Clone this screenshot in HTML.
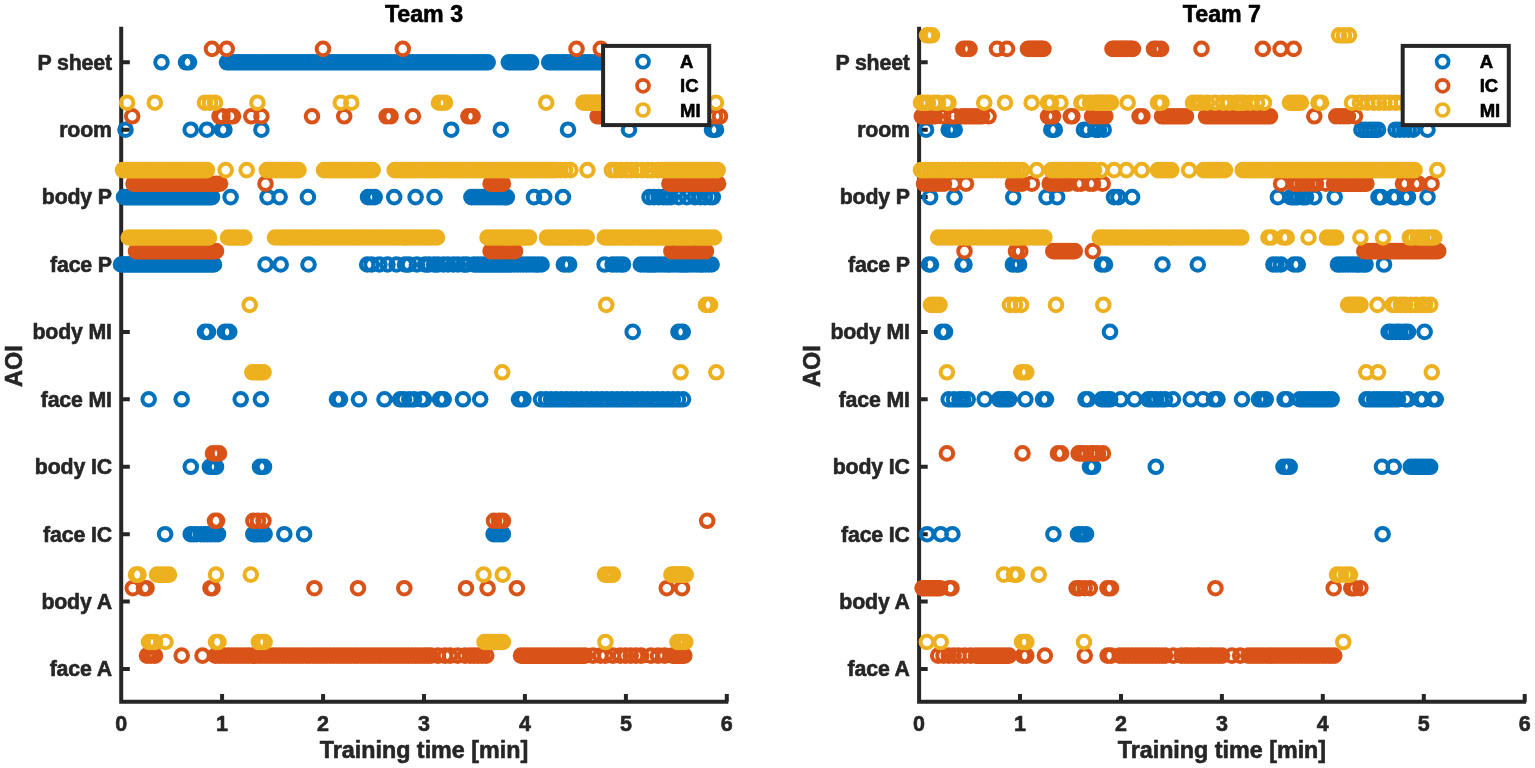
<!DOCTYPE html>
<html><head><meta charset="utf-8"><title>Team 3 / Team 7 AOI</title>
<style>html,body{margin:0;padding:0;background:#fff;width:1535px;height:768px;overflow:hidden}svg{display:block}</style>
</head><body>
<svg width="1535" height="768" viewBox="0 0 1535 768">
<rect width="100%" height="100%" fill="#fff"/>
<g>
<path d="M121.2 26.7V701.7H728.3" fill="none" stroke="#262626" stroke-width="4" stroke-linejoin="miter"/>
<path d="M121.2 62.3H129.8M121.2 129.7H129.8M121.2 197.1H129.8M121.2 264.5H129.8M121.2 331.9H129.8M121.2 399.3H129.8M121.2 466.8H129.8M121.2 534.2H129.8M121.2 601.6H129.8M121.2 669H129.8M222.1 701.7V694.1M323.1 701.7V694.1M424 701.7V694.1M524.9 701.7V694.1M625.9 701.7V694.1M726.8 701.7V694.1" stroke="#262626" stroke-width="4" fill="none"/>
<path fill="none" stroke="#0072BD" stroke-width="4.0" d="M155.2 62.3a6.3 6.3 0 1 0 12.6 0a6.3 6.3 0 1 0 -12.6 0M179.7 62.3a6.3 6.3 0 1 0 12.6 0a6.3 6.3 0 1 0 -12.6 0M182.7 62.3a6.3 6.3 0 1 0 12.6 0a6.3 6.3 0 1 0 -12.6 0M220.7 62.3a6.3 6.3 0 1 0 12.6 0a6.3 6.3 0 1 0 -12.6 0M223.2 62.3a6.3 6.3 0 1 0 12.6 0a6.3 6.3 0 1 0 -12.6 0M225.7 62.3a6.3 6.3 0 1 0 12.6 0a6.3 6.3 0 1 0 -12.6 0M228.2 62.3a6.3 6.3 0 1 0 12.6 0a6.3 6.3 0 1 0 -12.6 0M230.7 62.3a6.3 6.3 0 1 0 12.6 0a6.3 6.3 0 1 0 -12.6 0M233.2 62.3a6.3 6.3 0 1 0 12.6 0a6.3 6.3 0 1 0 -12.6 0M235.7 62.3a6.3 6.3 0 1 0 12.6 0a6.3 6.3 0 1 0 -12.6 0M238.2 62.3a6.3 6.3 0 1 0 12.6 0a6.3 6.3 0 1 0 -12.6 0M240.8 62.3a6.3 6.3 0 1 0 12.6 0a6.3 6.3 0 1 0 -12.6 0M243.3 62.3a6.3 6.3 0 1 0 12.6 0a6.3 6.3 0 1 0 -12.6 0M245.8 62.3a6.3 6.3 0 1 0 12.6 0a6.3 6.3 0 1 0 -12.6 0M248.3 62.3a6.3 6.3 0 1 0 12.6 0a6.3 6.3 0 1 0 -12.6 0M250.8 62.3a6.3 6.3 0 1 0 12.6 0a6.3 6.3 0 1 0 -12.6 0M253.3 62.3a6.3 6.3 0 1 0 12.6 0a6.3 6.3 0 1 0 -12.6 0M255.8 62.3a6.3 6.3 0 1 0 12.6 0a6.3 6.3 0 1 0 -12.6 0M258.3 62.3a6.3 6.3 0 1 0 12.6 0a6.3 6.3 0 1 0 -12.6 0M260.8 62.3a6.3 6.3 0 1 0 12.6 0a6.3 6.3 0 1 0 -12.6 0M263.3 62.3a6.3 6.3 0 1 0 12.6 0a6.3 6.3 0 1 0 -12.6 0M265.8 62.3a6.3 6.3 0 1 0 12.6 0a6.3 6.3 0 1 0 -12.6 0M268.3 62.3a6.3 6.3 0 1 0 12.6 0a6.3 6.3 0 1 0 -12.6 0M270.8 62.3a6.3 6.3 0 1 0 12.6 0a6.3 6.3 0 1 0 -12.6 0M273.3 62.3a6.3 6.3 0 1 0 12.6 0a6.3 6.3 0 1 0 -12.6 0M275.8 62.3a6.3 6.3 0 1 0 12.6 0a6.3 6.3 0 1 0 -12.6 0M278.4 62.3a6.3 6.3 0 1 0 12.6 0a6.3 6.3 0 1 0 -12.6 0M280.9 62.3a6.3 6.3 0 1 0 12.6 0a6.3 6.3 0 1 0 -12.6 0M283.4 62.3a6.3 6.3 0 1 0 12.6 0a6.3 6.3 0 1 0 -12.6 0M285.9 62.3a6.3 6.3 0 1 0 12.6 0a6.3 6.3 0 1 0 -12.6 0M288.4 62.3a6.3 6.3 0 1 0 12.6 0a6.3 6.3 0 1 0 -12.6 0M290.9 62.3a6.3 6.3 0 1 0 12.6 0a6.3 6.3 0 1 0 -12.6 0M293.4 62.3a6.3 6.3 0 1 0 12.6 0a6.3 6.3 0 1 0 -12.6 0M295.9 62.3a6.3 6.3 0 1 0 12.6 0a6.3 6.3 0 1 0 -12.6 0M298.4 62.3a6.3 6.3 0 1 0 12.6 0a6.3 6.3 0 1 0 -12.6 0M300.9 62.3a6.3 6.3 0 1 0 12.6 0a6.3 6.3 0 1 0 -12.6 0M303.4 62.3a6.3 6.3 0 1 0 12.6 0a6.3 6.3 0 1 0 -12.6 0M305.9 62.3a6.3 6.3 0 1 0 12.6 0a6.3 6.3 0 1 0 -12.6 0M308.4 62.3a6.3 6.3 0 1 0 12.6 0a6.3 6.3 0 1 0 -12.6 0M310.9 62.3a6.3 6.3 0 1 0 12.6 0a6.3 6.3 0 1 0 -12.6 0M313.4 62.3a6.3 6.3 0 1 0 12.6 0a6.3 6.3 0 1 0 -12.6 0M316 62.3a6.3 6.3 0 1 0 12.6 0a6.3 6.3 0 1 0 -12.6 0M318.5 62.3a6.3 6.3 0 1 0 12.6 0a6.3 6.3 0 1 0 -12.6 0M321 62.3a6.3 6.3 0 1 0 12.6 0a6.3 6.3 0 1 0 -12.6 0M323.5 62.3a6.3 6.3 0 1 0 12.6 0a6.3 6.3 0 1 0 -12.6 0M326 62.3a6.3 6.3 0 1 0 12.6 0a6.3 6.3 0 1 0 -12.6 0M328.5 62.3a6.3 6.3 0 1 0 12.6 0a6.3 6.3 0 1 0 -12.6 0M331 62.3a6.3 6.3 0 1 0 12.6 0a6.3 6.3 0 1 0 -12.6 0M333.5 62.3a6.3 6.3 0 1 0 12.6 0a6.3 6.3 0 1 0 -12.6 0M336 62.3a6.3 6.3 0 1 0 12.6 0a6.3 6.3 0 1 0 -12.6 0M338.5 62.3a6.3 6.3 0 1 0 12.6 0a6.3 6.3 0 1 0 -12.6 0M341 62.3a6.3 6.3 0 1 0 12.6 0a6.3 6.3 0 1 0 -12.6 0M343.5 62.3a6.3 6.3 0 1 0 12.6 0a6.3 6.3 0 1 0 -12.6 0M346 62.3a6.3 6.3 0 1 0 12.6 0a6.3 6.3 0 1 0 -12.6 0M348.5 62.3a6.3 6.3 0 1 0 12.6 0a6.3 6.3 0 1 0 -12.6 0M351.1 62.3a6.3 6.3 0 1 0 12.6 0a6.3 6.3 0 1 0 -12.6 0M353.6 62.3a6.3 6.3 0 1 0 12.6 0a6.3 6.3 0 1 0 -12.6 0M356.1 62.3a6.3 6.3 0 1 0 12.6 0a6.3 6.3 0 1 0 -12.6 0M358.6 62.3a6.3 6.3 0 1 0 12.6 0a6.3 6.3 0 1 0 -12.6 0M361.1 62.3a6.3 6.3 0 1 0 12.6 0a6.3 6.3 0 1 0 -12.6 0M363.6 62.3a6.3 6.3 0 1 0 12.6 0a6.3 6.3 0 1 0 -12.6 0M366.1 62.3a6.3 6.3 0 1 0 12.6 0a6.3 6.3 0 1 0 -12.6 0M368.6 62.3a6.3 6.3 0 1 0 12.6 0a6.3 6.3 0 1 0 -12.6 0M371.1 62.3a6.3 6.3 0 1 0 12.6 0a6.3 6.3 0 1 0 -12.6 0M373.6 62.3a6.3 6.3 0 1 0 12.6 0a6.3 6.3 0 1 0 -12.6 0M376.1 62.3a6.3 6.3 0 1 0 12.6 0a6.3 6.3 0 1 0 -12.6 0M378.6 62.3a6.3 6.3 0 1 0 12.6 0a6.3 6.3 0 1 0 -12.6 0M381.1 62.3a6.3 6.3 0 1 0 12.6 0a6.3 6.3 0 1 0 -12.6 0M383.6 62.3a6.3 6.3 0 1 0 12.6 0a6.3 6.3 0 1 0 -12.6 0M386.1 62.3a6.3 6.3 0 1 0 12.6 0a6.3 6.3 0 1 0 -12.6 0M388.7 62.3a6.3 6.3 0 1 0 12.6 0a6.3 6.3 0 1 0 -12.6 0M391.2 62.3a6.3 6.3 0 1 0 12.6 0a6.3 6.3 0 1 0 -12.6 0M393.7 62.3a6.3 6.3 0 1 0 12.6 0a6.3 6.3 0 1 0 -12.6 0M396.2 62.3a6.3 6.3 0 1 0 12.6 0a6.3 6.3 0 1 0 -12.6 0M398.7 62.3a6.3 6.3 0 1 0 12.6 0a6.3 6.3 0 1 0 -12.6 0M401.2 62.3a6.3 6.3 0 1 0 12.6 0a6.3 6.3 0 1 0 -12.6 0M403.7 62.3a6.3 6.3 0 1 0 12.6 0a6.3 6.3 0 1 0 -12.6 0M406.2 62.3a6.3 6.3 0 1 0 12.6 0a6.3 6.3 0 1 0 -12.6 0M408.7 62.3a6.3 6.3 0 1 0 12.6 0a6.3 6.3 0 1 0 -12.6 0M411.2 62.3a6.3 6.3 0 1 0 12.6 0a6.3 6.3 0 1 0 -12.6 0M413.7 62.3a6.3 6.3 0 1 0 12.6 0a6.3 6.3 0 1 0 -12.6 0M416.2 62.3a6.3 6.3 0 1 0 12.6 0a6.3 6.3 0 1 0 -12.6 0M418.7 62.3a6.3 6.3 0 1 0 12.6 0a6.3 6.3 0 1 0 -12.6 0M421.2 62.3a6.3 6.3 0 1 0 12.6 0a6.3 6.3 0 1 0 -12.6 0M423.7 62.3a6.3 6.3 0 1 0 12.6 0a6.3 6.3 0 1 0 -12.6 0M426.3 62.3a6.3 6.3 0 1 0 12.6 0a6.3 6.3 0 1 0 -12.6 0M428.8 62.3a6.3 6.3 0 1 0 12.6 0a6.3 6.3 0 1 0 -12.6 0M431.3 62.3a6.3 6.3 0 1 0 12.6 0a6.3 6.3 0 1 0 -12.6 0M433.8 62.3a6.3 6.3 0 1 0 12.6 0a6.3 6.3 0 1 0 -12.6 0M436.3 62.3a6.3 6.3 0 1 0 12.6 0a6.3 6.3 0 1 0 -12.6 0M438.8 62.3a6.3 6.3 0 1 0 12.6 0a6.3 6.3 0 1 0 -12.6 0M441.3 62.3a6.3 6.3 0 1 0 12.6 0a6.3 6.3 0 1 0 -12.6 0M443.8 62.3a6.3 6.3 0 1 0 12.6 0a6.3 6.3 0 1 0 -12.6 0M446.3 62.3a6.3 6.3 0 1 0 12.6 0a6.3 6.3 0 1 0 -12.6 0M448.8 62.3a6.3 6.3 0 1 0 12.6 0a6.3 6.3 0 1 0 -12.6 0M451.3 62.3a6.3 6.3 0 1 0 12.6 0a6.3 6.3 0 1 0 -12.6 0M453.8 62.3a6.3 6.3 0 1 0 12.6 0a6.3 6.3 0 1 0 -12.6 0M456.3 62.3a6.3 6.3 0 1 0 12.6 0a6.3 6.3 0 1 0 -12.6 0M458.8 62.3a6.3 6.3 0 1 0 12.6 0a6.3 6.3 0 1 0 -12.6 0M461.3 62.3a6.3 6.3 0 1 0 12.6 0a6.3 6.3 0 1 0 -12.6 0M463.9 62.3a6.3 6.3 0 1 0 12.6 0a6.3 6.3 0 1 0 -12.6 0M466.4 62.3a6.3 6.3 0 1 0 12.6 0a6.3 6.3 0 1 0 -12.6 0M468.9 62.3a6.3 6.3 0 1 0 12.6 0a6.3 6.3 0 1 0 -12.6 0M471.4 62.3a6.3 6.3 0 1 0 12.6 0a6.3 6.3 0 1 0 -12.6 0M473.9 62.3a6.3 6.3 0 1 0 12.6 0a6.3 6.3 0 1 0 -12.6 0M476.4 62.3a6.3 6.3 0 1 0 12.6 0a6.3 6.3 0 1 0 -12.6 0M478.9 62.3a6.3 6.3 0 1 0 12.6 0a6.3 6.3 0 1 0 -12.6 0M481.4 62.3a6.3 6.3 0 1 0 12.6 0a6.3 6.3 0 1 0 -12.6 0M502.5 62.3a6.3 6.3 0 1 0 12.6 0a6.3 6.3 0 1 0 -12.6 0M505 62.3a6.3 6.3 0 1 0 12.6 0a6.3 6.3 0 1 0 -12.6 0M507.5 62.3a6.3 6.3 0 1 0 12.6 0a6.3 6.3 0 1 0 -12.6 0M509.9 62.3a6.3 6.3 0 1 0 12.6 0a6.3 6.3 0 1 0 -12.6 0M512.4 62.3a6.3 6.3 0 1 0 12.6 0a6.3 6.3 0 1 0 -12.6 0M514.9 62.3a6.3 6.3 0 1 0 12.6 0a6.3 6.3 0 1 0 -12.6 0M517.4 62.3a6.3 6.3 0 1 0 12.6 0a6.3 6.3 0 1 0 -12.6 0M519.8 62.3a6.3 6.3 0 1 0 12.6 0a6.3 6.3 0 1 0 -12.6 0M522.3 62.3a6.3 6.3 0 1 0 12.6 0a6.3 6.3 0 1 0 -12.6 0M524.8 62.3a6.3 6.3 0 1 0 12.6 0a6.3 6.3 0 1 0 -12.6 0M542.9 62.3a6.3 6.3 0 1 0 12.6 0a6.3 6.3 0 1 0 -12.6 0M545.4 62.3a6.3 6.3 0 1 0 12.6 0a6.3 6.3 0 1 0 -12.6 0M548 62.3a6.3 6.3 0 1 0 12.6 0a6.3 6.3 0 1 0 -12.6 0M550.5 62.3a6.3 6.3 0 1 0 12.6 0a6.3 6.3 0 1 0 -12.6 0M553 62.3a6.3 6.3 0 1 0 12.6 0a6.3 6.3 0 1 0 -12.6 0M555.6 62.3a6.3 6.3 0 1 0 12.6 0a6.3 6.3 0 1 0 -12.6 0M558.1 62.3a6.3 6.3 0 1 0 12.6 0a6.3 6.3 0 1 0 -12.6 0M560.6 62.3a6.3 6.3 0 1 0 12.6 0a6.3 6.3 0 1 0 -12.6 0M563.2 62.3a6.3 6.3 0 1 0 12.6 0a6.3 6.3 0 1 0 -12.6 0M565.7 62.3a6.3 6.3 0 1 0 12.6 0a6.3 6.3 0 1 0 -12.6 0M568.2 62.3a6.3 6.3 0 1 0 12.6 0a6.3 6.3 0 1 0 -12.6 0M570.8 62.3a6.3 6.3 0 1 0 12.6 0a6.3 6.3 0 1 0 -12.6 0M573.3 62.3a6.3 6.3 0 1 0 12.6 0a6.3 6.3 0 1 0 -12.6 0M575.8 62.3a6.3 6.3 0 1 0 12.6 0a6.3 6.3 0 1 0 -12.6 0M578.4 62.3a6.3 6.3 0 1 0 12.6 0a6.3 6.3 0 1 0 -12.6 0M580.9 62.3a6.3 6.3 0 1 0 12.6 0a6.3 6.3 0 1 0 -12.6 0M583.4 62.3a6.3 6.3 0 1 0 12.6 0a6.3 6.3 0 1 0 -12.6 0M586 62.3a6.3 6.3 0 1 0 12.6 0a6.3 6.3 0 1 0 -12.6 0M588.5 62.3a6.3 6.3 0 1 0 12.6 0a6.3 6.3 0 1 0 -12.6 0M591 62.3a6.3 6.3 0 1 0 12.6 0a6.3 6.3 0 1 0 -12.6 0M593.6 62.3a6.3 6.3 0 1 0 12.6 0a6.3 6.3 0 1 0 -12.6 0M596.1 62.3a6.3 6.3 0 1 0 12.6 0a6.3 6.3 0 1 0 -12.6 0M598.6 62.3a6.3 6.3 0 1 0 12.6 0a6.3 6.3 0 1 0 -12.6 0M601.2 62.3a6.3 6.3 0 1 0 12.6 0a6.3 6.3 0 1 0 -12.6 0M603.7 62.3a6.3 6.3 0 1 0 12.6 0a6.3 6.3 0 1 0 -12.6 0M119.2 129.7a6.3 6.3 0 1 0 12.6 0a6.3 6.3 0 1 0 -12.6 0M184.4 129.7a6.3 6.3 0 1 0 12.6 0a6.3 6.3 0 1 0 -12.6 0M200.6 129.7a6.3 6.3 0 1 0 12.6 0a6.3 6.3 0 1 0 -12.6 0M215.7 129.7a6.3 6.3 0 1 0 12.6 0a6.3 6.3 0 1 0 -12.6 0M218.1 129.7a6.3 6.3 0 1 0 12.6 0a6.3 6.3 0 1 0 -12.6 0M255.1 129.7a6.3 6.3 0 1 0 12.6 0a6.3 6.3 0 1 0 -12.6 0M445 129.7a6.3 6.3 0 1 0 12.6 0a6.3 6.3 0 1 0 -12.6 0M494.5 129.7a6.3 6.3 0 1 0 12.6 0a6.3 6.3 0 1 0 -12.6 0M561.7 129.7a6.3 6.3 0 1 0 12.6 0a6.3 6.3 0 1 0 -12.6 0M622.7 129.7a6.3 6.3 0 1 0 12.6 0a6.3 6.3 0 1 0 -12.6 0M705.7 129.7a6.3 6.3 0 1 0 12.6 0a6.3 6.3 0 1 0 -12.6 0M709.7 129.7a6.3 6.3 0 1 0 12.6 0a6.3 6.3 0 1 0 -12.6 0M117.7 197.1a6.3 6.3 0 1 0 12.6 0a6.3 6.3 0 1 0 -12.6 0M120.2 197.1a6.3 6.3 0 1 0 12.6 0a6.3 6.3 0 1 0 -12.6 0M122.7 197.1a6.3 6.3 0 1 0 12.6 0a6.3 6.3 0 1 0 -12.6 0M125.2 197.1a6.3 6.3 0 1 0 12.6 0a6.3 6.3 0 1 0 -12.6 0M127.8 197.1a6.3 6.3 0 1 0 12.6 0a6.3 6.3 0 1 0 -12.6 0M130.3 197.1a6.3 6.3 0 1 0 12.6 0a6.3 6.3 0 1 0 -12.6 0M132.8 197.1a6.3 6.3 0 1 0 12.6 0a6.3 6.3 0 1 0 -12.6 0M135.3 197.1a6.3 6.3 0 1 0 12.6 0a6.3 6.3 0 1 0 -12.6 0M137.8 197.1a6.3 6.3 0 1 0 12.6 0a6.3 6.3 0 1 0 -12.6 0M140.3 197.1a6.3 6.3 0 1 0 12.6 0a6.3 6.3 0 1 0 -12.6 0M142.8 197.1a6.3 6.3 0 1 0 12.6 0a6.3 6.3 0 1 0 -12.6 0M145.4 197.1a6.3 6.3 0 1 0 12.6 0a6.3 6.3 0 1 0 -12.6 0M147.9 197.1a6.3 6.3 0 1 0 12.6 0a6.3 6.3 0 1 0 -12.6 0M150.4 197.1a6.3 6.3 0 1 0 12.6 0a6.3 6.3 0 1 0 -12.6 0M152.9 197.1a6.3 6.3 0 1 0 12.6 0a6.3 6.3 0 1 0 -12.6 0M155.4 197.1a6.3 6.3 0 1 0 12.6 0a6.3 6.3 0 1 0 -12.6 0M157.9 197.1a6.3 6.3 0 1 0 12.6 0a6.3 6.3 0 1 0 -12.6 0M160.4 197.1a6.3 6.3 0 1 0 12.6 0a6.3 6.3 0 1 0 -12.6 0M163 197.1a6.3 6.3 0 1 0 12.6 0a6.3 6.3 0 1 0 -12.6 0M165.5 197.1a6.3 6.3 0 1 0 12.6 0a6.3 6.3 0 1 0 -12.6 0M168 197.1a6.3 6.3 0 1 0 12.6 0a6.3 6.3 0 1 0 -12.6 0M170.5 197.1a6.3 6.3 0 1 0 12.6 0a6.3 6.3 0 1 0 -12.6 0M173 197.1a6.3 6.3 0 1 0 12.6 0a6.3 6.3 0 1 0 -12.6 0M175.5 197.1a6.3 6.3 0 1 0 12.6 0a6.3 6.3 0 1 0 -12.6 0M178 197.1a6.3 6.3 0 1 0 12.6 0a6.3 6.3 0 1 0 -12.6 0M180.6 197.1a6.3 6.3 0 1 0 12.6 0a6.3 6.3 0 1 0 -12.6 0M183.1 197.1a6.3 6.3 0 1 0 12.6 0a6.3 6.3 0 1 0 -12.6 0M185.6 197.1a6.3 6.3 0 1 0 12.6 0a6.3 6.3 0 1 0 -12.6 0M188.1 197.1a6.3 6.3 0 1 0 12.6 0a6.3 6.3 0 1 0 -12.6 0M190.6 197.1a6.3 6.3 0 1 0 12.6 0a6.3 6.3 0 1 0 -12.6 0M193.1 197.1a6.3 6.3 0 1 0 12.6 0a6.3 6.3 0 1 0 -12.6 0M195.6 197.1a6.3 6.3 0 1 0 12.6 0a6.3 6.3 0 1 0 -12.6 0M198.2 197.1a6.3 6.3 0 1 0 12.6 0a6.3 6.3 0 1 0 -12.6 0M200.7 197.1a6.3 6.3 0 1 0 12.6 0a6.3 6.3 0 1 0 -12.6 0M203.2 197.1a6.3 6.3 0 1 0 12.6 0a6.3 6.3 0 1 0 -12.6 0M205.7 197.1a6.3 6.3 0 1 0 12.6 0a6.3 6.3 0 1 0 -12.6 0M224.3 197.1a6.3 6.3 0 1 0 12.6 0a6.3 6.3 0 1 0 -12.6 0M261.2 197.1a6.3 6.3 0 1 0 12.6 0a6.3 6.3 0 1 0 -12.6 0M273.3 197.1a6.3 6.3 0 1 0 12.6 0a6.3 6.3 0 1 0 -12.6 0M301.6 197.1a6.3 6.3 0 1 0 12.6 0a6.3 6.3 0 1 0 -12.6 0M361.7 197.1a6.3 6.3 0 1 0 12.6 0a6.3 6.3 0 1 0 -12.6 0M364.7 197.1a6.3 6.3 0 1 0 12.6 0a6.3 6.3 0 1 0 -12.6 0M368.4 197.1a6.3 6.3 0 1 0 12.6 0a6.3 6.3 0 1 0 -12.6 0M387.9 197.1a6.3 6.3 0 1 0 12.6 0a6.3 6.3 0 1 0 -12.6 0M409.3 197.1a6.3 6.3 0 1 0 12.6 0a6.3 6.3 0 1 0 -12.6 0M428.2 197.1a6.3 6.3 0 1 0 12.6 0a6.3 6.3 0 1 0 -12.6 0M465.1 197.1a6.3 6.3 0 1 0 12.6 0a6.3 6.3 0 1 0 -12.6 0M467.6 197.1a6.3 6.3 0 1 0 12.6 0a6.3 6.3 0 1 0 -12.6 0M470.2 197.1a6.3 6.3 0 1 0 12.6 0a6.3 6.3 0 1 0 -12.6 0M472.7 197.1a6.3 6.3 0 1 0 12.6 0a6.3 6.3 0 1 0 -12.6 0M475.2 197.1a6.3 6.3 0 1 0 12.6 0a6.3 6.3 0 1 0 -12.6 0M477.8 197.1a6.3 6.3 0 1 0 12.6 0a6.3 6.3 0 1 0 -12.6 0M480.3 197.1a6.3 6.3 0 1 0 12.6 0a6.3 6.3 0 1 0 -12.6 0M482.8 197.1a6.3 6.3 0 1 0 12.6 0a6.3 6.3 0 1 0 -12.6 0M485.4 197.1a6.3 6.3 0 1 0 12.6 0a6.3 6.3 0 1 0 -12.6 0M487.9 197.1a6.3 6.3 0 1 0 12.6 0a6.3 6.3 0 1 0 -12.6 0M490.5 197.1a6.3 6.3 0 1 0 12.6 0a6.3 6.3 0 1 0 -12.6 0M493 197.1a6.3 6.3 0 1 0 12.6 0a6.3 6.3 0 1 0 -12.6 0M495.5 197.1a6.3 6.3 0 1 0 12.6 0a6.3 6.3 0 1 0 -12.6 0M498.1 197.1a6.3 6.3 0 1 0 12.6 0a6.3 6.3 0 1 0 -12.6 0M500.6 197.1a6.3 6.3 0 1 0 12.6 0a6.3 6.3 0 1 0 -12.6 0M527.7 197.1a6.3 6.3 0 1 0 12.6 0a6.3 6.3 0 1 0 -12.6 0M537.9 197.1a6.3 6.3 0 1 0 12.6 0a6.3 6.3 0 1 0 -12.6 0M556.7 197.1a6.3 6.3 0 1 0 12.6 0a6.3 6.3 0 1 0 -12.6 0M643.2 197.1a6.3 6.3 0 1 0 12.6 0a6.3 6.3 0 1 0 -12.6 0M647.7 197.1a6.3 6.3 0 1 0 12.6 0a6.3 6.3 0 1 0 -12.6 0M652.4 197.1a6.3 6.3 0 1 0 12.6 0a6.3 6.3 0 1 0 -12.6 0M656.7 197.1a6.3 6.3 0 1 0 12.6 0a6.3 6.3 0 1 0 -12.6 0M660.7 197.1a6.3 6.3 0 1 0 12.6 0a6.3 6.3 0 1 0 -12.6 0M664.6 197.1a6.3 6.3 0 1 0 12.6 0a6.3 6.3 0 1 0 -12.6 0M672.6 197.1a6.3 6.3 0 1 0 12.6 0a6.3 6.3 0 1 0 -12.6 0M680.6 197.1a6.3 6.3 0 1 0 12.6 0a6.3 6.3 0 1 0 -12.6 0M688.6 197.1a6.3 6.3 0 1 0 12.6 0a6.3 6.3 0 1 0 -12.6 0M694.3 197.1a6.3 6.3 0 1 0 12.6 0a6.3 6.3 0 1 0 -12.6 0M698.7 197.1a6.3 6.3 0 1 0 12.6 0a6.3 6.3 0 1 0 -12.6 0M703.7 197.1a6.3 6.3 0 1 0 12.6 0a6.3 6.3 0 1 0 -12.6 0M706.5 197.1a6.3 6.3 0 1 0 12.6 0a6.3 6.3 0 1 0 -12.6 0M114.7 264.5a6.3 6.3 0 1 0 12.6 0a6.3 6.3 0 1 0 -12.6 0M117.2 264.5a6.3 6.3 0 1 0 12.6 0a6.3 6.3 0 1 0 -12.6 0M119.7 264.5a6.3 6.3 0 1 0 12.6 0a6.3 6.3 0 1 0 -12.6 0M122.2 264.5a6.3 6.3 0 1 0 12.6 0a6.3 6.3 0 1 0 -12.6 0M124.8 264.5a6.3 6.3 0 1 0 12.6 0a6.3 6.3 0 1 0 -12.6 0M127.3 264.5a6.3 6.3 0 1 0 12.6 0a6.3 6.3 0 1 0 -12.6 0M129.8 264.5a6.3 6.3 0 1 0 12.6 0a6.3 6.3 0 1 0 -12.6 0M132.3 264.5a6.3 6.3 0 1 0 12.6 0a6.3 6.3 0 1 0 -12.6 0M134.8 264.5a6.3 6.3 0 1 0 12.6 0a6.3 6.3 0 1 0 -12.6 0M137.3 264.5a6.3 6.3 0 1 0 12.6 0a6.3 6.3 0 1 0 -12.6 0M139.8 264.5a6.3 6.3 0 1 0 12.6 0a6.3 6.3 0 1 0 -12.6 0M142.3 264.5a6.3 6.3 0 1 0 12.6 0a6.3 6.3 0 1 0 -12.6 0M144.9 264.5a6.3 6.3 0 1 0 12.6 0a6.3 6.3 0 1 0 -12.6 0M147.4 264.5a6.3 6.3 0 1 0 12.6 0a6.3 6.3 0 1 0 -12.6 0M149.9 264.5a6.3 6.3 0 1 0 12.6 0a6.3 6.3 0 1 0 -12.6 0M152.4 264.5a6.3 6.3 0 1 0 12.6 0a6.3 6.3 0 1 0 -12.6 0M154.9 264.5a6.3 6.3 0 1 0 12.6 0a6.3 6.3 0 1 0 -12.6 0M157.4 264.5a6.3 6.3 0 1 0 12.6 0a6.3 6.3 0 1 0 -12.6 0M159.9 264.5a6.3 6.3 0 1 0 12.6 0a6.3 6.3 0 1 0 -12.6 0M162.5 264.5a6.3 6.3 0 1 0 12.6 0a6.3 6.3 0 1 0 -12.6 0M165 264.5a6.3 6.3 0 1 0 12.6 0a6.3 6.3 0 1 0 -12.6 0M167.5 264.5a6.3 6.3 0 1 0 12.6 0a6.3 6.3 0 1 0 -12.6 0M170 264.5a6.3 6.3 0 1 0 12.6 0a6.3 6.3 0 1 0 -12.6 0M172.5 264.5a6.3 6.3 0 1 0 12.6 0a6.3 6.3 0 1 0 -12.6 0M175 264.5a6.3 6.3 0 1 0 12.6 0a6.3 6.3 0 1 0 -12.6 0M177.5 264.5a6.3 6.3 0 1 0 12.6 0a6.3 6.3 0 1 0 -12.6 0M180.1 264.5a6.3 6.3 0 1 0 12.6 0a6.3 6.3 0 1 0 -12.6 0M182.6 264.5a6.3 6.3 0 1 0 12.6 0a6.3 6.3 0 1 0 -12.6 0M185.1 264.5a6.3 6.3 0 1 0 12.6 0a6.3 6.3 0 1 0 -12.6 0M187.6 264.5a6.3 6.3 0 1 0 12.6 0a6.3 6.3 0 1 0 -12.6 0M190.1 264.5a6.3 6.3 0 1 0 12.6 0a6.3 6.3 0 1 0 -12.6 0M192.6 264.5a6.3 6.3 0 1 0 12.6 0a6.3 6.3 0 1 0 -12.6 0M195.1 264.5a6.3 6.3 0 1 0 12.6 0a6.3 6.3 0 1 0 -12.6 0M197.6 264.5a6.3 6.3 0 1 0 12.6 0a6.3 6.3 0 1 0 -12.6 0M200.2 264.5a6.3 6.3 0 1 0 12.6 0a6.3 6.3 0 1 0 -12.6 0M202.7 264.5a6.3 6.3 0 1 0 12.6 0a6.3 6.3 0 1 0 -12.6 0M205.2 264.5a6.3 6.3 0 1 0 12.6 0a6.3 6.3 0 1 0 -12.6 0M207.7 264.5a6.3 6.3 0 1 0 12.6 0a6.3 6.3 0 1 0 -12.6 0M259.2 264.5a6.3 6.3 0 1 0 12.6 0a6.3 6.3 0 1 0 -12.6 0M274.4 264.5a6.3 6.3 0 1 0 12.6 0a6.3 6.3 0 1 0 -12.6 0M302.2 264.5a6.3 6.3 0 1 0 12.6 0a6.3 6.3 0 1 0 -12.6 0M360.9 264.5a6.3 6.3 0 1 0 12.6 0a6.3 6.3 0 1 0 -12.6 0M365.2 264.5a6.3 6.3 0 1 0 12.6 0a6.3 6.3 0 1 0 -12.6 0M373.1 264.5a6.3 6.3 0 1 0 12.6 0a6.3 6.3 0 1 0 -12.6 0M381.2 264.5a6.3 6.3 0 1 0 12.6 0a6.3 6.3 0 1 0 -12.6 0M390.2 264.5a6.3 6.3 0 1 0 12.6 0a6.3 6.3 0 1 0 -12.6 0M398.7 264.5a6.3 6.3 0 1 0 12.6 0a6.3 6.3 0 1 0 -12.6 0M402.7 264.5a6.3 6.3 0 1 0 12.6 0a6.3 6.3 0 1 0 -12.6 0M410.6 264.5a6.3 6.3 0 1 0 12.6 0a6.3 6.3 0 1 0 -12.6 0M418.7 264.5a6.3 6.3 0 1 0 12.6 0a6.3 6.3 0 1 0 -12.6 0M422.7 264.5a6.3 6.3 0 1 0 12.6 0a6.3 6.3 0 1 0 -12.6 0M427.7 264.5a6.3 6.3 0 1 0 12.6 0a6.3 6.3 0 1 0 -12.6 0M431.7 264.5a6.3 6.3 0 1 0 12.6 0a6.3 6.3 0 1 0 -12.6 0M437.2 264.5a6.3 6.3 0 1 0 12.6 0a6.3 6.3 0 1 0 -12.6 0M441.7 264.5a6.3 6.3 0 1 0 12.6 0a6.3 6.3 0 1 0 -12.6 0M447.2 264.5a6.3 6.3 0 1 0 12.6 0a6.3 6.3 0 1 0 -12.6 0M451.7 264.5a6.3 6.3 0 1 0 12.6 0a6.3 6.3 0 1 0 -12.6 0M457 264.5a6.3 6.3 0 1 0 12.6 0a6.3 6.3 0 1 0 -12.6 0M460.7 264.5a6.3 6.3 0 1 0 12.6 0a6.3 6.3 0 1 0 -12.6 0M467.6 264.5a6.3 6.3 0 1 0 12.6 0a6.3 6.3 0 1 0 -12.6 0M471.7 264.5a6.3 6.3 0 1 0 12.6 0a6.3 6.3 0 1 0 -12.6 0M474.7 264.5a6.3 6.3 0 1 0 12.6 0a6.3 6.3 0 1 0 -12.6 0M477.8 264.5a6.3 6.3 0 1 0 12.6 0a6.3 6.3 0 1 0 -12.6 0M480.8 264.5a6.3 6.3 0 1 0 12.6 0a6.3 6.3 0 1 0 -12.6 0M483.8 264.5a6.3 6.3 0 1 0 12.6 0a6.3 6.3 0 1 0 -12.6 0M486.8 264.5a6.3 6.3 0 1 0 12.6 0a6.3 6.3 0 1 0 -12.6 0M489.9 264.5a6.3 6.3 0 1 0 12.6 0a6.3 6.3 0 1 0 -12.6 0M492.9 264.5a6.3 6.3 0 1 0 12.6 0a6.3 6.3 0 1 0 -12.6 0M495.9 264.5a6.3 6.3 0 1 0 12.6 0a6.3 6.3 0 1 0 -12.6 0M499 264.5a6.3 6.3 0 1 0 12.6 0a6.3 6.3 0 1 0 -12.6 0M502 264.5a6.3 6.3 0 1 0 12.6 0a6.3 6.3 0 1 0 -12.6 0M505 264.5a6.3 6.3 0 1 0 12.6 0a6.3 6.3 0 1 0 -12.6 0M508 264.5a6.3 6.3 0 1 0 12.6 0a6.3 6.3 0 1 0 -12.6 0M511.1 264.5a6.3 6.3 0 1 0 12.6 0a6.3 6.3 0 1 0 -12.6 0M514.1 264.5a6.3 6.3 0 1 0 12.6 0a6.3 6.3 0 1 0 -12.6 0M517.1 264.5a6.3 6.3 0 1 0 12.6 0a6.3 6.3 0 1 0 -12.6 0M520.2 264.5a6.3 6.3 0 1 0 12.6 0a6.3 6.3 0 1 0 -12.6 0M523.2 264.5a6.3 6.3 0 1 0 12.6 0a6.3 6.3 0 1 0 -12.6 0M526.2 264.5a6.3 6.3 0 1 0 12.6 0a6.3 6.3 0 1 0 -12.6 0M529.2 264.5a6.3 6.3 0 1 0 12.6 0a6.3 6.3 0 1 0 -12.6 0M532.3 264.5a6.3 6.3 0 1 0 12.6 0a6.3 6.3 0 1 0 -12.6 0M535.3 264.5a6.3 6.3 0 1 0 12.6 0a6.3 6.3 0 1 0 -12.6 0M557.5 264.5a6.3 6.3 0 1 0 12.6 0a6.3 6.3 0 1 0 -12.6 0M559.7 264.5a6.3 6.3 0 1 0 12.6 0a6.3 6.3 0 1 0 -12.6 0M562.8 264.5a6.3 6.3 0 1 0 12.6 0a6.3 6.3 0 1 0 -12.6 0M598.3 264.5a6.3 6.3 0 1 0 12.6 0a6.3 6.3 0 1 0 -12.6 0M606.3 264.5a6.3 6.3 0 1 0 12.6 0a6.3 6.3 0 1 0 -12.6 0M610.2 264.5a6.3 6.3 0 1 0 12.6 0a6.3 6.3 0 1 0 -12.6 0M614.3 264.5a6.3 6.3 0 1 0 12.6 0a6.3 6.3 0 1 0 -12.6 0M616.7 264.5a6.3 6.3 0 1 0 12.6 0a6.3 6.3 0 1 0 -12.6 0M634.5 264.5a6.3 6.3 0 1 0 12.6 0a6.3 6.3 0 1 0 -12.6 0M637.5 264.5a6.3 6.3 0 1 0 12.6 0a6.3 6.3 0 1 0 -12.6 0M640.4 264.5a6.3 6.3 0 1 0 12.6 0a6.3 6.3 0 1 0 -12.6 0M643.4 264.5a6.3 6.3 0 1 0 12.6 0a6.3 6.3 0 1 0 -12.6 0M646.3 264.5a6.3 6.3 0 1 0 12.6 0a6.3 6.3 0 1 0 -12.6 0M649.2 264.5a6.3 6.3 0 1 0 12.6 0a6.3 6.3 0 1 0 -12.6 0M652.2 264.5a6.3 6.3 0 1 0 12.6 0a6.3 6.3 0 1 0 -12.6 0M655.1 264.5a6.3 6.3 0 1 0 12.6 0a6.3 6.3 0 1 0 -12.6 0M658.1 264.5a6.3 6.3 0 1 0 12.6 0a6.3 6.3 0 1 0 -12.6 0M661.1 264.5a6.3 6.3 0 1 0 12.6 0a6.3 6.3 0 1 0 -12.6 0M664 264.5a6.3 6.3 0 1 0 12.6 0a6.3 6.3 0 1 0 -12.6 0M667 264.5a6.3 6.3 0 1 0 12.6 0a6.3 6.3 0 1 0 -12.6 0M669.9 264.5a6.3 6.3 0 1 0 12.6 0a6.3 6.3 0 1 0 -12.6 0M672.9 264.5a6.3 6.3 0 1 0 12.6 0a6.3 6.3 0 1 0 -12.6 0M675.8 264.5a6.3 6.3 0 1 0 12.6 0a6.3 6.3 0 1 0 -12.6 0M678.8 264.5a6.3 6.3 0 1 0 12.6 0a6.3 6.3 0 1 0 -12.6 0M681.7 264.5a6.3 6.3 0 1 0 12.6 0a6.3 6.3 0 1 0 -12.6 0M684.7 264.5a6.3 6.3 0 1 0 12.6 0a6.3 6.3 0 1 0 -12.6 0M687.6 264.5a6.3 6.3 0 1 0 12.6 0a6.3 6.3 0 1 0 -12.6 0M690.6 264.5a6.3 6.3 0 1 0 12.6 0a6.3 6.3 0 1 0 -12.6 0M693.5 264.5a6.3 6.3 0 1 0 12.6 0a6.3 6.3 0 1 0 -12.6 0M696.5 264.5a6.3 6.3 0 1 0 12.6 0a6.3 6.3 0 1 0 -12.6 0M699.4 264.5a6.3 6.3 0 1 0 12.6 0a6.3 6.3 0 1 0 -12.6 0M702.4 264.5a6.3 6.3 0 1 0 12.6 0a6.3 6.3 0 1 0 -12.6 0M705.3 264.5a6.3 6.3 0 1 0 12.6 0a6.3 6.3 0 1 0 -12.6 0M198.7 331.9a6.3 6.3 0 1 0 12.6 0a6.3 6.3 0 1 0 -12.6 0M201.7 331.9a6.3 6.3 0 1 0 12.6 0a6.3 6.3 0 1 0 -12.6 0M218.7 331.9a6.3 6.3 0 1 0 12.6 0a6.3 6.3 0 1 0 -12.6 0M220.7 331.9a6.3 6.3 0 1 0 12.6 0a6.3 6.3 0 1 0 -12.6 0M222.9 331.9a6.3 6.3 0 1 0 12.6 0a6.3 6.3 0 1 0 -12.6 0M626.4 331.9a6.3 6.3 0 1 0 12.6 0a6.3 6.3 0 1 0 -12.6 0M672.2 331.9a6.3 6.3 0 1 0 12.6 0a6.3 6.3 0 1 0 -12.6 0M674.2 331.9a6.3 6.3 0 1 0 12.6 0a6.3 6.3 0 1 0 -12.6 0M676.4 331.9a6.3 6.3 0 1 0 12.6 0a6.3 6.3 0 1 0 -12.6 0M142.4 399.3a6.3 6.3 0 1 0 12.6 0a6.3 6.3 0 1 0 -12.6 0M175.4 399.3a6.3 6.3 0 1 0 12.6 0a6.3 6.3 0 1 0 -12.6 0M234.4 399.3a6.3 6.3 0 1 0 12.6 0a6.3 6.3 0 1 0 -12.6 0M254.6 399.3a6.3 6.3 0 1 0 12.6 0a6.3 6.3 0 1 0 -12.6 0M330.7 399.3a6.3 6.3 0 1 0 12.6 0a6.3 6.3 0 1 0 -12.6 0M333.7 399.3a6.3 6.3 0 1 0 12.6 0a6.3 6.3 0 1 0 -12.6 0M352.7 399.3a6.3 6.3 0 1 0 12.6 0a6.3 6.3 0 1 0 -12.6 0M378.2 399.3a6.3 6.3 0 1 0 12.6 0a6.3 6.3 0 1 0 -12.6 0M393.9 399.3a6.3 6.3 0 1 0 12.6 0a6.3 6.3 0 1 0 -12.6 0M397.7 399.3a6.3 6.3 0 1 0 12.6 0a6.3 6.3 0 1 0 -12.6 0M403 399.3a6.3 6.3 0 1 0 12.6 0a6.3 6.3 0 1 0 -12.6 0M407.7 399.3a6.3 6.3 0 1 0 12.6 0a6.3 6.3 0 1 0 -12.6 0M415.2 399.3a6.3 6.3 0 1 0 12.6 0a6.3 6.3 0 1 0 -12.6 0M417.7 399.3a6.3 6.3 0 1 0 12.6 0a6.3 6.3 0 1 0 -12.6 0M433.7 399.3a6.3 6.3 0 1 0 12.6 0a6.3 6.3 0 1 0 -12.6 0M437.4 399.3a6.3 6.3 0 1 0 12.6 0a6.3 6.3 0 1 0 -12.6 0M456.7 399.3a6.3 6.3 0 1 0 12.6 0a6.3 6.3 0 1 0 -12.6 0M473.9 399.3a6.3 6.3 0 1 0 12.6 0a6.3 6.3 0 1 0 -12.6 0M512.7 399.3a6.3 6.3 0 1 0 12.6 0a6.3 6.3 0 1 0 -12.6 0M515 399.3a6.3 6.3 0 1 0 12.6 0a6.3 6.3 0 1 0 -12.6 0M517.2 399.3a6.3 6.3 0 1 0 12.6 0a6.3 6.3 0 1 0 -12.6 0M534.7 399.3a6.3 6.3 0 1 0 12.6 0a6.3 6.3 0 1 0 -12.6 0M539.8 399.3a6.3 6.3 0 1 0 12.6 0a6.3 6.3 0 1 0 -12.6 0M544.8 399.3a6.3 6.3 0 1 0 12.6 0a6.3 6.3 0 1 0 -12.6 0M549.9 399.3a6.3 6.3 0 1 0 12.6 0a6.3 6.3 0 1 0 -12.6 0M555 399.3a6.3 6.3 0 1 0 12.6 0a6.3 6.3 0 1 0 -12.6 0M560.1 399.3a6.3 6.3 0 1 0 12.6 0a6.3 6.3 0 1 0 -12.6 0M565.1 399.3a6.3 6.3 0 1 0 12.6 0a6.3 6.3 0 1 0 -12.6 0M570.2 399.3a6.3 6.3 0 1 0 12.6 0a6.3 6.3 0 1 0 -12.6 0M575.3 399.3a6.3 6.3 0 1 0 12.6 0a6.3 6.3 0 1 0 -12.6 0M580.3 399.3a6.3 6.3 0 1 0 12.6 0a6.3 6.3 0 1 0 -12.6 0M585.4 399.3a6.3 6.3 0 1 0 12.6 0a6.3 6.3 0 1 0 -12.6 0M590.5 399.3a6.3 6.3 0 1 0 12.6 0a6.3 6.3 0 1 0 -12.6 0M595.6 399.3a6.3 6.3 0 1 0 12.6 0a6.3 6.3 0 1 0 -12.6 0M600.6 399.3a6.3 6.3 0 1 0 12.6 0a6.3 6.3 0 1 0 -12.6 0M605.7 399.3a6.3 6.3 0 1 0 12.6 0a6.3 6.3 0 1 0 -12.6 0M610.8 399.3a6.3 6.3 0 1 0 12.6 0a6.3 6.3 0 1 0 -12.6 0M615.8 399.3a6.3 6.3 0 1 0 12.6 0a6.3 6.3 0 1 0 -12.6 0M620.9 399.3a6.3 6.3 0 1 0 12.6 0a6.3 6.3 0 1 0 -12.6 0M626 399.3a6.3 6.3 0 1 0 12.6 0a6.3 6.3 0 1 0 -12.6 0M631.1 399.3a6.3 6.3 0 1 0 12.6 0a6.3 6.3 0 1 0 -12.6 0M636.1 399.3a6.3 6.3 0 1 0 12.6 0a6.3 6.3 0 1 0 -12.6 0M641.2 399.3a6.3 6.3 0 1 0 12.6 0a6.3 6.3 0 1 0 -12.6 0M646.3 399.3a6.3 6.3 0 1 0 12.6 0a6.3 6.3 0 1 0 -12.6 0M651.3 399.3a6.3 6.3 0 1 0 12.6 0a6.3 6.3 0 1 0 -12.6 0M656.4 399.3a6.3 6.3 0 1 0 12.6 0a6.3 6.3 0 1 0 -12.6 0M661.5 399.3a6.3 6.3 0 1 0 12.6 0a6.3 6.3 0 1 0 -12.6 0M666.6 399.3a6.3 6.3 0 1 0 12.6 0a6.3 6.3 0 1 0 -12.6 0M671.6 399.3a6.3 6.3 0 1 0 12.6 0a6.3 6.3 0 1 0 -12.6 0M676.7 399.3a6.3 6.3 0 1 0 12.6 0a6.3 6.3 0 1 0 -12.6 0M184.5 466.8a6.3 6.3 0 1 0 12.6 0a6.3 6.3 0 1 0 -12.6 0M203.6 466.8a6.3 6.3 0 1 0 12.6 0a6.3 6.3 0 1 0 -12.6 0M206.6 466.8a6.3 6.3 0 1 0 12.6 0a6.3 6.3 0 1 0 -12.6 0M209.7 466.8a6.3 6.3 0 1 0 12.6 0a6.3 6.3 0 1 0 -12.6 0M253.7 466.8a6.3 6.3 0 1 0 12.6 0a6.3 6.3 0 1 0 -12.6 0M257.7 466.8a6.3 6.3 0 1 0 12.6 0a6.3 6.3 0 1 0 -12.6 0M158.8 534.2a6.3 6.3 0 1 0 12.6 0a6.3 6.3 0 1 0 -12.6 0M184.4 534.2a6.3 6.3 0 1 0 12.6 0a6.3 6.3 0 1 0 -12.6 0M187.2 534.2a6.3 6.3 0 1 0 12.6 0a6.3 6.3 0 1 0 -12.6 0M190.2 534.2a6.3 6.3 0 1 0 12.6 0a6.3 6.3 0 1 0 -12.6 0M194.7 534.2a6.3 6.3 0 1 0 12.6 0a6.3 6.3 0 1 0 -12.6 0M197.7 534.2a6.3 6.3 0 1 0 12.6 0a6.3 6.3 0 1 0 -12.6 0M201.2 534.2a6.3 6.3 0 1 0 12.6 0a6.3 6.3 0 1 0 -12.6 0M204.7 534.2a6.3 6.3 0 1 0 12.6 0a6.3 6.3 0 1 0 -12.6 0M208.2 534.2a6.3 6.3 0 1 0 12.6 0a6.3 6.3 0 1 0 -12.6 0M211.7 534.2a6.3 6.3 0 1 0 12.6 0a6.3 6.3 0 1 0 -12.6 0M247 534.2a6.3 6.3 0 1 0 12.6 0a6.3 6.3 0 1 0 -12.6 0M249.3 534.2a6.3 6.3 0 1 0 12.6 0a6.3 6.3 0 1 0 -12.6 0M251.5 534.2a6.3 6.3 0 1 0 12.6 0a6.3 6.3 0 1 0 -12.6 0M253.8 534.2a6.3 6.3 0 1 0 12.6 0a6.3 6.3 0 1 0 -12.6 0M256 534.2a6.3 6.3 0 1 0 12.6 0a6.3 6.3 0 1 0 -12.6 0M258.3 534.2a6.3 6.3 0 1 0 12.6 0a6.3 6.3 0 1 0 -12.6 0M278 534.2a6.3 6.3 0 1 0 12.6 0a6.3 6.3 0 1 0 -12.6 0M297.8 534.2a6.3 6.3 0 1 0 12.6 0a6.3 6.3 0 1 0 -12.6 0M487.3 534.2a6.3 6.3 0 1 0 12.6 0a6.3 6.3 0 1 0 -12.6 0M489.6 534.2a6.3 6.3 0 1 0 12.6 0a6.3 6.3 0 1 0 -12.6 0M491.9 534.2a6.3 6.3 0 1 0 12.6 0a6.3 6.3 0 1 0 -12.6 0M494.3 534.2a6.3 6.3 0 1 0 12.6 0a6.3 6.3 0 1 0 -12.6 0M496.6 534.2a6.3 6.3 0 1 0 12.6 0a6.3 6.3 0 1 0 -12.6 0"/>
<path fill="none" stroke="#D95319" stroke-width="4.0" d="M205.7 48.9a6.3 6.3 0 1 0 12.6 0a6.3 6.3 0 1 0 -12.6 0M220.4 48.9a6.3 6.3 0 1 0 12.6 0a6.3 6.3 0 1 0 -12.6 0M316.7 48.9a6.3 6.3 0 1 0 12.6 0a6.3 6.3 0 1 0 -12.6 0M396.5 48.9a6.3 6.3 0 1 0 12.6 0a6.3 6.3 0 1 0 -12.6 0M570.2 48.9a6.3 6.3 0 1 0 12.6 0a6.3 6.3 0 1 0 -12.6 0M594.5 48.9a6.3 6.3 0 1 0 12.6 0a6.3 6.3 0 1 0 -12.6 0M125.9 116.3a6.3 6.3 0 1 0 12.6 0a6.3 6.3 0 1 0 -12.6 0M213.2 116.3a6.3 6.3 0 1 0 12.6 0a6.3 6.3 0 1 0 -12.6 0M216.2 116.3a6.3 6.3 0 1 0 12.6 0a6.3 6.3 0 1 0 -12.6 0M223.7 116.3a6.3 6.3 0 1 0 12.6 0a6.3 6.3 0 1 0 -12.6 0M226.7 116.3a6.3 6.3 0 1 0 12.6 0a6.3 6.3 0 1 0 -12.6 0M245 116.3a6.3 6.3 0 1 0 12.6 0a6.3 6.3 0 1 0 -12.6 0M255.1 116.3a6.3 6.3 0 1 0 12.6 0a6.3 6.3 0 1 0 -12.6 0M305.7 116.3a6.3 6.3 0 1 0 12.6 0a6.3 6.3 0 1 0 -12.6 0M337.9 116.3a6.3 6.3 0 1 0 12.6 0a6.3 6.3 0 1 0 -12.6 0M380.3 116.3a6.3 6.3 0 1 0 12.6 0a6.3 6.3 0 1 0 -12.6 0M384.3 116.3a6.3 6.3 0 1 0 12.6 0a6.3 6.3 0 1 0 -12.6 0M406.6 116.3a6.3 6.3 0 1 0 12.6 0a6.3 6.3 0 1 0 -12.6 0M462.1 116.3a6.3 6.3 0 1 0 12.6 0a6.3 6.3 0 1 0 -12.6 0M464.2 116.3a6.3 6.3 0 1 0 12.6 0a6.3 6.3 0 1 0 -12.6 0M466.3 116.3a6.3 6.3 0 1 0 12.6 0a6.3 6.3 0 1 0 -12.6 0M591.3 116.3a6.3 6.3 0 1 0 12.6 0a6.3 6.3 0 1 0 -12.6 0M593.7 116.3a6.3 6.3 0 1 0 12.6 0a6.3 6.3 0 1 0 -12.6 0M596.1 116.3a6.3 6.3 0 1 0 12.6 0a6.3 6.3 0 1 0 -12.6 0M598.5 116.3a6.3 6.3 0 1 0 12.6 0a6.3 6.3 0 1 0 -12.6 0M600.9 116.3a6.3 6.3 0 1 0 12.6 0a6.3 6.3 0 1 0 -12.6 0M603.3 116.3a6.3 6.3 0 1 0 12.6 0a6.3 6.3 0 1 0 -12.6 0M605.7 116.3a6.3 6.3 0 1 0 12.6 0a6.3 6.3 0 1 0 -12.6 0M708.7 116.3a6.3 6.3 0 1 0 12.6 0a6.3 6.3 0 1 0 -12.6 0M713.7 116.3a6.3 6.3 0 1 0 12.6 0a6.3 6.3 0 1 0 -12.6 0M127.2 183.7a6.3 6.3 0 1 0 12.6 0a6.3 6.3 0 1 0 -12.6 0M129.7 183.7a6.3 6.3 0 1 0 12.6 0a6.3 6.3 0 1 0 -12.6 0M132.3 183.7a6.3 6.3 0 1 0 12.6 0a6.3 6.3 0 1 0 -12.6 0M134.8 183.7a6.3 6.3 0 1 0 12.6 0a6.3 6.3 0 1 0 -12.6 0M137.3 183.7a6.3 6.3 0 1 0 12.6 0a6.3 6.3 0 1 0 -12.6 0M139.9 183.7a6.3 6.3 0 1 0 12.6 0a6.3 6.3 0 1 0 -12.6 0M142.4 183.7a6.3 6.3 0 1 0 12.6 0a6.3 6.3 0 1 0 -12.6 0M144.9 183.7a6.3 6.3 0 1 0 12.6 0a6.3 6.3 0 1 0 -12.6 0M147.4 183.7a6.3 6.3 0 1 0 12.6 0a6.3 6.3 0 1 0 -12.6 0M150 183.7a6.3 6.3 0 1 0 12.6 0a6.3 6.3 0 1 0 -12.6 0M152.5 183.7a6.3 6.3 0 1 0 12.6 0a6.3 6.3 0 1 0 -12.6 0M155 183.7a6.3 6.3 0 1 0 12.6 0a6.3 6.3 0 1 0 -12.6 0M157.6 183.7a6.3 6.3 0 1 0 12.6 0a6.3 6.3 0 1 0 -12.6 0M160.1 183.7a6.3 6.3 0 1 0 12.6 0a6.3 6.3 0 1 0 -12.6 0M162.6 183.7a6.3 6.3 0 1 0 12.6 0a6.3 6.3 0 1 0 -12.6 0M165.2 183.7a6.3 6.3 0 1 0 12.6 0a6.3 6.3 0 1 0 -12.6 0M167.7 183.7a6.3 6.3 0 1 0 12.6 0a6.3 6.3 0 1 0 -12.6 0M170.2 183.7a6.3 6.3 0 1 0 12.6 0a6.3 6.3 0 1 0 -12.6 0M172.7 183.7a6.3 6.3 0 1 0 12.6 0a6.3 6.3 0 1 0 -12.6 0M175.3 183.7a6.3 6.3 0 1 0 12.6 0a6.3 6.3 0 1 0 -12.6 0M177.8 183.7a6.3 6.3 0 1 0 12.6 0a6.3 6.3 0 1 0 -12.6 0M180.3 183.7a6.3 6.3 0 1 0 12.6 0a6.3 6.3 0 1 0 -12.6 0M182.9 183.7a6.3 6.3 0 1 0 12.6 0a6.3 6.3 0 1 0 -12.6 0M185.4 183.7a6.3 6.3 0 1 0 12.6 0a6.3 6.3 0 1 0 -12.6 0M187.9 183.7a6.3 6.3 0 1 0 12.6 0a6.3 6.3 0 1 0 -12.6 0M190.5 183.7a6.3 6.3 0 1 0 12.6 0a6.3 6.3 0 1 0 -12.6 0M193 183.7a6.3 6.3 0 1 0 12.6 0a6.3 6.3 0 1 0 -12.6 0M195.5 183.7a6.3 6.3 0 1 0 12.6 0a6.3 6.3 0 1 0 -12.6 0M198 183.7a6.3 6.3 0 1 0 12.6 0a6.3 6.3 0 1 0 -12.6 0M200.6 183.7a6.3 6.3 0 1 0 12.6 0a6.3 6.3 0 1 0 -12.6 0M203.1 183.7a6.3 6.3 0 1 0 12.6 0a6.3 6.3 0 1 0 -12.6 0M205.6 183.7a6.3 6.3 0 1 0 12.6 0a6.3 6.3 0 1 0 -12.6 0M208.2 183.7a6.3 6.3 0 1 0 12.6 0a6.3 6.3 0 1 0 -12.6 0M210.7 183.7a6.3 6.3 0 1 0 12.6 0a6.3 6.3 0 1 0 -12.6 0M213.7 183.7a6.3 6.3 0 1 0 12.6 0a6.3 6.3 0 1 0 -12.6 0M259.2 183.7a6.3 6.3 0 1 0 12.6 0a6.3 6.3 0 1 0 -12.6 0M484.3 183.7a6.3 6.3 0 1 0 12.6 0a6.3 6.3 0 1 0 -12.6 0M486.8 183.7a6.3 6.3 0 1 0 12.6 0a6.3 6.3 0 1 0 -12.6 0M489.2 183.7a6.3 6.3 0 1 0 12.6 0a6.3 6.3 0 1 0 -12.6 0M491.7 183.7a6.3 6.3 0 1 0 12.6 0a6.3 6.3 0 1 0 -12.6 0M494.1 183.7a6.3 6.3 0 1 0 12.6 0a6.3 6.3 0 1 0 -12.6 0M496.6 183.7a6.3 6.3 0 1 0 12.6 0a6.3 6.3 0 1 0 -12.6 0M663.1 183.7a6.3 6.3 0 1 0 12.6 0a6.3 6.3 0 1 0 -12.6 0M665.7 183.7a6.3 6.3 0 1 0 12.6 0a6.3 6.3 0 1 0 -12.6 0M668.2 183.7a6.3 6.3 0 1 0 12.6 0a6.3 6.3 0 1 0 -12.6 0M670.8 183.7a6.3 6.3 0 1 0 12.6 0a6.3 6.3 0 1 0 -12.6 0M673.3 183.7a6.3 6.3 0 1 0 12.6 0a6.3 6.3 0 1 0 -12.6 0M675.9 183.7a6.3 6.3 0 1 0 12.6 0a6.3 6.3 0 1 0 -12.6 0M678.4 183.7a6.3 6.3 0 1 0 12.6 0a6.3 6.3 0 1 0 -12.6 0M681 183.7a6.3 6.3 0 1 0 12.6 0a6.3 6.3 0 1 0 -12.6 0M683.6 183.7a6.3 6.3 0 1 0 12.6 0a6.3 6.3 0 1 0 -12.6 0M686.1 183.7a6.3 6.3 0 1 0 12.6 0a6.3 6.3 0 1 0 -12.6 0M688.7 183.7a6.3 6.3 0 1 0 12.6 0a6.3 6.3 0 1 0 -12.6 0M691.2 183.7a6.3 6.3 0 1 0 12.6 0a6.3 6.3 0 1 0 -12.6 0M693.8 183.7a6.3 6.3 0 1 0 12.6 0a6.3 6.3 0 1 0 -12.6 0M696.4 183.7a6.3 6.3 0 1 0 12.6 0a6.3 6.3 0 1 0 -12.6 0M698.9 183.7a6.3 6.3 0 1 0 12.6 0a6.3 6.3 0 1 0 -12.6 0M701.5 183.7a6.3 6.3 0 1 0 12.6 0a6.3 6.3 0 1 0 -12.6 0M704 183.7a6.3 6.3 0 1 0 12.6 0a6.3 6.3 0 1 0 -12.6 0M706.6 183.7a6.3 6.3 0 1 0 12.6 0a6.3 6.3 0 1 0 -12.6 0M709.1 183.7a6.3 6.3 0 1 0 12.6 0a6.3 6.3 0 1 0 -12.6 0M711.7 183.7a6.3 6.3 0 1 0 12.6 0a6.3 6.3 0 1 0 -12.6 0M129.7 251.1a6.3 6.3 0 1 0 12.6 0a6.3 6.3 0 1 0 -12.6 0M132.2 251.1a6.3 6.3 0 1 0 12.6 0a6.3 6.3 0 1 0 -12.6 0M134.7 251.1a6.3 6.3 0 1 0 12.6 0a6.3 6.3 0 1 0 -12.6 0M137.2 251.1a6.3 6.3 0 1 0 12.6 0a6.3 6.3 0 1 0 -12.6 0M139.7 251.1a6.3 6.3 0 1 0 12.6 0a6.3 6.3 0 1 0 -12.6 0M142.2 251.1a6.3 6.3 0 1 0 12.6 0a6.3 6.3 0 1 0 -12.6 0M144.7 251.1a6.3 6.3 0 1 0 12.6 0a6.3 6.3 0 1 0 -12.6 0M147.2 251.1a6.3 6.3 0 1 0 12.6 0a6.3 6.3 0 1 0 -12.6 0M149.7 251.1a6.3 6.3 0 1 0 12.6 0a6.3 6.3 0 1 0 -12.6 0M152.2 251.1a6.3 6.3 0 1 0 12.6 0a6.3 6.3 0 1 0 -12.6 0M154.7 251.1a6.3 6.3 0 1 0 12.6 0a6.3 6.3 0 1 0 -12.6 0M157.2 251.1a6.3 6.3 0 1 0 12.6 0a6.3 6.3 0 1 0 -12.6 0M159.7 251.1a6.3 6.3 0 1 0 12.6 0a6.3 6.3 0 1 0 -12.6 0M162.2 251.1a6.3 6.3 0 1 0 12.6 0a6.3 6.3 0 1 0 -12.6 0M164.7 251.1a6.3 6.3 0 1 0 12.6 0a6.3 6.3 0 1 0 -12.6 0M167.2 251.1a6.3 6.3 0 1 0 12.6 0a6.3 6.3 0 1 0 -12.6 0M169.7 251.1a6.3 6.3 0 1 0 12.6 0a6.3 6.3 0 1 0 -12.6 0M172.2 251.1a6.3 6.3 0 1 0 12.6 0a6.3 6.3 0 1 0 -12.6 0M174.7 251.1a6.3 6.3 0 1 0 12.6 0a6.3 6.3 0 1 0 -12.6 0M177.2 251.1a6.3 6.3 0 1 0 12.6 0a6.3 6.3 0 1 0 -12.6 0M179.7 251.1a6.3 6.3 0 1 0 12.6 0a6.3 6.3 0 1 0 -12.6 0M182.2 251.1a6.3 6.3 0 1 0 12.6 0a6.3 6.3 0 1 0 -12.6 0M184.7 251.1a6.3 6.3 0 1 0 12.6 0a6.3 6.3 0 1 0 -12.6 0M187.2 251.1a6.3 6.3 0 1 0 12.6 0a6.3 6.3 0 1 0 -12.6 0M189.7 251.1a6.3 6.3 0 1 0 12.6 0a6.3 6.3 0 1 0 -12.6 0M192.2 251.1a6.3 6.3 0 1 0 12.6 0a6.3 6.3 0 1 0 -12.6 0M194.7 251.1a6.3 6.3 0 1 0 12.6 0a6.3 6.3 0 1 0 -12.6 0M197.2 251.1a6.3 6.3 0 1 0 12.6 0a6.3 6.3 0 1 0 -12.6 0M199.7 251.1a6.3 6.3 0 1 0 12.6 0a6.3 6.3 0 1 0 -12.6 0M202.2 251.1a6.3 6.3 0 1 0 12.6 0a6.3 6.3 0 1 0 -12.6 0M204.7 251.1a6.3 6.3 0 1 0 12.6 0a6.3 6.3 0 1 0 -12.6 0M207.2 251.1a6.3 6.3 0 1 0 12.6 0a6.3 6.3 0 1 0 -12.6 0M209.7 251.1a6.3 6.3 0 1 0 12.6 0a6.3 6.3 0 1 0 -12.6 0M484.3 251.1a6.3 6.3 0 1 0 12.6 0a6.3 6.3 0 1 0 -12.6 0M486.7 251.1a6.3 6.3 0 1 0 12.6 0a6.3 6.3 0 1 0 -12.6 0M489.2 251.1a6.3 6.3 0 1 0 12.6 0a6.3 6.3 0 1 0 -12.6 0M491.6 251.1a6.3 6.3 0 1 0 12.6 0a6.3 6.3 0 1 0 -12.6 0M494.1 251.1a6.3 6.3 0 1 0 12.6 0a6.3 6.3 0 1 0 -12.6 0M496.5 251.1a6.3 6.3 0 1 0 12.6 0a6.3 6.3 0 1 0 -12.6 0M498.9 251.1a6.3 6.3 0 1 0 12.6 0a6.3 6.3 0 1 0 -12.6 0M501.4 251.1a6.3 6.3 0 1 0 12.6 0a6.3 6.3 0 1 0 -12.6 0M503.8 251.1a6.3 6.3 0 1 0 12.6 0a6.3 6.3 0 1 0 -12.6 0M506.3 251.1a6.3 6.3 0 1 0 12.6 0a6.3 6.3 0 1 0 -12.6 0M508.7 251.1a6.3 6.3 0 1 0 12.6 0a6.3 6.3 0 1 0 -12.6 0M665.1 251.1a6.3 6.3 0 1 0 12.6 0a6.3 6.3 0 1 0 -12.6 0M667.6 251.1a6.3 6.3 0 1 0 12.6 0a6.3 6.3 0 1 0 -12.6 0M670 251.1a6.3 6.3 0 1 0 12.6 0a6.3 6.3 0 1 0 -12.6 0M672.5 251.1a6.3 6.3 0 1 0 12.6 0a6.3 6.3 0 1 0 -12.6 0M675 251.1a6.3 6.3 0 1 0 12.6 0a6.3 6.3 0 1 0 -12.6 0M677.4 251.1a6.3 6.3 0 1 0 12.6 0a6.3 6.3 0 1 0 -12.6 0M679.9 251.1a6.3 6.3 0 1 0 12.6 0a6.3 6.3 0 1 0 -12.6 0M682.4 251.1a6.3 6.3 0 1 0 12.6 0a6.3 6.3 0 1 0 -12.6 0M684.8 251.1a6.3 6.3 0 1 0 12.6 0a6.3 6.3 0 1 0 -12.6 0M687.3 251.1a6.3 6.3 0 1 0 12.6 0a6.3 6.3 0 1 0 -12.6 0M689.7 251.1a6.3 6.3 0 1 0 12.6 0a6.3 6.3 0 1 0 -12.6 0M692.2 251.1a6.3 6.3 0 1 0 12.6 0a6.3 6.3 0 1 0 -12.6 0M694.7 251.1a6.3 6.3 0 1 0 12.6 0a6.3 6.3 0 1 0 -12.6 0M697.1 251.1a6.3 6.3 0 1 0 12.6 0a6.3 6.3 0 1 0 -12.6 0M699.6 251.1a6.3 6.3 0 1 0 12.6 0a6.3 6.3 0 1 0 -12.6 0M206.7 453.4a6.3 6.3 0 1 0 12.6 0a6.3 6.3 0 1 0 -12.6 0M209.7 453.4a6.3 6.3 0 1 0 12.6 0a6.3 6.3 0 1 0 -12.6 0M212.7 453.4a6.3 6.3 0 1 0 12.6 0a6.3 6.3 0 1 0 -12.6 0M208.7 520.8a6.3 6.3 0 1 0 12.6 0a6.3 6.3 0 1 0 -12.6 0M210.7 520.8a6.3 6.3 0 1 0 12.6 0a6.3 6.3 0 1 0 -12.6 0M247.1 520.8a6.3 6.3 0 1 0 12.6 0a6.3 6.3 0 1 0 -12.6 0M251.7 520.8a6.3 6.3 0 1 0 12.6 0a6.3 6.3 0 1 0 -12.6 0M257.2 520.8a6.3 6.3 0 1 0 12.6 0a6.3 6.3 0 1 0 -12.6 0M487.7 520.8a6.3 6.3 0 1 0 12.6 0a6.3 6.3 0 1 0 -12.6 0M492.7 520.8a6.3 6.3 0 1 0 12.6 0a6.3 6.3 0 1 0 -12.6 0M496.7 520.8a6.3 6.3 0 1 0 12.6 0a6.3 6.3 0 1 0 -12.6 0M700.9 520.8a6.3 6.3 0 1 0 12.6 0a6.3 6.3 0 1 0 -12.6 0M126.5 588.2a6.3 6.3 0 1 0 12.6 0a6.3 6.3 0 1 0 -12.6 0M137.7 588.2a6.3 6.3 0 1 0 12.6 0a6.3 6.3 0 1 0 -12.6 0M140.2 588.2a6.3 6.3 0 1 0 12.6 0a6.3 6.3 0 1 0 -12.6 0M204.2 588.2a6.3 6.3 0 1 0 12.6 0a6.3 6.3 0 1 0 -12.6 0M206.2 588.2a6.3 6.3 0 1 0 12.6 0a6.3 6.3 0 1 0 -12.6 0M308.1 588.2a6.3 6.3 0 1 0 12.6 0a6.3 6.3 0 1 0 -12.6 0M351.7 588.2a6.3 6.3 0 1 0 12.6 0a6.3 6.3 0 1 0 -12.6 0M398 588.2a6.3 6.3 0 1 0 12.6 0a6.3 6.3 0 1 0 -12.6 0M459.7 588.2a6.3 6.3 0 1 0 12.6 0a6.3 6.3 0 1 0 -12.6 0M481.3 588.2a6.3 6.3 0 1 0 12.6 0a6.3 6.3 0 1 0 -12.6 0M510.6 588.2a6.3 6.3 0 1 0 12.6 0a6.3 6.3 0 1 0 -12.6 0M660.5 588.2a6.3 6.3 0 1 0 12.6 0a6.3 6.3 0 1 0 -12.6 0M675.7 588.2a6.3 6.3 0 1 0 12.6 0a6.3 6.3 0 1 0 -12.6 0M140.7 655.6a6.3 6.3 0 1 0 12.6 0a6.3 6.3 0 1 0 -12.6 0M144.7 655.6a6.3 6.3 0 1 0 12.6 0a6.3 6.3 0 1 0 -12.6 0M148.7 655.6a6.3 6.3 0 1 0 12.6 0a6.3 6.3 0 1 0 -12.6 0M175.4 655.6a6.3 6.3 0 1 0 12.6 0a6.3 6.3 0 1 0 -12.6 0M196.2 655.6a6.3 6.3 0 1 0 12.6 0a6.3 6.3 0 1 0 -12.6 0M209.1 655.6a6.3 6.3 0 1 0 12.6 0a6.3 6.3 0 1 0 -12.6 0M212.7 655.6a6.3 6.3 0 1 0 12.6 0a6.3 6.3 0 1 0 -12.6 0M215.7 655.6a6.3 6.3 0 1 0 12.6 0a6.3 6.3 0 1 0 -12.6 0M218.7 655.6a6.3 6.3 0 1 0 12.6 0a6.3 6.3 0 1 0 -12.6 0M221.7 655.6a6.3 6.3 0 1 0 12.6 0a6.3 6.3 0 1 0 -12.6 0M224.8 655.6a6.3 6.3 0 1 0 12.6 0a6.3 6.3 0 1 0 -12.6 0M227.8 655.6a6.3 6.3 0 1 0 12.6 0a6.3 6.3 0 1 0 -12.6 0M230.8 655.6a6.3 6.3 0 1 0 12.6 0a6.3 6.3 0 1 0 -12.6 0M233.8 655.6a6.3 6.3 0 1 0 12.6 0a6.3 6.3 0 1 0 -12.6 0M236.8 655.6a6.3 6.3 0 1 0 12.6 0a6.3 6.3 0 1 0 -12.6 0M239.8 655.6a6.3 6.3 0 1 0 12.6 0a6.3 6.3 0 1 0 -12.6 0M242.8 655.6a6.3 6.3 0 1 0 12.6 0a6.3 6.3 0 1 0 -12.6 0M245.9 655.6a6.3 6.3 0 1 0 12.6 0a6.3 6.3 0 1 0 -12.6 0M248.9 655.6a6.3 6.3 0 1 0 12.6 0a6.3 6.3 0 1 0 -12.6 0M251.9 655.6a6.3 6.3 0 1 0 12.6 0a6.3 6.3 0 1 0 -12.6 0M254.9 655.6a6.3 6.3 0 1 0 12.6 0a6.3 6.3 0 1 0 -12.6 0M257.9 655.6a6.3 6.3 0 1 0 12.6 0a6.3 6.3 0 1 0 -12.6 0M260.9 655.6a6.3 6.3 0 1 0 12.6 0a6.3 6.3 0 1 0 -12.6 0M263.9 655.6a6.3 6.3 0 1 0 12.6 0a6.3 6.3 0 1 0 -12.6 0M267 655.6a6.3 6.3 0 1 0 12.6 0a6.3 6.3 0 1 0 -12.6 0M270 655.6a6.3 6.3 0 1 0 12.6 0a6.3 6.3 0 1 0 -12.6 0M273 655.6a6.3 6.3 0 1 0 12.6 0a6.3 6.3 0 1 0 -12.6 0M276 655.6a6.3 6.3 0 1 0 12.6 0a6.3 6.3 0 1 0 -12.6 0M279 655.6a6.3 6.3 0 1 0 12.6 0a6.3 6.3 0 1 0 -12.6 0M282 655.6a6.3 6.3 0 1 0 12.6 0a6.3 6.3 0 1 0 -12.6 0M285.1 655.6a6.3 6.3 0 1 0 12.6 0a6.3 6.3 0 1 0 -12.6 0M288.1 655.6a6.3 6.3 0 1 0 12.6 0a6.3 6.3 0 1 0 -12.6 0M291.1 655.6a6.3 6.3 0 1 0 12.6 0a6.3 6.3 0 1 0 -12.6 0M294.1 655.6a6.3 6.3 0 1 0 12.6 0a6.3 6.3 0 1 0 -12.6 0M297.1 655.6a6.3 6.3 0 1 0 12.6 0a6.3 6.3 0 1 0 -12.6 0M300.1 655.6a6.3 6.3 0 1 0 12.6 0a6.3 6.3 0 1 0 -12.6 0M303.1 655.6a6.3 6.3 0 1 0 12.6 0a6.3 6.3 0 1 0 -12.6 0M306.2 655.6a6.3 6.3 0 1 0 12.6 0a6.3 6.3 0 1 0 -12.6 0M309.2 655.6a6.3 6.3 0 1 0 12.6 0a6.3 6.3 0 1 0 -12.6 0M312.2 655.6a6.3 6.3 0 1 0 12.6 0a6.3 6.3 0 1 0 -12.6 0M315.2 655.6a6.3 6.3 0 1 0 12.6 0a6.3 6.3 0 1 0 -12.6 0M318.2 655.6a6.3 6.3 0 1 0 12.6 0a6.3 6.3 0 1 0 -12.6 0M321.2 655.6a6.3 6.3 0 1 0 12.6 0a6.3 6.3 0 1 0 -12.6 0M324.2 655.6a6.3 6.3 0 1 0 12.6 0a6.3 6.3 0 1 0 -12.6 0M327.3 655.6a6.3 6.3 0 1 0 12.6 0a6.3 6.3 0 1 0 -12.6 0M330.3 655.6a6.3 6.3 0 1 0 12.6 0a6.3 6.3 0 1 0 -12.6 0M333.3 655.6a6.3 6.3 0 1 0 12.6 0a6.3 6.3 0 1 0 -12.6 0M336.3 655.6a6.3 6.3 0 1 0 12.6 0a6.3 6.3 0 1 0 -12.6 0M339.3 655.6a6.3 6.3 0 1 0 12.6 0a6.3 6.3 0 1 0 -12.6 0M342.3 655.6a6.3 6.3 0 1 0 12.6 0a6.3 6.3 0 1 0 -12.6 0M345.3 655.6a6.3 6.3 0 1 0 12.6 0a6.3 6.3 0 1 0 -12.6 0M348.4 655.6a6.3 6.3 0 1 0 12.6 0a6.3 6.3 0 1 0 -12.6 0M351.4 655.6a6.3 6.3 0 1 0 12.6 0a6.3 6.3 0 1 0 -12.6 0M354.4 655.6a6.3 6.3 0 1 0 12.6 0a6.3 6.3 0 1 0 -12.6 0M357.4 655.6a6.3 6.3 0 1 0 12.6 0a6.3 6.3 0 1 0 -12.6 0M360.4 655.6a6.3 6.3 0 1 0 12.6 0a6.3 6.3 0 1 0 -12.6 0M363.4 655.6a6.3 6.3 0 1 0 12.6 0a6.3 6.3 0 1 0 -12.6 0M366.4 655.6a6.3 6.3 0 1 0 12.6 0a6.3 6.3 0 1 0 -12.6 0M369.5 655.6a6.3 6.3 0 1 0 12.6 0a6.3 6.3 0 1 0 -12.6 0M372.5 655.6a6.3 6.3 0 1 0 12.6 0a6.3 6.3 0 1 0 -12.6 0M375.5 655.6a6.3 6.3 0 1 0 12.6 0a6.3 6.3 0 1 0 -12.6 0M378.5 655.6a6.3 6.3 0 1 0 12.6 0a6.3 6.3 0 1 0 -12.6 0M381.5 655.6a6.3 6.3 0 1 0 12.6 0a6.3 6.3 0 1 0 -12.6 0M384.5 655.6a6.3 6.3 0 1 0 12.6 0a6.3 6.3 0 1 0 -12.6 0M387.6 655.6a6.3 6.3 0 1 0 12.6 0a6.3 6.3 0 1 0 -12.6 0M390.6 655.6a6.3 6.3 0 1 0 12.6 0a6.3 6.3 0 1 0 -12.6 0M393.6 655.6a6.3 6.3 0 1 0 12.6 0a6.3 6.3 0 1 0 -12.6 0M396.6 655.6a6.3 6.3 0 1 0 12.6 0a6.3 6.3 0 1 0 -12.6 0M399.6 655.6a6.3 6.3 0 1 0 12.6 0a6.3 6.3 0 1 0 -12.6 0M402.6 655.6a6.3 6.3 0 1 0 12.6 0a6.3 6.3 0 1 0 -12.6 0M405.6 655.6a6.3 6.3 0 1 0 12.6 0a6.3 6.3 0 1 0 -12.6 0M408.7 655.6a6.3 6.3 0 1 0 12.6 0a6.3 6.3 0 1 0 -12.6 0M411.7 655.6a6.3 6.3 0 1 0 12.6 0a6.3 6.3 0 1 0 -12.6 0M414.7 655.6a6.3 6.3 0 1 0 12.6 0a6.3 6.3 0 1 0 -12.6 0M417.7 655.6a6.3 6.3 0 1 0 12.6 0a6.3 6.3 0 1 0 -12.6 0M421.2 655.6a6.3 6.3 0 1 0 12.6 0a6.3 6.3 0 1 0 -12.6 0M424.7 655.6a6.3 6.3 0 1 0 12.6 0a6.3 6.3 0 1 0 -12.6 0M431.7 655.6a6.3 6.3 0 1 0 12.6 0a6.3 6.3 0 1 0 -12.6 0M438.7 655.6a6.3 6.3 0 1 0 12.6 0a6.3 6.3 0 1 0 -12.6 0M443.7 655.6a6.3 6.3 0 1 0 12.6 0a6.3 6.3 0 1 0 -12.6 0M451.3 655.6a6.3 6.3 0 1 0 12.6 0a6.3 6.3 0 1 0 -12.6 0M458.7 655.6a6.3 6.3 0 1 0 12.6 0a6.3 6.3 0 1 0 -12.6 0M463.7 655.6a6.3 6.3 0 1 0 12.6 0a6.3 6.3 0 1 0 -12.6 0M467.7 655.6a6.3 6.3 0 1 0 12.6 0a6.3 6.3 0 1 0 -12.6 0M471.7 655.6a6.3 6.3 0 1 0 12.6 0a6.3 6.3 0 1 0 -12.6 0M475.7 655.6a6.3 6.3 0 1 0 12.6 0a6.3 6.3 0 1 0 -12.6 0M479.9 655.6a6.3 6.3 0 1 0 12.6 0a6.3 6.3 0 1 0 -12.6 0M514.7 655.6a6.3 6.3 0 1 0 12.6 0a6.3 6.3 0 1 0 -12.6 0M517.7 655.6a6.3 6.3 0 1 0 12.6 0a6.3 6.3 0 1 0 -12.6 0M520.8 655.6a6.3 6.3 0 1 0 12.6 0a6.3 6.3 0 1 0 -12.6 0M523.8 655.6a6.3 6.3 0 1 0 12.6 0a6.3 6.3 0 1 0 -12.6 0M526.9 655.6a6.3 6.3 0 1 0 12.6 0a6.3 6.3 0 1 0 -12.6 0M529.9 655.6a6.3 6.3 0 1 0 12.6 0a6.3 6.3 0 1 0 -12.6 0M533 655.6a6.3 6.3 0 1 0 12.6 0a6.3 6.3 0 1 0 -12.6 0M536 655.6a6.3 6.3 0 1 0 12.6 0a6.3 6.3 0 1 0 -12.6 0M539.1 655.6a6.3 6.3 0 1 0 12.6 0a6.3 6.3 0 1 0 -12.6 0M542.1 655.6a6.3 6.3 0 1 0 12.6 0a6.3 6.3 0 1 0 -12.6 0M545.2 655.6a6.3 6.3 0 1 0 12.6 0a6.3 6.3 0 1 0 -12.6 0M548.2 655.6a6.3 6.3 0 1 0 12.6 0a6.3 6.3 0 1 0 -12.6 0M551.3 655.6a6.3 6.3 0 1 0 12.6 0a6.3 6.3 0 1 0 -12.6 0M554.3 655.6a6.3 6.3 0 1 0 12.6 0a6.3 6.3 0 1 0 -12.6 0M557.4 655.6a6.3 6.3 0 1 0 12.6 0a6.3 6.3 0 1 0 -12.6 0M560.4 655.6a6.3 6.3 0 1 0 12.6 0a6.3 6.3 0 1 0 -12.6 0M563.5 655.6a6.3 6.3 0 1 0 12.6 0a6.3 6.3 0 1 0 -12.6 0M566.5 655.6a6.3 6.3 0 1 0 12.6 0a6.3 6.3 0 1 0 -12.6 0M569.6 655.6a6.3 6.3 0 1 0 12.6 0a6.3 6.3 0 1 0 -12.6 0M572.6 655.6a6.3 6.3 0 1 0 12.6 0a6.3 6.3 0 1 0 -12.6 0M575.7 655.6a6.3 6.3 0 1 0 12.6 0a6.3 6.3 0 1 0 -12.6 0M578.7 655.6a6.3 6.3 0 1 0 12.6 0a6.3 6.3 0 1 0 -12.6 0M586.7 655.6a6.3 6.3 0 1 0 12.6 0a6.3 6.3 0 1 0 -12.6 0M594.2 655.6a6.3 6.3 0 1 0 12.6 0a6.3 6.3 0 1 0 -12.6 0M599 655.6a6.3 6.3 0 1 0 12.6 0a6.3 6.3 0 1 0 -12.6 0M606.7 655.6a6.3 6.3 0 1 0 12.6 0a6.3 6.3 0 1 0 -12.6 0M614 655.6a6.3 6.3 0 1 0 12.6 0a6.3 6.3 0 1 0 -12.6 0M619.2 655.6a6.3 6.3 0 1 0 12.6 0a6.3 6.3 0 1 0 -12.6 0M624.4 655.6a6.3 6.3 0 1 0 12.6 0a6.3 6.3 0 1 0 -12.6 0M629.7 655.6a6.3 6.3 0 1 0 12.6 0a6.3 6.3 0 1 0 -12.6 0M634.9 655.6a6.3 6.3 0 1 0 12.6 0a6.3 6.3 0 1 0 -12.6 0M644.6 655.6a6.3 6.3 0 1 0 12.6 0a6.3 6.3 0 1 0 -12.6 0M651.7 655.6a6.3 6.3 0 1 0 12.6 0a6.3 6.3 0 1 0 -12.6 0M658.3 655.6a6.3 6.3 0 1 0 12.6 0a6.3 6.3 0 1 0 -12.6 0M666.2 655.6a6.3 6.3 0 1 0 12.6 0a6.3 6.3 0 1 0 -12.6 0M670.2 655.6a6.3 6.3 0 1 0 12.6 0a6.3 6.3 0 1 0 -12.6 0M674.2 655.6a6.3 6.3 0 1 0 12.6 0a6.3 6.3 0 1 0 -12.6 0M678 655.6a6.3 6.3 0 1 0 12.6 0a6.3 6.3 0 1 0 -12.6 0"/>
<path fill="none" stroke="#EDB120" stroke-width="4.0" d="M120.8 102.7a6.3 6.3 0 1 0 12.6 0a6.3 6.3 0 1 0 -12.6 0M148.5 102.7a6.3 6.3 0 1 0 12.6 0a6.3 6.3 0 1 0 -12.6 0M198.7 102.7a6.3 6.3 0 1 0 12.6 0a6.3 6.3 0 1 0 -12.6 0M203.7 102.7a6.3 6.3 0 1 0 12.6 0a6.3 6.3 0 1 0 -12.6 0M208.7 102.7a6.3 6.3 0 1 0 12.6 0a6.3 6.3 0 1 0 -12.6 0M251.1 102.7a6.3 6.3 0 1 0 12.6 0a6.3 6.3 0 1 0 -12.6 0M334.5 102.7a6.3 6.3 0 1 0 12.6 0a6.3 6.3 0 1 0 -12.6 0M345 102.7a6.3 6.3 0 1 0 12.6 0a6.3 6.3 0 1 0 -12.6 0M432.7 102.7a6.3 6.3 0 1 0 12.6 0a6.3 6.3 0 1 0 -12.6 0M435.7 102.7a6.3 6.3 0 1 0 12.6 0a6.3 6.3 0 1 0 -12.6 0M438.7 102.7a6.3 6.3 0 1 0 12.6 0a6.3 6.3 0 1 0 -12.6 0M539.9 102.7a6.3 6.3 0 1 0 12.6 0a6.3 6.3 0 1 0 -12.6 0M577.2 102.7a6.3 6.3 0 1 0 12.6 0a6.3 6.3 0 1 0 -12.6 0M579.6 102.7a6.3 6.3 0 1 0 12.6 0a6.3 6.3 0 1 0 -12.6 0M582 102.7a6.3 6.3 0 1 0 12.6 0a6.3 6.3 0 1 0 -12.6 0M584.4 102.7a6.3 6.3 0 1 0 12.6 0a6.3 6.3 0 1 0 -12.6 0M586.8 102.7a6.3 6.3 0 1 0 12.6 0a6.3 6.3 0 1 0 -12.6 0M589.2 102.7a6.3 6.3 0 1 0 12.6 0a6.3 6.3 0 1 0 -12.6 0M591.7 102.7a6.3 6.3 0 1 0 12.6 0a6.3 6.3 0 1 0 -12.6 0M594.1 102.7a6.3 6.3 0 1 0 12.6 0a6.3 6.3 0 1 0 -12.6 0M596.5 102.7a6.3 6.3 0 1 0 12.6 0a6.3 6.3 0 1 0 -12.6 0M598.9 102.7a6.3 6.3 0 1 0 12.6 0a6.3 6.3 0 1 0 -12.6 0M601.3 102.7a6.3 6.3 0 1 0 12.6 0a6.3 6.3 0 1 0 -12.6 0M603.7 102.7a6.3 6.3 0 1 0 12.6 0a6.3 6.3 0 1 0 -12.6 0M709.6 102.7a6.3 6.3 0 1 0 12.6 0a6.3 6.3 0 1 0 -12.6 0M116.7 170.1a6.3 6.3 0 1 0 12.6 0a6.3 6.3 0 1 0 -12.6 0M119.2 170.1a6.3 6.3 0 1 0 12.6 0a6.3 6.3 0 1 0 -12.6 0M121.6 170.1a6.3 6.3 0 1 0 12.6 0a6.3 6.3 0 1 0 -12.6 0M124.1 170.1a6.3 6.3 0 1 0 12.6 0a6.3 6.3 0 1 0 -12.6 0M126.6 170.1a6.3 6.3 0 1 0 12.6 0a6.3 6.3 0 1 0 -12.6 0M129.1 170.1a6.3 6.3 0 1 0 12.6 0a6.3 6.3 0 1 0 -12.6 0M131.5 170.1a6.3 6.3 0 1 0 12.6 0a6.3 6.3 0 1 0 -12.6 0M134 170.1a6.3 6.3 0 1 0 12.6 0a6.3 6.3 0 1 0 -12.6 0M136.5 170.1a6.3 6.3 0 1 0 12.6 0a6.3 6.3 0 1 0 -12.6 0M138.9 170.1a6.3 6.3 0 1 0 12.6 0a6.3 6.3 0 1 0 -12.6 0M141.4 170.1a6.3 6.3 0 1 0 12.6 0a6.3 6.3 0 1 0 -12.6 0M143.9 170.1a6.3 6.3 0 1 0 12.6 0a6.3 6.3 0 1 0 -12.6 0M146.3 170.1a6.3 6.3 0 1 0 12.6 0a6.3 6.3 0 1 0 -12.6 0M148.8 170.1a6.3 6.3 0 1 0 12.6 0a6.3 6.3 0 1 0 -12.6 0M151.3 170.1a6.3 6.3 0 1 0 12.6 0a6.3 6.3 0 1 0 -12.6 0M153.8 170.1a6.3 6.3 0 1 0 12.6 0a6.3 6.3 0 1 0 -12.6 0M156.2 170.1a6.3 6.3 0 1 0 12.6 0a6.3 6.3 0 1 0 -12.6 0M158.7 170.1a6.3 6.3 0 1 0 12.6 0a6.3 6.3 0 1 0 -12.6 0M161.2 170.1a6.3 6.3 0 1 0 12.6 0a6.3 6.3 0 1 0 -12.6 0M163.6 170.1a6.3 6.3 0 1 0 12.6 0a6.3 6.3 0 1 0 -12.6 0M166.1 170.1a6.3 6.3 0 1 0 12.6 0a6.3 6.3 0 1 0 -12.6 0M168.6 170.1a6.3 6.3 0 1 0 12.6 0a6.3 6.3 0 1 0 -12.6 0M171.1 170.1a6.3 6.3 0 1 0 12.6 0a6.3 6.3 0 1 0 -12.6 0M173.5 170.1a6.3 6.3 0 1 0 12.6 0a6.3 6.3 0 1 0 -12.6 0M176 170.1a6.3 6.3 0 1 0 12.6 0a6.3 6.3 0 1 0 -12.6 0M178.5 170.1a6.3 6.3 0 1 0 12.6 0a6.3 6.3 0 1 0 -12.6 0M180.9 170.1a6.3 6.3 0 1 0 12.6 0a6.3 6.3 0 1 0 -12.6 0M183.4 170.1a6.3 6.3 0 1 0 12.6 0a6.3 6.3 0 1 0 -12.6 0M185.9 170.1a6.3 6.3 0 1 0 12.6 0a6.3 6.3 0 1 0 -12.6 0M188.3 170.1a6.3 6.3 0 1 0 12.6 0a6.3 6.3 0 1 0 -12.6 0M190.8 170.1a6.3 6.3 0 1 0 12.6 0a6.3 6.3 0 1 0 -12.6 0M193.3 170.1a6.3 6.3 0 1 0 12.6 0a6.3 6.3 0 1 0 -12.6 0M195.8 170.1a6.3 6.3 0 1 0 12.6 0a6.3 6.3 0 1 0 -12.6 0M198.2 170.1a6.3 6.3 0 1 0 12.6 0a6.3 6.3 0 1 0 -12.6 0M200.7 170.1a6.3 6.3 0 1 0 12.6 0a6.3 6.3 0 1 0 -12.6 0M219.4 170.1a6.3 6.3 0 1 0 12.6 0a6.3 6.3 0 1 0 -12.6 0M240.4 170.1a6.3 6.3 0 1 0 12.6 0a6.3 6.3 0 1 0 -12.6 0M260.5 170.1a6.3 6.3 0 1 0 12.6 0a6.3 6.3 0 1 0 -12.6 0M262.9 170.1a6.3 6.3 0 1 0 12.6 0a6.3 6.3 0 1 0 -12.6 0M265.4 170.1a6.3 6.3 0 1 0 12.6 0a6.3 6.3 0 1 0 -12.6 0M267.8 170.1a6.3 6.3 0 1 0 12.6 0a6.3 6.3 0 1 0 -12.6 0M270.3 170.1a6.3 6.3 0 1 0 12.6 0a6.3 6.3 0 1 0 -12.6 0M272.7 170.1a6.3 6.3 0 1 0 12.6 0a6.3 6.3 0 1 0 -12.6 0M275.1 170.1a6.3 6.3 0 1 0 12.6 0a6.3 6.3 0 1 0 -12.6 0M277.6 170.1a6.3 6.3 0 1 0 12.6 0a6.3 6.3 0 1 0 -12.6 0M280 170.1a6.3 6.3 0 1 0 12.6 0a6.3 6.3 0 1 0 -12.6 0M282.4 170.1a6.3 6.3 0 1 0 12.6 0a6.3 6.3 0 1 0 -12.6 0M284.9 170.1a6.3 6.3 0 1 0 12.6 0a6.3 6.3 0 1 0 -12.6 0M287.3 170.1a6.3 6.3 0 1 0 12.6 0a6.3 6.3 0 1 0 -12.6 0M289.8 170.1a6.3 6.3 0 1 0 12.6 0a6.3 6.3 0 1 0 -12.6 0M292.2 170.1a6.3 6.3 0 1 0 12.6 0a6.3 6.3 0 1 0 -12.6 0M317.7 170.1a6.3 6.3 0 1 0 12.6 0a6.3 6.3 0 1 0 -12.6 0M320.3 170.1a6.3 6.3 0 1 0 12.6 0a6.3 6.3 0 1 0 -12.6 0M322.8 170.1a6.3 6.3 0 1 0 12.6 0a6.3 6.3 0 1 0 -12.6 0M325.4 170.1a6.3 6.3 0 1 0 12.6 0a6.3 6.3 0 1 0 -12.6 0M328 170.1a6.3 6.3 0 1 0 12.6 0a6.3 6.3 0 1 0 -12.6 0M330.5 170.1a6.3 6.3 0 1 0 12.6 0a6.3 6.3 0 1 0 -12.6 0M333.1 170.1a6.3 6.3 0 1 0 12.6 0a6.3 6.3 0 1 0 -12.6 0M335.6 170.1a6.3 6.3 0 1 0 12.6 0a6.3 6.3 0 1 0 -12.6 0M338.2 170.1a6.3 6.3 0 1 0 12.6 0a6.3 6.3 0 1 0 -12.6 0M340.8 170.1a6.3 6.3 0 1 0 12.6 0a6.3 6.3 0 1 0 -12.6 0M343.3 170.1a6.3 6.3 0 1 0 12.6 0a6.3 6.3 0 1 0 -12.6 0M345.9 170.1a6.3 6.3 0 1 0 12.6 0a6.3 6.3 0 1 0 -12.6 0M348.5 170.1a6.3 6.3 0 1 0 12.6 0a6.3 6.3 0 1 0 -12.6 0M351 170.1a6.3 6.3 0 1 0 12.6 0a6.3 6.3 0 1 0 -12.6 0M353.6 170.1a6.3 6.3 0 1 0 12.6 0a6.3 6.3 0 1 0 -12.6 0M356.1 170.1a6.3 6.3 0 1 0 12.6 0a6.3 6.3 0 1 0 -12.6 0M358.7 170.1a6.3 6.3 0 1 0 12.6 0a6.3 6.3 0 1 0 -12.6 0M361.3 170.1a6.3 6.3 0 1 0 12.6 0a6.3 6.3 0 1 0 -12.6 0M363.8 170.1a6.3 6.3 0 1 0 12.6 0a6.3 6.3 0 1 0 -12.6 0M366.4 170.1a6.3 6.3 0 1 0 12.6 0a6.3 6.3 0 1 0 -12.6 0M388.4 170.1a6.3 6.3 0 1 0 12.6 0a6.3 6.3 0 1 0 -12.6 0M391.4 170.1a6.3 6.3 0 1 0 12.6 0a6.3 6.3 0 1 0 -12.6 0M394.4 170.1a6.3 6.3 0 1 0 12.6 0a6.3 6.3 0 1 0 -12.6 0M397.4 170.1a6.3 6.3 0 1 0 12.6 0a6.3 6.3 0 1 0 -12.6 0M400.3 170.1a6.3 6.3 0 1 0 12.6 0a6.3 6.3 0 1 0 -12.6 0M403.3 170.1a6.3 6.3 0 1 0 12.6 0a6.3 6.3 0 1 0 -12.6 0M406.3 170.1a6.3 6.3 0 1 0 12.6 0a6.3 6.3 0 1 0 -12.6 0M409.3 170.1a6.3 6.3 0 1 0 12.6 0a6.3 6.3 0 1 0 -12.6 0M412.3 170.1a6.3 6.3 0 1 0 12.6 0a6.3 6.3 0 1 0 -12.6 0M415.3 170.1a6.3 6.3 0 1 0 12.6 0a6.3 6.3 0 1 0 -12.6 0M418.3 170.1a6.3 6.3 0 1 0 12.6 0a6.3 6.3 0 1 0 -12.6 0M421.3 170.1a6.3 6.3 0 1 0 12.6 0a6.3 6.3 0 1 0 -12.6 0M424.2 170.1a6.3 6.3 0 1 0 12.6 0a6.3 6.3 0 1 0 -12.6 0M427.2 170.1a6.3 6.3 0 1 0 12.6 0a6.3 6.3 0 1 0 -12.6 0M430.2 170.1a6.3 6.3 0 1 0 12.6 0a6.3 6.3 0 1 0 -12.6 0M433.2 170.1a6.3 6.3 0 1 0 12.6 0a6.3 6.3 0 1 0 -12.6 0M436.2 170.1a6.3 6.3 0 1 0 12.6 0a6.3 6.3 0 1 0 -12.6 0M439.2 170.1a6.3 6.3 0 1 0 12.6 0a6.3 6.3 0 1 0 -12.6 0M442.2 170.1a6.3 6.3 0 1 0 12.6 0a6.3 6.3 0 1 0 -12.6 0M445.2 170.1a6.3 6.3 0 1 0 12.6 0a6.3 6.3 0 1 0 -12.6 0M448.1 170.1a6.3 6.3 0 1 0 12.6 0a6.3 6.3 0 1 0 -12.6 0M451.1 170.1a6.3 6.3 0 1 0 12.6 0a6.3 6.3 0 1 0 -12.6 0M454.1 170.1a6.3 6.3 0 1 0 12.6 0a6.3 6.3 0 1 0 -12.6 0M457.1 170.1a6.3 6.3 0 1 0 12.6 0a6.3 6.3 0 1 0 -12.6 0M460.1 170.1a6.3 6.3 0 1 0 12.6 0a6.3 6.3 0 1 0 -12.6 0M463.1 170.1a6.3 6.3 0 1 0 12.6 0a6.3 6.3 0 1 0 -12.6 0M466.1 170.1a6.3 6.3 0 1 0 12.6 0a6.3 6.3 0 1 0 -12.6 0M469.1 170.1a6.3 6.3 0 1 0 12.6 0a6.3 6.3 0 1 0 -12.6 0M472 170.1a6.3 6.3 0 1 0 12.6 0a6.3 6.3 0 1 0 -12.6 0M475 170.1a6.3 6.3 0 1 0 12.6 0a6.3 6.3 0 1 0 -12.6 0M478 170.1a6.3 6.3 0 1 0 12.6 0a6.3 6.3 0 1 0 -12.6 0M481 170.1a6.3 6.3 0 1 0 12.6 0a6.3 6.3 0 1 0 -12.6 0M484 170.1a6.3 6.3 0 1 0 12.6 0a6.3 6.3 0 1 0 -12.6 0M487 170.1a6.3 6.3 0 1 0 12.6 0a6.3 6.3 0 1 0 -12.6 0M490 170.1a6.3 6.3 0 1 0 12.6 0a6.3 6.3 0 1 0 -12.6 0M492.9 170.1a6.3 6.3 0 1 0 12.6 0a6.3 6.3 0 1 0 -12.6 0M495.9 170.1a6.3 6.3 0 1 0 12.6 0a6.3 6.3 0 1 0 -12.6 0M498.9 170.1a6.3 6.3 0 1 0 12.6 0a6.3 6.3 0 1 0 -12.6 0M501.9 170.1a6.3 6.3 0 1 0 12.6 0a6.3 6.3 0 1 0 -12.6 0M504.9 170.1a6.3 6.3 0 1 0 12.6 0a6.3 6.3 0 1 0 -12.6 0M507.9 170.1a6.3 6.3 0 1 0 12.6 0a6.3 6.3 0 1 0 -12.6 0M510.9 170.1a6.3 6.3 0 1 0 12.6 0a6.3 6.3 0 1 0 -12.6 0M513.9 170.1a6.3 6.3 0 1 0 12.6 0a6.3 6.3 0 1 0 -12.6 0M516.8 170.1a6.3 6.3 0 1 0 12.6 0a6.3 6.3 0 1 0 -12.6 0M519.8 170.1a6.3 6.3 0 1 0 12.6 0a6.3 6.3 0 1 0 -12.6 0M522.8 170.1a6.3 6.3 0 1 0 12.6 0a6.3 6.3 0 1 0 -12.6 0M525.8 170.1a6.3 6.3 0 1 0 12.6 0a6.3 6.3 0 1 0 -12.6 0M528.8 170.1a6.3 6.3 0 1 0 12.6 0a6.3 6.3 0 1 0 -12.6 0M531.8 170.1a6.3 6.3 0 1 0 12.6 0a6.3 6.3 0 1 0 -12.6 0M534.8 170.1a6.3 6.3 0 1 0 12.6 0a6.3 6.3 0 1 0 -12.6 0M537.8 170.1a6.3 6.3 0 1 0 12.6 0a6.3 6.3 0 1 0 -12.6 0M540.7 170.1a6.3 6.3 0 1 0 12.6 0a6.3 6.3 0 1 0 -12.6 0M543.7 170.1a6.3 6.3 0 1 0 12.6 0a6.3 6.3 0 1 0 -12.6 0M546.7 170.1a6.3 6.3 0 1 0 12.6 0a6.3 6.3 0 1 0 -12.6 0M549.7 170.1a6.3 6.3 0 1 0 12.6 0a6.3 6.3 0 1 0 -12.6 0M554.1 170.1a6.3 6.3 0 1 0 12.6 0a6.3 6.3 0 1 0 -12.6 0M558.7 170.1a6.3 6.3 0 1 0 12.6 0a6.3 6.3 0 1 0 -12.6 0M564 170.1a6.3 6.3 0 1 0 12.6 0a6.3 6.3 0 1 0 -12.6 0M581.1 170.1a6.3 6.3 0 1 0 12.6 0a6.3 6.3 0 1 0 -12.6 0M605.5 170.1a6.3 6.3 0 1 0 12.6 0a6.3 6.3 0 1 0 -12.6 0M609.7 170.1a6.3 6.3 0 1 0 12.6 0a6.3 6.3 0 1 0 -12.6 0M614.7 170.1a6.3 6.3 0 1 0 12.6 0a6.3 6.3 0 1 0 -12.6 0M620.4 170.1a6.3 6.3 0 1 0 12.6 0a6.3 6.3 0 1 0 -12.6 0M624.7 170.1a6.3 6.3 0 1 0 12.6 0a6.3 6.3 0 1 0 -12.6 0M630.3 170.1a6.3 6.3 0 1 0 12.6 0a6.3 6.3 0 1 0 -12.6 0M635.7 170.1a6.3 6.3 0 1 0 12.6 0a6.3 6.3 0 1 0 -12.6 0M641.7 170.1a6.3 6.3 0 1 0 12.6 0a6.3 6.3 0 1 0 -12.6 0M645.7 170.1a6.3 6.3 0 1 0 12.6 0a6.3 6.3 0 1 0 -12.6 0M651.7 170.1a6.3 6.3 0 1 0 12.6 0a6.3 6.3 0 1 0 -12.6 0M655.7 170.1a6.3 6.3 0 1 0 12.6 0a6.3 6.3 0 1 0 -12.6 0M658.6 170.1a6.3 6.3 0 1 0 12.6 0a6.3 6.3 0 1 0 -12.6 0M661.6 170.1a6.3 6.3 0 1 0 12.6 0a6.3 6.3 0 1 0 -12.6 0M664.5 170.1a6.3 6.3 0 1 0 12.6 0a6.3 6.3 0 1 0 -12.6 0M667.4 170.1a6.3 6.3 0 1 0 12.6 0a6.3 6.3 0 1 0 -12.6 0M670.4 170.1a6.3 6.3 0 1 0 12.6 0a6.3 6.3 0 1 0 -12.6 0M673.3 170.1a6.3 6.3 0 1 0 12.6 0a6.3 6.3 0 1 0 -12.6 0M676.2 170.1a6.3 6.3 0 1 0 12.6 0a6.3 6.3 0 1 0 -12.6 0M679.2 170.1a6.3 6.3 0 1 0 12.6 0a6.3 6.3 0 1 0 -12.6 0M682.1 170.1a6.3 6.3 0 1 0 12.6 0a6.3 6.3 0 1 0 -12.6 0M685 170.1a6.3 6.3 0 1 0 12.6 0a6.3 6.3 0 1 0 -12.6 0M687.9 170.1a6.3 6.3 0 1 0 12.6 0a6.3 6.3 0 1 0 -12.6 0M690.9 170.1a6.3 6.3 0 1 0 12.6 0a6.3 6.3 0 1 0 -12.6 0M693.8 170.1a6.3 6.3 0 1 0 12.6 0a6.3 6.3 0 1 0 -12.6 0M696.7 170.1a6.3 6.3 0 1 0 12.6 0a6.3 6.3 0 1 0 -12.6 0M699.7 170.1a6.3 6.3 0 1 0 12.6 0a6.3 6.3 0 1 0 -12.6 0M702.6 170.1a6.3 6.3 0 1 0 12.6 0a6.3 6.3 0 1 0 -12.6 0M705.5 170.1a6.3 6.3 0 1 0 12.6 0a6.3 6.3 0 1 0 -12.6 0M708.5 170.1a6.3 6.3 0 1 0 12.6 0a6.3 6.3 0 1 0 -12.6 0M711.4 170.1a6.3 6.3 0 1 0 12.6 0a6.3 6.3 0 1 0 -12.6 0M122.4 237.5a6.3 6.3 0 1 0 12.6 0a6.3 6.3 0 1 0 -12.6 0M124.9 237.5a6.3 6.3 0 1 0 12.6 0a6.3 6.3 0 1 0 -12.6 0M127.4 237.5a6.3 6.3 0 1 0 12.6 0a6.3 6.3 0 1 0 -12.6 0M129.9 237.5a6.3 6.3 0 1 0 12.6 0a6.3 6.3 0 1 0 -12.6 0M132.4 237.5a6.3 6.3 0 1 0 12.6 0a6.3 6.3 0 1 0 -12.6 0M134.9 237.5a6.3 6.3 0 1 0 12.6 0a6.3 6.3 0 1 0 -12.6 0M137.5 237.5a6.3 6.3 0 1 0 12.6 0a6.3 6.3 0 1 0 -12.6 0M140 237.5a6.3 6.3 0 1 0 12.6 0a6.3 6.3 0 1 0 -12.6 0M142.5 237.5a6.3 6.3 0 1 0 12.6 0a6.3 6.3 0 1 0 -12.6 0M145 237.5a6.3 6.3 0 1 0 12.6 0a6.3 6.3 0 1 0 -12.6 0M147.5 237.5a6.3 6.3 0 1 0 12.6 0a6.3 6.3 0 1 0 -12.6 0M150 237.5a6.3 6.3 0 1 0 12.6 0a6.3 6.3 0 1 0 -12.6 0M152.5 237.5a6.3 6.3 0 1 0 12.6 0a6.3 6.3 0 1 0 -12.6 0M155 237.5a6.3 6.3 0 1 0 12.6 0a6.3 6.3 0 1 0 -12.6 0M157.5 237.5a6.3 6.3 0 1 0 12.6 0a6.3 6.3 0 1 0 -12.6 0M160 237.5a6.3 6.3 0 1 0 12.6 0a6.3 6.3 0 1 0 -12.6 0M162.5 237.5a6.3 6.3 0 1 0 12.6 0a6.3 6.3 0 1 0 -12.6 0M165.1 237.5a6.3 6.3 0 1 0 12.6 0a6.3 6.3 0 1 0 -12.6 0M167.6 237.5a6.3 6.3 0 1 0 12.6 0a6.3 6.3 0 1 0 -12.6 0M170.1 237.5a6.3 6.3 0 1 0 12.6 0a6.3 6.3 0 1 0 -12.6 0M172.6 237.5a6.3 6.3 0 1 0 12.6 0a6.3 6.3 0 1 0 -12.6 0M175.1 237.5a6.3 6.3 0 1 0 12.6 0a6.3 6.3 0 1 0 -12.6 0M177.6 237.5a6.3 6.3 0 1 0 12.6 0a6.3 6.3 0 1 0 -12.6 0M180.1 237.5a6.3 6.3 0 1 0 12.6 0a6.3 6.3 0 1 0 -12.6 0M182.6 237.5a6.3 6.3 0 1 0 12.6 0a6.3 6.3 0 1 0 -12.6 0M185.1 237.5a6.3 6.3 0 1 0 12.6 0a6.3 6.3 0 1 0 -12.6 0M187.6 237.5a6.3 6.3 0 1 0 12.6 0a6.3 6.3 0 1 0 -12.6 0M190.2 237.5a6.3 6.3 0 1 0 12.6 0a6.3 6.3 0 1 0 -12.6 0M192.7 237.5a6.3 6.3 0 1 0 12.6 0a6.3 6.3 0 1 0 -12.6 0M195.2 237.5a6.3 6.3 0 1 0 12.6 0a6.3 6.3 0 1 0 -12.6 0M197.7 237.5a6.3 6.3 0 1 0 12.6 0a6.3 6.3 0 1 0 -12.6 0M200.2 237.5a6.3 6.3 0 1 0 12.6 0a6.3 6.3 0 1 0 -12.6 0M202.7 237.5a6.3 6.3 0 1 0 12.6 0a6.3 6.3 0 1 0 -12.6 0M221.7 237.5a6.3 6.3 0 1 0 12.6 0a6.3 6.3 0 1 0 -12.6 0M224 237.5a6.3 6.3 0 1 0 12.6 0a6.3 6.3 0 1 0 -12.6 0M226.4 237.5a6.3 6.3 0 1 0 12.6 0a6.3 6.3 0 1 0 -12.6 0M228.7 237.5a6.3 6.3 0 1 0 12.6 0a6.3 6.3 0 1 0 -12.6 0M231.1 237.5a6.3 6.3 0 1 0 12.6 0a6.3 6.3 0 1 0 -12.6 0M233.4 237.5a6.3 6.3 0 1 0 12.6 0a6.3 6.3 0 1 0 -12.6 0M235.8 237.5a6.3 6.3 0 1 0 12.6 0a6.3 6.3 0 1 0 -12.6 0M238.1 237.5a6.3 6.3 0 1 0 12.6 0a6.3 6.3 0 1 0 -12.6 0M268.7 237.5a6.3 6.3 0 1 0 12.6 0a6.3 6.3 0 1 0 -12.6 0M271.2 237.5a6.3 6.3 0 1 0 12.6 0a6.3 6.3 0 1 0 -12.6 0M273.7 237.5a6.3 6.3 0 1 0 12.6 0a6.3 6.3 0 1 0 -12.6 0M276.2 237.5a6.3 6.3 0 1 0 12.6 0a6.3 6.3 0 1 0 -12.6 0M278.7 237.5a6.3 6.3 0 1 0 12.6 0a6.3 6.3 0 1 0 -12.6 0M281.2 237.5a6.3 6.3 0 1 0 12.6 0a6.3 6.3 0 1 0 -12.6 0M283.7 237.5a6.3 6.3 0 1 0 12.6 0a6.3 6.3 0 1 0 -12.6 0M286.1 237.5a6.3 6.3 0 1 0 12.6 0a6.3 6.3 0 1 0 -12.6 0M288.6 237.5a6.3 6.3 0 1 0 12.6 0a6.3 6.3 0 1 0 -12.6 0M291.1 237.5a6.3 6.3 0 1 0 12.6 0a6.3 6.3 0 1 0 -12.6 0M293.6 237.5a6.3 6.3 0 1 0 12.6 0a6.3 6.3 0 1 0 -12.6 0M296.1 237.5a6.3 6.3 0 1 0 12.6 0a6.3 6.3 0 1 0 -12.6 0M298.6 237.5a6.3 6.3 0 1 0 12.6 0a6.3 6.3 0 1 0 -12.6 0M301.1 237.5a6.3 6.3 0 1 0 12.6 0a6.3 6.3 0 1 0 -12.6 0M303.6 237.5a6.3 6.3 0 1 0 12.6 0a6.3 6.3 0 1 0 -12.6 0M306.1 237.5a6.3 6.3 0 1 0 12.6 0a6.3 6.3 0 1 0 -12.6 0M308.6 237.5a6.3 6.3 0 1 0 12.6 0a6.3 6.3 0 1 0 -12.6 0M311.1 237.5a6.3 6.3 0 1 0 12.6 0a6.3 6.3 0 1 0 -12.6 0M313.6 237.5a6.3 6.3 0 1 0 12.6 0a6.3 6.3 0 1 0 -12.6 0M316.1 237.5a6.3 6.3 0 1 0 12.6 0a6.3 6.3 0 1 0 -12.6 0M318.5 237.5a6.3 6.3 0 1 0 12.6 0a6.3 6.3 0 1 0 -12.6 0M321 237.5a6.3 6.3 0 1 0 12.6 0a6.3 6.3 0 1 0 -12.6 0M323.5 237.5a6.3 6.3 0 1 0 12.6 0a6.3 6.3 0 1 0 -12.6 0M326 237.5a6.3 6.3 0 1 0 12.6 0a6.3 6.3 0 1 0 -12.6 0M328.5 237.5a6.3 6.3 0 1 0 12.6 0a6.3 6.3 0 1 0 -12.6 0M331 237.5a6.3 6.3 0 1 0 12.6 0a6.3 6.3 0 1 0 -12.6 0M333.5 237.5a6.3 6.3 0 1 0 12.6 0a6.3 6.3 0 1 0 -12.6 0M336 237.5a6.3 6.3 0 1 0 12.6 0a6.3 6.3 0 1 0 -12.6 0M338.5 237.5a6.3 6.3 0 1 0 12.6 0a6.3 6.3 0 1 0 -12.6 0M341 237.5a6.3 6.3 0 1 0 12.6 0a6.3 6.3 0 1 0 -12.6 0M343.5 237.5a6.3 6.3 0 1 0 12.6 0a6.3 6.3 0 1 0 -12.6 0M346 237.5a6.3 6.3 0 1 0 12.6 0a6.3 6.3 0 1 0 -12.6 0M348.5 237.5a6.3 6.3 0 1 0 12.6 0a6.3 6.3 0 1 0 -12.6 0M350.9 237.5a6.3 6.3 0 1 0 12.6 0a6.3 6.3 0 1 0 -12.6 0M353.4 237.5a6.3 6.3 0 1 0 12.6 0a6.3 6.3 0 1 0 -12.6 0M355.9 237.5a6.3 6.3 0 1 0 12.6 0a6.3 6.3 0 1 0 -12.6 0M358.4 237.5a6.3 6.3 0 1 0 12.6 0a6.3 6.3 0 1 0 -12.6 0M360.9 237.5a6.3 6.3 0 1 0 12.6 0a6.3 6.3 0 1 0 -12.6 0M363.4 237.5a6.3 6.3 0 1 0 12.6 0a6.3 6.3 0 1 0 -12.6 0M365.9 237.5a6.3 6.3 0 1 0 12.6 0a6.3 6.3 0 1 0 -12.6 0M368.4 237.5a6.3 6.3 0 1 0 12.6 0a6.3 6.3 0 1 0 -12.6 0M370.9 237.5a6.3 6.3 0 1 0 12.6 0a6.3 6.3 0 1 0 -12.6 0M373.4 237.5a6.3 6.3 0 1 0 12.6 0a6.3 6.3 0 1 0 -12.6 0M375.9 237.5a6.3 6.3 0 1 0 12.6 0a6.3 6.3 0 1 0 -12.6 0M378.4 237.5a6.3 6.3 0 1 0 12.6 0a6.3 6.3 0 1 0 -12.6 0M380.9 237.5a6.3 6.3 0 1 0 12.6 0a6.3 6.3 0 1 0 -12.6 0M383.3 237.5a6.3 6.3 0 1 0 12.6 0a6.3 6.3 0 1 0 -12.6 0M385.8 237.5a6.3 6.3 0 1 0 12.6 0a6.3 6.3 0 1 0 -12.6 0M388.3 237.5a6.3 6.3 0 1 0 12.6 0a6.3 6.3 0 1 0 -12.6 0M390.8 237.5a6.3 6.3 0 1 0 12.6 0a6.3 6.3 0 1 0 -12.6 0M393.3 237.5a6.3 6.3 0 1 0 12.6 0a6.3 6.3 0 1 0 -12.6 0M395.8 237.5a6.3 6.3 0 1 0 12.6 0a6.3 6.3 0 1 0 -12.6 0M398.3 237.5a6.3 6.3 0 1 0 12.6 0a6.3 6.3 0 1 0 -12.6 0M400.8 237.5a6.3 6.3 0 1 0 12.6 0a6.3 6.3 0 1 0 -12.6 0M403.3 237.5a6.3 6.3 0 1 0 12.6 0a6.3 6.3 0 1 0 -12.6 0M405.8 237.5a6.3 6.3 0 1 0 12.6 0a6.3 6.3 0 1 0 -12.6 0M408.3 237.5a6.3 6.3 0 1 0 12.6 0a6.3 6.3 0 1 0 -12.6 0M410.8 237.5a6.3 6.3 0 1 0 12.6 0a6.3 6.3 0 1 0 -12.6 0M413.3 237.5a6.3 6.3 0 1 0 12.6 0a6.3 6.3 0 1 0 -12.6 0M415.7 237.5a6.3 6.3 0 1 0 12.6 0a6.3 6.3 0 1 0 -12.6 0M418.2 237.5a6.3 6.3 0 1 0 12.6 0a6.3 6.3 0 1 0 -12.6 0M420.7 237.5a6.3 6.3 0 1 0 12.6 0a6.3 6.3 0 1 0 -12.6 0M423.2 237.5a6.3 6.3 0 1 0 12.6 0a6.3 6.3 0 1 0 -12.6 0M425.7 237.5a6.3 6.3 0 1 0 12.6 0a6.3 6.3 0 1 0 -12.6 0M428.2 237.5a6.3 6.3 0 1 0 12.6 0a6.3 6.3 0 1 0 -12.6 0M430.7 237.5a6.3 6.3 0 1 0 12.6 0a6.3 6.3 0 1 0 -12.6 0M481.2 237.5a6.3 6.3 0 1 0 12.6 0a6.3 6.3 0 1 0 -12.6 0M483.6 237.5a6.3 6.3 0 1 0 12.6 0a6.3 6.3 0 1 0 -12.6 0M486.1 237.5a6.3 6.3 0 1 0 12.6 0a6.3 6.3 0 1 0 -12.6 0M488.5 237.5a6.3 6.3 0 1 0 12.6 0a6.3 6.3 0 1 0 -12.6 0M491 237.5a6.3 6.3 0 1 0 12.6 0a6.3 6.3 0 1 0 -12.6 0M493.4 237.5a6.3 6.3 0 1 0 12.6 0a6.3 6.3 0 1 0 -12.6 0M495.8 237.5a6.3 6.3 0 1 0 12.6 0a6.3 6.3 0 1 0 -12.6 0M498.3 237.5a6.3 6.3 0 1 0 12.6 0a6.3 6.3 0 1 0 -12.6 0M500.7 237.5a6.3 6.3 0 1 0 12.6 0a6.3 6.3 0 1 0 -12.6 0M503.2 237.5a6.3 6.3 0 1 0 12.6 0a6.3 6.3 0 1 0 -12.6 0M505.6 237.5a6.3 6.3 0 1 0 12.6 0a6.3 6.3 0 1 0 -12.6 0M508.1 237.5a6.3 6.3 0 1 0 12.6 0a6.3 6.3 0 1 0 -12.6 0M510.5 237.5a6.3 6.3 0 1 0 12.6 0a6.3 6.3 0 1 0 -12.6 0M512.9 237.5a6.3 6.3 0 1 0 12.6 0a6.3 6.3 0 1 0 -12.6 0M515.4 237.5a6.3 6.3 0 1 0 12.6 0a6.3 6.3 0 1 0 -12.6 0M517.8 237.5a6.3 6.3 0 1 0 12.6 0a6.3 6.3 0 1 0 -12.6 0M520.3 237.5a6.3 6.3 0 1 0 12.6 0a6.3 6.3 0 1 0 -12.6 0M522.7 237.5a6.3 6.3 0 1 0 12.6 0a6.3 6.3 0 1 0 -12.6 0M540.7 237.5a6.3 6.3 0 1 0 12.6 0a6.3 6.3 0 1 0 -12.6 0M543.2 237.5a6.3 6.3 0 1 0 12.6 0a6.3 6.3 0 1 0 -12.6 0M545.7 237.5a6.3 6.3 0 1 0 12.6 0a6.3 6.3 0 1 0 -12.6 0M548.1 237.5a6.3 6.3 0 1 0 12.6 0a6.3 6.3 0 1 0 -12.6 0M550.6 237.5a6.3 6.3 0 1 0 12.6 0a6.3 6.3 0 1 0 -12.6 0M553.1 237.5a6.3 6.3 0 1 0 12.6 0a6.3 6.3 0 1 0 -12.6 0M555.6 237.5a6.3 6.3 0 1 0 12.6 0a6.3 6.3 0 1 0 -12.6 0M558.1 237.5a6.3 6.3 0 1 0 12.6 0a6.3 6.3 0 1 0 -12.6 0M560.6 237.5a6.3 6.3 0 1 0 12.6 0a6.3 6.3 0 1 0 -12.6 0M563 237.5a6.3 6.3 0 1 0 12.6 0a6.3 6.3 0 1 0 -12.6 0M565.5 237.5a6.3 6.3 0 1 0 12.6 0a6.3 6.3 0 1 0 -12.6 0M568 237.5a6.3 6.3 0 1 0 12.6 0a6.3 6.3 0 1 0 -12.6 0M570.5 237.5a6.3 6.3 0 1 0 12.6 0a6.3 6.3 0 1 0 -12.6 0M573 237.5a6.3 6.3 0 1 0 12.6 0a6.3 6.3 0 1 0 -12.6 0M575.4 237.5a6.3 6.3 0 1 0 12.6 0a6.3 6.3 0 1 0 -12.6 0M577.9 237.5a6.3 6.3 0 1 0 12.6 0a6.3 6.3 0 1 0 -12.6 0M580.4 237.5a6.3 6.3 0 1 0 12.6 0a6.3 6.3 0 1 0 -12.6 0M598.4 237.5a6.3 6.3 0 1 0 12.6 0a6.3 6.3 0 1 0 -12.6 0M600.9 237.5a6.3 6.3 0 1 0 12.6 0a6.3 6.3 0 1 0 -12.6 0M603.4 237.5a6.3 6.3 0 1 0 12.6 0a6.3 6.3 0 1 0 -12.6 0M605.9 237.5a6.3 6.3 0 1 0 12.6 0a6.3 6.3 0 1 0 -12.6 0M608.3 237.5a6.3 6.3 0 1 0 12.6 0a6.3 6.3 0 1 0 -12.6 0M610.8 237.5a6.3 6.3 0 1 0 12.6 0a6.3 6.3 0 1 0 -12.6 0M613.3 237.5a6.3 6.3 0 1 0 12.6 0a6.3 6.3 0 1 0 -12.6 0M615.8 237.5a6.3 6.3 0 1 0 12.6 0a6.3 6.3 0 1 0 -12.6 0M618.3 237.5a6.3 6.3 0 1 0 12.6 0a6.3 6.3 0 1 0 -12.6 0M620.8 237.5a6.3 6.3 0 1 0 12.6 0a6.3 6.3 0 1 0 -12.6 0M623.2 237.5a6.3 6.3 0 1 0 12.6 0a6.3 6.3 0 1 0 -12.6 0M625.7 237.5a6.3 6.3 0 1 0 12.6 0a6.3 6.3 0 1 0 -12.6 0M628.2 237.5a6.3 6.3 0 1 0 12.6 0a6.3 6.3 0 1 0 -12.6 0M630.7 237.5a6.3 6.3 0 1 0 12.6 0a6.3 6.3 0 1 0 -12.6 0M633.2 237.5a6.3 6.3 0 1 0 12.6 0a6.3 6.3 0 1 0 -12.6 0M635.7 237.5a6.3 6.3 0 1 0 12.6 0a6.3 6.3 0 1 0 -12.6 0M638.1 237.5a6.3 6.3 0 1 0 12.6 0a6.3 6.3 0 1 0 -12.6 0M640.6 237.5a6.3 6.3 0 1 0 12.6 0a6.3 6.3 0 1 0 -12.6 0M643.1 237.5a6.3 6.3 0 1 0 12.6 0a6.3 6.3 0 1 0 -12.6 0M645.6 237.5a6.3 6.3 0 1 0 12.6 0a6.3 6.3 0 1 0 -12.6 0M648.1 237.5a6.3 6.3 0 1 0 12.6 0a6.3 6.3 0 1 0 -12.6 0M650.6 237.5a6.3 6.3 0 1 0 12.6 0a6.3 6.3 0 1 0 -12.6 0M653.1 237.5a6.3 6.3 0 1 0 12.6 0a6.3 6.3 0 1 0 -12.6 0M655.5 237.5a6.3 6.3 0 1 0 12.6 0a6.3 6.3 0 1 0 -12.6 0M658 237.5a6.3 6.3 0 1 0 12.6 0a6.3 6.3 0 1 0 -12.6 0M660.5 237.5a6.3 6.3 0 1 0 12.6 0a6.3 6.3 0 1 0 -12.6 0M663 237.5a6.3 6.3 0 1 0 12.6 0a6.3 6.3 0 1 0 -12.6 0M665.5 237.5a6.3 6.3 0 1 0 12.6 0a6.3 6.3 0 1 0 -12.6 0M668 237.5a6.3 6.3 0 1 0 12.6 0a6.3 6.3 0 1 0 -12.6 0M670.4 237.5a6.3 6.3 0 1 0 12.6 0a6.3 6.3 0 1 0 -12.6 0M672.9 237.5a6.3 6.3 0 1 0 12.6 0a6.3 6.3 0 1 0 -12.6 0M675.4 237.5a6.3 6.3 0 1 0 12.6 0a6.3 6.3 0 1 0 -12.6 0M677.9 237.5a6.3 6.3 0 1 0 12.6 0a6.3 6.3 0 1 0 -12.6 0M680.4 237.5a6.3 6.3 0 1 0 12.6 0a6.3 6.3 0 1 0 -12.6 0M682.9 237.5a6.3 6.3 0 1 0 12.6 0a6.3 6.3 0 1 0 -12.6 0M685.3 237.5a6.3 6.3 0 1 0 12.6 0a6.3 6.3 0 1 0 -12.6 0M687.8 237.5a6.3 6.3 0 1 0 12.6 0a6.3 6.3 0 1 0 -12.6 0M690.3 237.5a6.3 6.3 0 1 0 12.6 0a6.3 6.3 0 1 0 -12.6 0M692.8 237.5a6.3 6.3 0 1 0 12.6 0a6.3 6.3 0 1 0 -12.6 0M695.3 237.5a6.3 6.3 0 1 0 12.6 0a6.3 6.3 0 1 0 -12.6 0M697.8 237.5a6.3 6.3 0 1 0 12.6 0a6.3 6.3 0 1 0 -12.6 0M700.2 237.5a6.3 6.3 0 1 0 12.6 0a6.3 6.3 0 1 0 -12.6 0M702.7 237.5a6.3 6.3 0 1 0 12.6 0a6.3 6.3 0 1 0 -12.6 0M705.2 237.5a6.3 6.3 0 1 0 12.6 0a6.3 6.3 0 1 0 -12.6 0M707.7 237.5a6.3 6.3 0 1 0 12.6 0a6.3 6.3 0 1 0 -12.6 0M243.4 304.9a6.3 6.3 0 1 0 12.6 0a6.3 6.3 0 1 0 -12.6 0M599.9 304.9a6.3 6.3 0 1 0 12.6 0a6.3 6.3 0 1 0 -12.6 0M699.7 304.9a6.3 6.3 0 1 0 12.6 0a6.3 6.3 0 1 0 -12.6 0M703.7 304.9a6.3 6.3 0 1 0 12.6 0a6.3 6.3 0 1 0 -12.6 0M246 372.3a6.3 6.3 0 1 0 12.6 0a6.3 6.3 0 1 0 -12.6 0M248.3 372.3a6.3 6.3 0 1 0 12.6 0a6.3 6.3 0 1 0 -12.6 0M250.5 372.3a6.3 6.3 0 1 0 12.6 0a6.3 6.3 0 1 0 -12.6 0M252.8 372.3a6.3 6.3 0 1 0 12.6 0a6.3 6.3 0 1 0 -12.6 0M255 372.3a6.3 6.3 0 1 0 12.6 0a6.3 6.3 0 1 0 -12.6 0M257.3 372.3a6.3 6.3 0 1 0 12.6 0a6.3 6.3 0 1 0 -12.6 0M495.9 372.3a6.3 6.3 0 1 0 12.6 0a6.3 6.3 0 1 0 -12.6 0M674.3 372.3a6.3 6.3 0 1 0 12.6 0a6.3 6.3 0 1 0 -12.6 0M710 372.3a6.3 6.3 0 1 0 12.6 0a6.3 6.3 0 1 0 -12.6 0M129.7 574.6a6.3 6.3 0 1 0 12.6 0a6.3 6.3 0 1 0 -12.6 0M132.2 574.6a6.3 6.3 0 1 0 12.6 0a6.3 6.3 0 1 0 -12.6 0M150.7 574.6a6.3 6.3 0 1 0 12.6 0a6.3 6.3 0 1 0 -12.6 0M154.7 574.6a6.3 6.3 0 1 0 12.6 0a6.3 6.3 0 1 0 -12.6 0M158.7 574.6a6.3 6.3 0 1 0 12.6 0a6.3 6.3 0 1 0 -12.6 0M162.7 574.6a6.3 6.3 0 1 0 12.6 0a6.3 6.3 0 1 0 -12.6 0M209.7 574.6a6.3 6.3 0 1 0 12.6 0a6.3 6.3 0 1 0 -12.6 0M244.5 574.6a6.3 6.3 0 1 0 12.6 0a6.3 6.3 0 1 0 -12.6 0M477.3 574.6a6.3 6.3 0 1 0 12.6 0a6.3 6.3 0 1 0 -12.6 0M496.5 574.6a6.3 6.3 0 1 0 12.6 0a6.3 6.3 0 1 0 -12.6 0M598.7 574.6a6.3 6.3 0 1 0 12.6 0a6.3 6.3 0 1 0 -12.6 0M602.7 574.6a6.3 6.3 0 1 0 12.6 0a6.3 6.3 0 1 0 -12.6 0M606.7 574.6a6.3 6.3 0 1 0 12.6 0a6.3 6.3 0 1 0 -12.6 0M665.1 574.6a6.3 6.3 0 1 0 12.6 0a6.3 6.3 0 1 0 -12.6 0M667.5 574.6a6.3 6.3 0 1 0 12.6 0a6.3 6.3 0 1 0 -12.6 0M669.9 574.6a6.3 6.3 0 1 0 12.6 0a6.3 6.3 0 1 0 -12.6 0M672.2 574.6a6.3 6.3 0 1 0 12.6 0a6.3 6.3 0 1 0 -12.6 0M674.6 574.6a6.3 6.3 0 1 0 12.6 0a6.3 6.3 0 1 0 -12.6 0M677 574.6a6.3 6.3 0 1 0 12.6 0a6.3 6.3 0 1 0 -12.6 0M679.4 574.6a6.3 6.3 0 1 0 12.6 0a6.3 6.3 0 1 0 -12.6 0M142.7 642a6.3 6.3 0 1 0 12.6 0a6.3 6.3 0 1 0 -12.6 0M145.7 642a6.3 6.3 0 1 0 12.6 0a6.3 6.3 0 1 0 -12.6 0M148.7 642a6.3 6.3 0 1 0 12.6 0a6.3 6.3 0 1 0 -12.6 0M159.2 642a6.3 6.3 0 1 0 12.6 0a6.3 6.3 0 1 0 -12.6 0M209.7 642a6.3 6.3 0 1 0 12.6 0a6.3 6.3 0 1 0 -12.6 0M212.2 642a6.3 6.3 0 1 0 12.6 0a6.3 6.3 0 1 0 -12.6 0M252.5 642a6.3 6.3 0 1 0 12.6 0a6.3 6.3 0 1 0 -12.6 0M255.4 642a6.3 6.3 0 1 0 12.6 0a6.3 6.3 0 1 0 -12.6 0M258.3 642a6.3 6.3 0 1 0 12.6 0a6.3 6.3 0 1 0 -12.6 0M478.2 642a6.3 6.3 0 1 0 12.6 0a6.3 6.3 0 1 0 -12.6 0M480.8 642a6.3 6.3 0 1 0 12.6 0a6.3 6.3 0 1 0 -12.6 0M483.5 642a6.3 6.3 0 1 0 12.6 0a6.3 6.3 0 1 0 -12.6 0M486.1 642a6.3 6.3 0 1 0 12.6 0a6.3 6.3 0 1 0 -12.6 0M488.7 642a6.3 6.3 0 1 0 12.6 0a6.3 6.3 0 1 0 -12.6 0M491.3 642a6.3 6.3 0 1 0 12.6 0a6.3 6.3 0 1 0 -12.6 0M494 642a6.3 6.3 0 1 0 12.6 0a6.3 6.3 0 1 0 -12.6 0M496.6 642a6.3 6.3 0 1 0 12.6 0a6.3 6.3 0 1 0 -12.6 0M599.1 642a6.3 6.3 0 1 0 12.6 0a6.3 6.3 0 1 0 -12.6 0M671.1 642a6.3 6.3 0 1 0 12.6 0a6.3 6.3 0 1 0 -12.6 0M673.7 642a6.3 6.3 0 1 0 12.6 0a6.3 6.3 0 1 0 -12.6 0M676.4 642a6.3 6.3 0 1 0 12.6 0a6.3 6.3 0 1 0 -12.6 0M679 642a6.3 6.3 0 1 0 12.6 0a6.3 6.3 0 1 0 -12.6 0"/>
<rect x="603.1" y="45.9" width="106.1" height="79.2" fill="#fff" stroke="#262626" stroke-width="4"/>
<circle cx="643" cy="61.6" r="6.0" fill="none" stroke="#0072BD" stroke-width="3.7"/>
<text x="680.1" y="68.2" font-size="18.5" font-family="'Liberation Sans', Arial, sans-serif" font-weight="bold" stroke-width="0.6" stroke-linejoin="round" fill="#000" stroke="#000">A</text>
<circle cx="643" cy="85.8" r="6.0" fill="none" stroke="#D95319" stroke-width="3.7"/>
<text x="680.1" y="92.4" font-size="18.5" font-family="'Liberation Sans', Arial, sans-serif" font-weight="bold" stroke-width="0.6" stroke-linejoin="round" fill="#000" stroke="#000">IC</text>
<circle cx="643" cy="110" r="6.0" fill="none" stroke="#EDB120" stroke-width="3.7"/>
<text x="680.1" y="116.6" font-size="18.5" font-family="'Liberation Sans', Arial, sans-serif" font-weight="bold" stroke-width="0.6" stroke-linejoin="round" fill="#000" stroke="#000">MI</text>
<text x="111.9" y="69.6" font-size="21.3" letter-spacing="-0.15" text-anchor="end" font-family="'Liberation Sans', Arial, sans-serif" font-weight="bold" stroke-width="0.6" stroke-linejoin="round" fill="#262626" stroke="#262626">P sheet</text>
<text x="111.9" y="137" font-size="21.3" letter-spacing="-0.15" text-anchor="end" font-family="'Liberation Sans', Arial, sans-serif" font-weight="bold" stroke-width="0.6" stroke-linejoin="round" fill="#262626" stroke="#262626">room</text>
<text x="111.9" y="204.4" font-size="21.3" letter-spacing="-0.15" text-anchor="end" font-family="'Liberation Sans', Arial, sans-serif" font-weight="bold" stroke-width="0.6" stroke-linejoin="round" fill="#262626" stroke="#262626">body P</text>
<text x="111.9" y="271.8" font-size="21.3" letter-spacing="-0.15" text-anchor="end" font-family="'Liberation Sans', Arial, sans-serif" font-weight="bold" stroke-width="0.6" stroke-linejoin="round" fill="#262626" stroke="#262626">face P</text>
<text x="111.9" y="339.2" font-size="21.3" letter-spacing="-0.15" text-anchor="end" font-family="'Liberation Sans', Arial, sans-serif" font-weight="bold" stroke-width="0.6" stroke-linejoin="round" fill="#262626" stroke="#262626">body MI</text>
<text x="111.9" y="406.6" font-size="21.3" letter-spacing="-0.15" text-anchor="end" font-family="'Liberation Sans', Arial, sans-serif" font-weight="bold" stroke-width="0.6" stroke-linejoin="round" fill="#262626" stroke="#262626">face MI</text>
<text x="111.9" y="474.1" font-size="21.3" letter-spacing="-0.15" text-anchor="end" font-family="'Liberation Sans', Arial, sans-serif" font-weight="bold" stroke-width="0.6" stroke-linejoin="round" fill="#262626" stroke="#262626">body IC</text>
<text x="111.9" y="541.5" font-size="21.3" letter-spacing="-0.15" text-anchor="end" font-family="'Liberation Sans', Arial, sans-serif" font-weight="bold" stroke-width="0.6" stroke-linejoin="round" fill="#262626" stroke="#262626">face IC</text>
<text x="111.9" y="608.9" font-size="21.3" letter-spacing="-0.15" text-anchor="end" font-family="'Liberation Sans', Arial, sans-serif" font-weight="bold" stroke-width="0.6" stroke-linejoin="round" fill="#262626" stroke="#262626">body A</text>
<text x="111.9" y="676.3" font-size="21.3" letter-spacing="-0.15" text-anchor="end" font-family="'Liberation Sans', Arial, sans-serif" font-weight="bold" stroke-width="0.6" stroke-linejoin="round" fill="#262626" stroke="#262626">face A</text>
<text x="121.2" y="731.2" font-size="21.5" text-anchor="middle" font-family="'Liberation Sans', Arial, sans-serif" font-weight="bold" stroke-width="0.6" stroke-linejoin="round" fill="#262626" stroke="#262626">0</text>
<text x="222.1" y="731.2" font-size="21.5" text-anchor="middle" font-family="'Liberation Sans', Arial, sans-serif" font-weight="bold" stroke-width="0.6" stroke-linejoin="round" fill="#262626" stroke="#262626">1</text>
<text x="323.1" y="731.2" font-size="21.5" text-anchor="middle" font-family="'Liberation Sans', Arial, sans-serif" font-weight="bold" stroke-width="0.6" stroke-linejoin="round" fill="#262626" stroke="#262626">2</text>
<text x="424" y="731.2" font-size="21.5" text-anchor="middle" font-family="'Liberation Sans', Arial, sans-serif" font-weight="bold" stroke-width="0.6" stroke-linejoin="round" fill="#262626" stroke="#262626">3</text>
<text x="524.9" y="731.2" font-size="21.5" text-anchor="middle" font-family="'Liberation Sans', Arial, sans-serif" font-weight="bold" stroke-width="0.6" stroke-linejoin="round" fill="#262626" stroke="#262626">4</text>
<text x="625.9" y="731.2" font-size="21.5" text-anchor="middle" font-family="'Liberation Sans', Arial, sans-serif" font-weight="bold" stroke-width="0.6" stroke-linejoin="round" fill="#262626" stroke="#262626">5</text>
<text x="726.8" y="731.2" font-size="21.5" text-anchor="middle" font-family="'Liberation Sans', Arial, sans-serif" font-weight="bold" stroke-width="0.6" stroke-linejoin="round" fill="#262626" stroke="#262626">6</text>
<text x="424" y="757.8" font-size="23.3" text-anchor="middle" font-family="'Liberation Sans', Arial, sans-serif" font-weight="bold" stroke-width="0.6" stroke-linejoin="round" fill="#262626" stroke="#262626">Training time [min]</text>
<text x="424" y="22.1" font-size="23.2" text-anchor="middle" font-family="'Liberation Sans', Arial, sans-serif" font-weight="bold" stroke-width="0.6" stroke-linejoin="round" fill="#000" stroke="#000">Team 3</text>
<text transform="translate(22.1 366.2) rotate(-90)" font-size="23.5" text-anchor="middle" font-family="'Liberation Sans', Arial, sans-serif" font-weight="bold" stroke-width="0.6" stroke-linejoin="round" fill="#262626" stroke="#262626">AOI</text>
</g>
<g>
<path d="M919.1 26.7V701.7H1526.2" fill="none" stroke="#262626" stroke-width="4" stroke-linejoin="miter"/>
<path d="M919.1 62.3H927.7M919.1 129.7H927.7M919.1 197.1H927.7M919.1 264.5H927.7M919.1 331.9H927.7M919.1 399.3H927.7M919.1 466.8H927.7M919.1 534.2H927.7M919.1 601.6H927.7M919.1 669H927.7M1020 701.7V694.1M1121 701.7V694.1M1221.9 701.7V694.1M1322.8 701.7V694.1M1423.8 701.7V694.1M1524.7 701.7V694.1" stroke="#262626" stroke-width="4" fill="none"/>
<path fill="none" stroke="#0072BD" stroke-width="4.0" d="M919.8 129.7a6.3 6.3 0 1 0 12.6 0a6.3 6.3 0 1 0 -12.6 0M942.4 129.7a6.3 6.3 0 1 0 12.6 0a6.3 6.3 0 1 0 -12.6 0M945.2 129.7a6.3 6.3 0 1 0 12.6 0a6.3 6.3 0 1 0 -12.6 0M948.4 129.7a6.3 6.3 0 1 0 12.6 0a6.3 6.3 0 1 0 -12.6 0M1045 129.7a6.3 6.3 0 1 0 12.6 0a6.3 6.3 0 1 0 -12.6 0M1048.5 129.7a6.3 6.3 0 1 0 12.6 0a6.3 6.3 0 1 0 -12.6 0M1077.6 129.7a6.3 6.3 0 1 0 12.6 0a6.3 6.3 0 1 0 -12.6 0M1081.7 129.7a6.3 6.3 0 1 0 12.6 0a6.3 6.3 0 1 0 -12.6 0M1089.1 129.7a6.3 6.3 0 1 0 12.6 0a6.3 6.3 0 1 0 -12.6 0M1092.7 129.7a6.3 6.3 0 1 0 12.6 0a6.3 6.3 0 1 0 -12.6 0M1097.4 129.7a6.3 6.3 0 1 0 12.6 0a6.3 6.3 0 1 0 -12.6 0M1355.1 129.7a6.3 6.3 0 1 0 12.6 0a6.3 6.3 0 1 0 -12.6 0M1359.3 129.7a6.3 6.3 0 1 0 12.6 0a6.3 6.3 0 1 0 -12.6 0M1363.4 129.7a6.3 6.3 0 1 0 12.6 0a6.3 6.3 0 1 0 -12.6 0M1367.5 129.7a6.3 6.3 0 1 0 12.6 0a6.3 6.3 0 1 0 -12.6 0M1371.7 129.7a6.3 6.3 0 1 0 12.6 0a6.3 6.3 0 1 0 -12.6 0M1389.3 129.7a6.3 6.3 0 1 0 12.6 0a6.3 6.3 0 1 0 -12.6 0M1393.6 129.7a6.3 6.3 0 1 0 12.6 0a6.3 6.3 0 1 0 -12.6 0M1398 129.7a6.3 6.3 0 1 0 12.6 0a6.3 6.3 0 1 0 -12.6 0M1402.4 129.7a6.3 6.3 0 1 0 12.6 0a6.3 6.3 0 1 0 -12.6 0M1406.7 129.7a6.3 6.3 0 1 0 12.6 0a6.3 6.3 0 1 0 -12.6 0M1421.2 129.7a6.3 6.3 0 1 0 12.6 0a6.3 6.3 0 1 0 -12.6 0M923.8 197.1a6.3 6.3 0 1 0 12.6 0a6.3 6.3 0 1 0 -12.6 0M948.2 197.1a6.3 6.3 0 1 0 12.6 0a6.3 6.3 0 1 0 -12.6 0M1006.9 197.1a6.3 6.3 0 1 0 12.6 0a6.3 6.3 0 1 0 -12.6 0M1040.2 197.1a6.3 6.3 0 1 0 12.6 0a6.3 6.3 0 1 0 -12.6 0M1050.8 197.1a6.3 6.3 0 1 0 12.6 0a6.3 6.3 0 1 0 -12.6 0M1107.7 197.1a6.3 6.3 0 1 0 12.6 0a6.3 6.3 0 1 0 -12.6 0M1112.1 197.1a6.3 6.3 0 1 0 12.6 0a6.3 6.3 0 1 0 -12.6 0M1125.8 197.1a6.3 6.3 0 1 0 12.6 0a6.3 6.3 0 1 0 -12.6 0M1271.6 197.1a6.3 6.3 0 1 0 12.6 0a6.3 6.3 0 1 0 -12.6 0M1284.4 197.1a6.3 6.3 0 1 0 12.6 0a6.3 6.3 0 1 0 -12.6 0M1288.5 197.1a6.3 6.3 0 1 0 12.6 0a6.3 6.3 0 1 0 -12.6 0M1291.7 197.1a6.3 6.3 0 1 0 12.6 0a6.3 6.3 0 1 0 -12.6 0M1296 197.1a6.3 6.3 0 1 0 12.6 0a6.3 6.3 0 1 0 -12.6 0M1299.7 197.1a6.3 6.3 0 1 0 12.6 0a6.3 6.3 0 1 0 -12.6 0M1308 197.1a6.3 6.3 0 1 0 12.6 0a6.3 6.3 0 1 0 -12.6 0M1328.4 197.1a6.3 6.3 0 1 0 12.6 0a6.3 6.3 0 1 0 -12.6 0M1372.2 197.1a6.3 6.3 0 1 0 12.6 0a6.3 6.3 0 1 0 -12.6 0M1374.8 197.1a6.3 6.3 0 1 0 12.6 0a6.3 6.3 0 1 0 -12.6 0M1386.7 197.1a6.3 6.3 0 1 0 12.6 0a6.3 6.3 0 1 0 -12.6 0M1389.4 197.1a6.3 6.3 0 1 0 12.6 0a6.3 6.3 0 1 0 -12.6 0M1398.7 197.1a6.3 6.3 0 1 0 12.6 0a6.3 6.3 0 1 0 -12.6 0M1401.7 197.1a6.3 6.3 0 1 0 12.6 0a6.3 6.3 0 1 0 -12.6 0M1421.2 197.1a6.3 6.3 0 1 0 12.6 0a6.3 6.3 0 1 0 -12.6 0M922.7 264.5a6.3 6.3 0 1 0 12.6 0a6.3 6.3 0 1 0 -12.6 0M924.7 264.5a6.3 6.3 0 1 0 12.6 0a6.3 6.3 0 1 0 -12.6 0M956.2 264.5a6.3 6.3 0 1 0 12.6 0a6.3 6.3 0 1 0 -12.6 0M958.2 264.5a6.3 6.3 0 1 0 12.6 0a6.3 6.3 0 1 0 -12.6 0M1006.6 264.5a6.3 6.3 0 1 0 12.6 0a6.3 6.3 0 1 0 -12.6 0M1009.7 264.5a6.3 6.3 0 1 0 12.6 0a6.3 6.3 0 1 0 -12.6 0M1012.8 264.5a6.3 6.3 0 1 0 12.6 0a6.3 6.3 0 1 0 -12.6 0M1095.7 264.5a6.3 6.3 0 1 0 12.6 0a6.3 6.3 0 1 0 -12.6 0M1098.7 264.5a6.3 6.3 0 1 0 12.6 0a6.3 6.3 0 1 0 -12.6 0M1156.2 264.5a6.3 6.3 0 1 0 12.6 0a6.3 6.3 0 1 0 -12.6 0M1191.5 264.5a6.3 6.3 0 1 0 12.6 0a6.3 6.3 0 1 0 -12.6 0M1267.1 264.5a6.3 6.3 0 1 0 12.6 0a6.3 6.3 0 1 0 -12.6 0M1270.2 264.5a6.3 6.3 0 1 0 12.6 0a6.3 6.3 0 1 0 -12.6 0M1274.7 264.5a6.3 6.3 0 1 0 12.6 0a6.3 6.3 0 1 0 -12.6 0M1287.7 264.5a6.3 6.3 0 1 0 12.6 0a6.3 6.3 0 1 0 -12.6 0M1291.5 264.5a6.3 6.3 0 1 0 12.6 0a6.3 6.3 0 1 0 -12.6 0M1331.7 264.5a6.3 6.3 0 1 0 12.6 0a6.3 6.3 0 1 0 -12.6 0M1334.2 264.5a6.3 6.3 0 1 0 12.6 0a6.3 6.3 0 1 0 -12.6 0M1336.7 264.5a6.3 6.3 0 1 0 12.6 0a6.3 6.3 0 1 0 -12.6 0M1339.2 264.5a6.3 6.3 0 1 0 12.6 0a6.3 6.3 0 1 0 -12.6 0M1341.7 264.5a6.3 6.3 0 1 0 12.6 0a6.3 6.3 0 1 0 -12.6 0M1344.2 264.5a6.3 6.3 0 1 0 12.6 0a6.3 6.3 0 1 0 -12.6 0M1346.7 264.5a6.3 6.3 0 1 0 12.6 0a6.3 6.3 0 1 0 -12.6 0M1349.2 264.5a6.3 6.3 0 1 0 12.6 0a6.3 6.3 0 1 0 -12.6 0M1351.7 264.5a6.3 6.3 0 1 0 12.6 0a6.3 6.3 0 1 0 -12.6 0M1354.2 264.5a6.3 6.3 0 1 0 12.6 0a6.3 6.3 0 1 0 -12.6 0M1356.7 264.5a6.3 6.3 0 1 0 12.6 0a6.3 6.3 0 1 0 -12.6 0M1359.2 264.5a6.3 6.3 0 1 0 12.6 0a6.3 6.3 0 1 0 -12.6 0M1377.7 264.5a6.3 6.3 0 1 0 12.6 0a6.3 6.3 0 1 0 -12.6 0M935.7 331.9a6.3 6.3 0 1 0 12.6 0a6.3 6.3 0 1 0 -12.6 0M938.7 331.9a6.3 6.3 0 1 0 12.6 0a6.3 6.3 0 1 0 -12.6 0M1103.7 331.9a6.3 6.3 0 1 0 12.6 0a6.3 6.3 0 1 0 -12.6 0M1382.3 331.9a6.3 6.3 0 1 0 12.6 0a6.3 6.3 0 1 0 -12.6 0M1385.7 331.9a6.3 6.3 0 1 0 12.6 0a6.3 6.3 0 1 0 -12.6 0M1390.2 331.9a6.3 6.3 0 1 0 12.6 0a6.3 6.3 0 1 0 -12.6 0M1393.7 331.9a6.3 6.3 0 1 0 12.6 0a6.3 6.3 0 1 0 -12.6 0M1398.2 331.9a6.3 6.3 0 1 0 12.6 0a6.3 6.3 0 1 0 -12.6 0M1401.7 331.9a6.3 6.3 0 1 0 12.6 0a6.3 6.3 0 1 0 -12.6 0M1418.3 331.9a6.3 6.3 0 1 0 12.6 0a6.3 6.3 0 1 0 -12.6 0M942.4 399.3a6.3 6.3 0 1 0 12.6 0a6.3 6.3 0 1 0 -12.6 0M947.7 399.3a6.3 6.3 0 1 0 12.6 0a6.3 6.3 0 1 0 -12.6 0M953.2 399.3a6.3 6.3 0 1 0 12.6 0a6.3 6.3 0 1 0 -12.6 0M956.7 399.3a6.3 6.3 0 1 0 12.6 0a6.3 6.3 0 1 0 -12.6 0M961.4 399.3a6.3 6.3 0 1 0 12.6 0a6.3 6.3 0 1 0 -12.6 0M978.4 399.3a6.3 6.3 0 1 0 12.6 0a6.3 6.3 0 1 0 -12.6 0M992.9 399.3a6.3 6.3 0 1 0 12.6 0a6.3 6.3 0 1 0 -12.6 0M996.7 399.3a6.3 6.3 0 1 0 12.6 0a6.3 6.3 0 1 0 -12.6 0M999.7 399.3a6.3 6.3 0 1 0 12.6 0a6.3 6.3 0 1 0 -12.6 0M1002.9 399.3a6.3 6.3 0 1 0 12.6 0a6.3 6.3 0 1 0 -12.6 0M1019.1 399.3a6.3 6.3 0 1 0 12.6 0a6.3 6.3 0 1 0 -12.6 0M1036.7 399.3a6.3 6.3 0 1 0 12.6 0a6.3 6.3 0 1 0 -12.6 0M1039.7 399.3a6.3 6.3 0 1 0 12.6 0a6.3 6.3 0 1 0 -12.6 0M1079.2 399.3a6.3 6.3 0 1 0 12.6 0a6.3 6.3 0 1 0 -12.6 0M1081.7 399.3a6.3 6.3 0 1 0 12.6 0a6.3 6.3 0 1 0 -12.6 0M1095.5 399.3a6.3 6.3 0 1 0 12.6 0a6.3 6.3 0 1 0 -12.6 0M1097.7 399.3a6.3 6.3 0 1 0 12.6 0a6.3 6.3 0 1 0 -12.6 0M1100.7 399.3a6.3 6.3 0 1 0 12.6 0a6.3 6.3 0 1 0 -12.6 0M1103.9 399.3a6.3 6.3 0 1 0 12.6 0a6.3 6.3 0 1 0 -12.6 0M1114.4 399.3a6.3 6.3 0 1 0 12.6 0a6.3 6.3 0 1 0 -12.6 0M1128.2 399.3a6.3 6.3 0 1 0 12.6 0a6.3 6.3 0 1 0 -12.6 0M1142 399.3a6.3 6.3 0 1 0 12.6 0a6.3 6.3 0 1 0 -12.6 0M1145.7 399.3a6.3 6.3 0 1 0 12.6 0a6.3 6.3 0 1 0 -12.6 0M1149.7 399.3a6.3 6.3 0 1 0 12.6 0a6.3 6.3 0 1 0 -12.6 0M1154.3 399.3a6.3 6.3 0 1 0 12.6 0a6.3 6.3 0 1 0 -12.6 0M1158.7 399.3a6.3 6.3 0 1 0 12.6 0a6.3 6.3 0 1 0 -12.6 0M1166.7 399.3a6.3 6.3 0 1 0 12.6 0a6.3 6.3 0 1 0 -12.6 0M1184.4 399.3a6.3 6.3 0 1 0 12.6 0a6.3 6.3 0 1 0 -12.6 0M1196.7 399.3a6.3 6.3 0 1 0 12.6 0a6.3 6.3 0 1 0 -12.6 0M1207.7 399.3a6.3 6.3 0 1 0 12.6 0a6.3 6.3 0 1 0 -12.6 0M1211.2 399.3a6.3 6.3 0 1 0 12.6 0a6.3 6.3 0 1 0 -12.6 0M1235.7 399.3a6.3 6.3 0 1 0 12.6 0a6.3 6.3 0 1 0 -12.6 0M1252.7 399.3a6.3 6.3 0 1 0 12.6 0a6.3 6.3 0 1 0 -12.6 0M1255.7 399.3a6.3 6.3 0 1 0 12.6 0a6.3 6.3 0 1 0 -12.6 0M1259.5 399.3a6.3 6.3 0 1 0 12.6 0a6.3 6.3 0 1 0 -12.6 0M1278.2 399.3a6.3 6.3 0 1 0 12.6 0a6.3 6.3 0 1 0 -12.6 0M1280.7 399.3a6.3 6.3 0 1 0 12.6 0a6.3 6.3 0 1 0 -12.6 0M1293.5 399.3a6.3 6.3 0 1 0 12.6 0a6.3 6.3 0 1 0 -12.6 0M1297.7 399.3a6.3 6.3 0 1 0 12.6 0a6.3 6.3 0 1 0 -12.6 0M1300.8 399.3a6.3 6.3 0 1 0 12.6 0a6.3 6.3 0 1 0 -12.6 0M1303.9 399.3a6.3 6.3 0 1 0 12.6 0a6.3 6.3 0 1 0 -12.6 0M1306.9 399.3a6.3 6.3 0 1 0 12.6 0a6.3 6.3 0 1 0 -12.6 0M1310 399.3a6.3 6.3 0 1 0 12.6 0a6.3 6.3 0 1 0 -12.6 0M1313.1 399.3a6.3 6.3 0 1 0 12.6 0a6.3 6.3 0 1 0 -12.6 0M1316.2 399.3a6.3 6.3 0 1 0 12.6 0a6.3 6.3 0 1 0 -12.6 0M1319.2 399.3a6.3 6.3 0 1 0 12.6 0a6.3 6.3 0 1 0 -12.6 0M1322.3 399.3a6.3 6.3 0 1 0 12.6 0a6.3 6.3 0 1 0 -12.6 0M1325.4 399.3a6.3 6.3 0 1 0 12.6 0a6.3 6.3 0 1 0 -12.6 0M1360.1 399.3a6.3 6.3 0 1 0 12.6 0a6.3 6.3 0 1 0 -12.6 0M1362.7 399.3a6.3 6.3 0 1 0 12.6 0a6.3 6.3 0 1 0 -12.6 0M1367.7 399.3a6.3 6.3 0 1 0 12.6 0a6.3 6.3 0 1 0 -12.6 0M1370.7 399.3a6.3 6.3 0 1 0 12.6 0a6.3 6.3 0 1 0 -12.6 0M1373.7 399.3a6.3 6.3 0 1 0 12.6 0a6.3 6.3 0 1 0 -12.6 0M1376.7 399.3a6.3 6.3 0 1 0 12.6 0a6.3 6.3 0 1 0 -12.6 0M1379.7 399.3a6.3 6.3 0 1 0 12.6 0a6.3 6.3 0 1 0 -12.6 0M1382.7 399.3a6.3 6.3 0 1 0 12.6 0a6.3 6.3 0 1 0 -12.6 0M1385.7 399.3a6.3 6.3 0 1 0 12.6 0a6.3 6.3 0 1 0 -12.6 0M1388.7 399.3a6.3 6.3 0 1 0 12.6 0a6.3 6.3 0 1 0 -12.6 0M1391.7 399.3a6.3 6.3 0 1 0 12.6 0a6.3 6.3 0 1 0 -12.6 0M1399.2 399.3a6.3 6.3 0 1 0 12.6 0a6.3 6.3 0 1 0 -12.6 0M1401.7 399.3a6.3 6.3 0 1 0 12.6 0a6.3 6.3 0 1 0 -12.6 0M1413.9 399.3a6.3 6.3 0 1 0 12.6 0a6.3 6.3 0 1 0 -12.6 0M1416.7 399.3a6.3 6.3 0 1 0 12.6 0a6.3 6.3 0 1 0 -12.6 0M1426.9 399.3a6.3 6.3 0 1 0 12.6 0a6.3 6.3 0 1 0 -12.6 0M1429.5 399.3a6.3 6.3 0 1 0 12.6 0a6.3 6.3 0 1 0 -12.6 0M1083.7 466.8a6.3 6.3 0 1 0 12.6 0a6.3 6.3 0 1 0 -12.6 0M1086.7 466.8a6.3 6.3 0 1 0 12.6 0a6.3 6.3 0 1 0 -12.6 0M1149.5 466.8a6.3 6.3 0 1 0 12.6 0a6.3 6.3 0 1 0 -12.6 0M1277.2 466.8a6.3 6.3 0 1 0 12.6 0a6.3 6.3 0 1 0 -12.6 0M1280.2 466.8a6.3 6.3 0 1 0 12.6 0a6.3 6.3 0 1 0 -12.6 0M1283.4 466.8a6.3 6.3 0 1 0 12.6 0a6.3 6.3 0 1 0 -12.6 0M1375.7 466.8a6.3 6.3 0 1 0 12.6 0a6.3 6.3 0 1 0 -12.6 0M1387.4 466.8a6.3 6.3 0 1 0 12.6 0a6.3 6.3 0 1 0 -12.6 0M1404.5 466.8a6.3 6.3 0 1 0 12.6 0a6.3 6.3 0 1 0 -12.6 0M1406.9 466.8a6.3 6.3 0 1 0 12.6 0a6.3 6.3 0 1 0 -12.6 0M1409.4 466.8a6.3 6.3 0 1 0 12.6 0a6.3 6.3 0 1 0 -12.6 0M1411.8 466.8a6.3 6.3 0 1 0 12.6 0a6.3 6.3 0 1 0 -12.6 0M1414.2 466.8a6.3 6.3 0 1 0 12.6 0a6.3 6.3 0 1 0 -12.6 0M1416.6 466.8a6.3 6.3 0 1 0 12.6 0a6.3 6.3 0 1 0 -12.6 0M1419 466.8a6.3 6.3 0 1 0 12.6 0a6.3 6.3 0 1 0 -12.6 0M1421.5 466.8a6.3 6.3 0 1 0 12.6 0a6.3 6.3 0 1 0 -12.6 0M1423.9 466.8a6.3 6.3 0 1 0 12.6 0a6.3 6.3 0 1 0 -12.6 0M920.8 534.2a6.3 6.3 0 1 0 12.6 0a6.3 6.3 0 1 0 -12.6 0M934.4 534.2a6.3 6.3 0 1 0 12.6 0a6.3 6.3 0 1 0 -12.6 0M946.1 534.2a6.3 6.3 0 1 0 12.6 0a6.3 6.3 0 1 0 -12.6 0M1047.1 534.2a6.3 6.3 0 1 0 12.6 0a6.3 6.3 0 1 0 -12.6 0M1071.7 534.2a6.3 6.3 0 1 0 12.6 0a6.3 6.3 0 1 0 -12.6 0M1075.7 534.2a6.3 6.3 0 1 0 12.6 0a6.3 6.3 0 1 0 -12.6 0M1079.7 534.2a6.3 6.3 0 1 0 12.6 0a6.3 6.3 0 1 0 -12.6 0M1376.3 534.2a6.3 6.3 0 1 0 12.6 0a6.3 6.3 0 1 0 -12.6 0"/>
<path fill="none" stroke="#D95319" stroke-width="4.0" d="M957.2 48.9a6.3 6.3 0 1 0 12.6 0a6.3 6.3 0 1 0 -12.6 0M960.2 48.9a6.3 6.3 0 1 0 12.6 0a6.3 6.3 0 1 0 -12.6 0M963.2 48.9a6.3 6.3 0 1 0 12.6 0a6.3 6.3 0 1 0 -12.6 0M990.7 48.9a6.3 6.3 0 1 0 12.6 0a6.3 6.3 0 1 0 -12.6 0M1000.7 48.9a6.3 6.3 0 1 0 12.6 0a6.3 6.3 0 1 0 -12.6 0M1021.7 48.9a6.3 6.3 0 1 0 12.6 0a6.3 6.3 0 1 0 -12.6 0M1024.3 48.9a6.3 6.3 0 1 0 12.6 0a6.3 6.3 0 1 0 -12.6 0M1026.8 48.9a6.3 6.3 0 1 0 12.6 0a6.3 6.3 0 1 0 -12.6 0M1029.4 48.9a6.3 6.3 0 1 0 12.6 0a6.3 6.3 0 1 0 -12.6 0M1032 48.9a6.3 6.3 0 1 0 12.6 0a6.3 6.3 0 1 0 -12.6 0M1034.5 48.9a6.3 6.3 0 1 0 12.6 0a6.3 6.3 0 1 0 -12.6 0M1037.1 48.9a6.3 6.3 0 1 0 12.6 0a6.3 6.3 0 1 0 -12.6 0M1106.2 48.9a6.3 6.3 0 1 0 12.6 0a6.3 6.3 0 1 0 -12.6 0M1108.8 48.9a6.3 6.3 0 1 0 12.6 0a6.3 6.3 0 1 0 -12.6 0M1111.3 48.9a6.3 6.3 0 1 0 12.6 0a6.3 6.3 0 1 0 -12.6 0M1113.9 48.9a6.3 6.3 0 1 0 12.6 0a6.3 6.3 0 1 0 -12.6 0M1116.4 48.9a6.3 6.3 0 1 0 12.6 0a6.3 6.3 0 1 0 -12.6 0M1119 48.9a6.3 6.3 0 1 0 12.6 0a6.3 6.3 0 1 0 -12.6 0M1121.5 48.9a6.3 6.3 0 1 0 12.6 0a6.3 6.3 0 1 0 -12.6 0M1124.1 48.9a6.3 6.3 0 1 0 12.6 0a6.3 6.3 0 1 0 -12.6 0M1126.6 48.9a6.3 6.3 0 1 0 12.6 0a6.3 6.3 0 1 0 -12.6 0M1147.7 48.9a6.3 6.3 0 1 0 12.6 0a6.3 6.3 0 1 0 -12.6 0M1150.7 48.9a6.3 6.3 0 1 0 12.6 0a6.3 6.3 0 1 0 -12.6 0M1154.7 48.9a6.3 6.3 0 1 0 12.6 0a6.3 6.3 0 1 0 -12.6 0M1195.2 48.9a6.3 6.3 0 1 0 12.6 0a6.3 6.3 0 1 0 -12.6 0M1256.5 48.9a6.3 6.3 0 1 0 12.6 0a6.3 6.3 0 1 0 -12.6 0M1274.3 48.9a6.3 6.3 0 1 0 12.6 0a6.3 6.3 0 1 0 -12.6 0M1287.4 48.9a6.3 6.3 0 1 0 12.6 0a6.3 6.3 0 1 0 -12.6 0M915.5 116.3a6.3 6.3 0 1 0 12.6 0a6.3 6.3 0 1 0 -12.6 0M918.8 116.3a6.3 6.3 0 1 0 12.6 0a6.3 6.3 0 1 0 -12.6 0M922.1 116.3a6.3 6.3 0 1 0 12.6 0a6.3 6.3 0 1 0 -12.6 0M925.4 116.3a6.3 6.3 0 1 0 12.6 0a6.3 6.3 0 1 0 -12.6 0M928.7 116.3a6.3 6.3 0 1 0 12.6 0a6.3 6.3 0 1 0 -12.6 0M936.8 116.3a6.3 6.3 0 1 0 12.6 0a6.3 6.3 0 1 0 -12.6 0M944.7 116.3a6.3 6.3 0 1 0 12.6 0a6.3 6.3 0 1 0 -12.6 0M948.7 116.3a6.3 6.3 0 1 0 12.6 0a6.3 6.3 0 1 0 -12.6 0M956 116.3a6.3 6.3 0 1 0 12.6 0a6.3 6.3 0 1 0 -12.6 0M959.7 116.3a6.3 6.3 0 1 0 12.6 0a6.3 6.3 0 1 0 -12.6 0M963.7 116.3a6.3 6.3 0 1 0 12.6 0a6.3 6.3 0 1 0 -12.6 0M967.7 116.3a6.3 6.3 0 1 0 12.6 0a6.3 6.3 0 1 0 -12.6 0M971.7 116.3a6.3 6.3 0 1 0 12.6 0a6.3 6.3 0 1 0 -12.6 0M975.7 116.3a6.3 6.3 0 1 0 12.6 0a6.3 6.3 0 1 0 -12.6 0M982.3 116.3a6.3 6.3 0 1 0 12.6 0a6.3 6.3 0 1 0 -12.6 0M1041.7 116.3a6.3 6.3 0 1 0 12.6 0a6.3 6.3 0 1 0 -12.6 0M1044.3 116.3a6.3 6.3 0 1 0 12.6 0a6.3 6.3 0 1 0 -12.6 0M1046.7 116.3a6.3 6.3 0 1 0 12.6 0a6.3 6.3 0 1 0 -12.6 0M1064.4 116.3a6.3 6.3 0 1 0 12.6 0a6.3 6.3 0 1 0 -12.6 0M1066.1 116.3a6.3 6.3 0 1 0 12.6 0a6.3 6.3 0 1 0 -12.6 0M1085.7 116.3a6.3 6.3 0 1 0 12.6 0a6.3 6.3 0 1 0 -12.6 0M1089 116.3a6.3 6.3 0 1 0 12.6 0a6.3 6.3 0 1 0 -12.6 0M1092.4 116.3a6.3 6.3 0 1 0 12.6 0a6.3 6.3 0 1 0 -12.6 0M1095.7 116.3a6.3 6.3 0 1 0 12.6 0a6.3 6.3 0 1 0 -12.6 0M1099 116.3a6.3 6.3 0 1 0 12.6 0a6.3 6.3 0 1 0 -12.6 0M1133.2 116.3a6.3 6.3 0 1 0 12.6 0a6.3 6.3 0 1 0 -12.6 0M1136.2 116.3a6.3 6.3 0 1 0 12.6 0a6.3 6.3 0 1 0 -12.6 0M1155.7 116.3a6.3 6.3 0 1 0 12.6 0a6.3 6.3 0 1 0 -12.6 0M1158.7 116.3a6.3 6.3 0 1 0 12.6 0a6.3 6.3 0 1 0 -12.6 0M1161.7 116.3a6.3 6.3 0 1 0 12.6 0a6.3 6.3 0 1 0 -12.6 0M1164.7 116.3a6.3 6.3 0 1 0 12.6 0a6.3 6.3 0 1 0 -12.6 0M1167.7 116.3a6.3 6.3 0 1 0 12.6 0a6.3 6.3 0 1 0 -12.6 0M1170.7 116.3a6.3 6.3 0 1 0 12.6 0a6.3 6.3 0 1 0 -12.6 0M1173.7 116.3a6.3 6.3 0 1 0 12.6 0a6.3 6.3 0 1 0 -12.6 0M1176.7 116.3a6.3 6.3 0 1 0 12.6 0a6.3 6.3 0 1 0 -12.6 0M1179.7 116.3a6.3 6.3 0 1 0 12.6 0a6.3 6.3 0 1 0 -12.6 0M1199.7 116.3a6.3 6.3 0 1 0 12.6 0a6.3 6.3 0 1 0 -12.6 0M1202.7 116.3a6.3 6.3 0 1 0 12.6 0a6.3 6.3 0 1 0 -12.6 0M1205.8 116.3a6.3 6.3 0 1 0 12.6 0a6.3 6.3 0 1 0 -12.6 0M1208.8 116.3a6.3 6.3 0 1 0 12.6 0a6.3 6.3 0 1 0 -12.6 0M1211.9 116.3a6.3 6.3 0 1 0 12.6 0a6.3 6.3 0 1 0 -12.6 0M1214.9 116.3a6.3 6.3 0 1 0 12.6 0a6.3 6.3 0 1 0 -12.6 0M1218 116.3a6.3 6.3 0 1 0 12.6 0a6.3 6.3 0 1 0 -12.6 0M1221 116.3a6.3 6.3 0 1 0 12.6 0a6.3 6.3 0 1 0 -12.6 0M1224.1 116.3a6.3 6.3 0 1 0 12.6 0a6.3 6.3 0 1 0 -12.6 0M1227.1 116.3a6.3 6.3 0 1 0 12.6 0a6.3 6.3 0 1 0 -12.6 0M1230.2 116.3a6.3 6.3 0 1 0 12.6 0a6.3 6.3 0 1 0 -12.6 0M1233.2 116.3a6.3 6.3 0 1 0 12.6 0a6.3 6.3 0 1 0 -12.6 0M1236.3 116.3a6.3 6.3 0 1 0 12.6 0a6.3 6.3 0 1 0 -12.6 0M1239.3 116.3a6.3 6.3 0 1 0 12.6 0a6.3 6.3 0 1 0 -12.6 0M1242.4 116.3a6.3 6.3 0 1 0 12.6 0a6.3 6.3 0 1 0 -12.6 0M1245.4 116.3a6.3 6.3 0 1 0 12.6 0a6.3 6.3 0 1 0 -12.6 0M1248.5 116.3a6.3 6.3 0 1 0 12.6 0a6.3 6.3 0 1 0 -12.6 0M1251.5 116.3a6.3 6.3 0 1 0 12.6 0a6.3 6.3 0 1 0 -12.6 0M1254.6 116.3a6.3 6.3 0 1 0 12.6 0a6.3 6.3 0 1 0 -12.6 0M1257.6 116.3a6.3 6.3 0 1 0 12.6 0a6.3 6.3 0 1 0 -12.6 0M1260.7 116.3a6.3 6.3 0 1 0 12.6 0a6.3 6.3 0 1 0 -12.6 0M1263.7 116.3a6.3 6.3 0 1 0 12.6 0a6.3 6.3 0 1 0 -12.6 0M1308 116.3a6.3 6.3 0 1 0 12.6 0a6.3 6.3 0 1 0 -12.6 0M1329.9 116.3a6.3 6.3 0 1 0 12.6 0a6.3 6.3 0 1 0 -12.6 0M1333.7 116.3a6.3 6.3 0 1 0 12.6 0a6.3 6.3 0 1 0 -12.6 0M1337.7 116.3a6.3 6.3 0 1 0 12.6 0a6.3 6.3 0 1 0 -12.6 0M1341.7 116.3a6.3 6.3 0 1 0 12.6 0a6.3 6.3 0 1 0 -12.6 0M1348.7 116.3a6.3 6.3 0 1 0 12.6 0a6.3 6.3 0 1 0 -12.6 0M917.7 183.7a6.3 6.3 0 1 0 12.6 0a6.3 6.3 0 1 0 -12.6 0M921 183.7a6.3 6.3 0 1 0 12.6 0a6.3 6.3 0 1 0 -12.6 0M924.4 183.7a6.3 6.3 0 1 0 12.6 0a6.3 6.3 0 1 0 -12.6 0M927.7 183.7a6.3 6.3 0 1 0 12.6 0a6.3 6.3 0 1 0 -12.6 0M931 183.7a6.3 6.3 0 1 0 12.6 0a6.3 6.3 0 1 0 -12.6 0M934.4 183.7a6.3 6.3 0 1 0 12.6 0a6.3 6.3 0 1 0 -12.6 0M937.7 183.7a6.3 6.3 0 1 0 12.6 0a6.3 6.3 0 1 0 -12.6 0M947.4 183.7a6.3 6.3 0 1 0 12.6 0a6.3 6.3 0 1 0 -12.6 0M959.7 183.7a6.3 6.3 0 1 0 12.6 0a6.3 6.3 0 1 0 -12.6 0M1006.7 183.7a6.3 6.3 0 1 0 12.6 0a6.3 6.3 0 1 0 -12.6 0M1009.7 183.7a6.3 6.3 0 1 0 12.6 0a6.3 6.3 0 1 0 -12.6 0M1012.7 183.7a6.3 6.3 0 1 0 12.6 0a6.3 6.3 0 1 0 -12.6 0M1015.7 183.7a6.3 6.3 0 1 0 12.6 0a6.3 6.3 0 1 0 -12.6 0M1025.6 183.7a6.3 6.3 0 1 0 12.6 0a6.3 6.3 0 1 0 -12.6 0M1043.4 183.7a6.3 6.3 0 1 0 12.6 0a6.3 6.3 0 1 0 -12.6 0M1046.7 183.7a6.3 6.3 0 1 0 12.6 0a6.3 6.3 0 1 0 -12.6 0M1050.5 183.7a6.3 6.3 0 1 0 12.6 0a6.3 6.3 0 1 0 -12.6 0M1054.2 183.7a6.3 6.3 0 1 0 12.6 0a6.3 6.3 0 1 0 -12.6 0M1058 183.7a6.3 6.3 0 1 0 12.6 0a6.3 6.3 0 1 0 -12.6 0M1061.7 183.7a6.3 6.3 0 1 0 12.6 0a6.3 6.3 0 1 0 -12.6 0M1071.2 183.7a6.3 6.3 0 1 0 12.6 0a6.3 6.3 0 1 0 -12.6 0M1074.7 183.7a6.3 6.3 0 1 0 12.6 0a6.3 6.3 0 1 0 -12.6 0M1083.4 183.7a6.3 6.3 0 1 0 12.6 0a6.3 6.3 0 1 0 -12.6 0M1086.7 183.7a6.3 6.3 0 1 0 12.6 0a6.3 6.3 0 1 0 -12.6 0M1096.4 183.7a6.3 6.3 0 1 0 12.6 0a6.3 6.3 0 1 0 -12.6 0M1274.8 183.7a6.3 6.3 0 1 0 12.6 0a6.3 6.3 0 1 0 -12.6 0M1287.8 183.7a6.3 6.3 0 1 0 12.6 0a6.3 6.3 0 1 0 -12.6 0M1291.7 183.7a6.3 6.3 0 1 0 12.6 0a6.3 6.3 0 1 0 -12.6 0M1296.2 183.7a6.3 6.3 0 1 0 12.6 0a6.3 6.3 0 1 0 -12.6 0M1300.7 183.7a6.3 6.3 0 1 0 12.6 0a6.3 6.3 0 1 0 -12.6 0M1305.2 183.7a6.3 6.3 0 1 0 12.6 0a6.3 6.3 0 1 0 -12.6 0M1309.7 183.7a6.3 6.3 0 1 0 12.6 0a6.3 6.3 0 1 0 -12.6 0M1319.6 183.7a6.3 6.3 0 1 0 12.6 0a6.3 6.3 0 1 0 -12.6 0M1327.7 183.7a6.3 6.3 0 1 0 12.6 0a6.3 6.3 0 1 0 -12.6 0M1330.6 183.7a6.3 6.3 0 1 0 12.6 0a6.3 6.3 0 1 0 -12.6 0M1333.6 183.7a6.3 6.3 0 1 0 12.6 0a6.3 6.3 0 1 0 -12.6 0M1336.5 183.7a6.3 6.3 0 1 0 12.6 0a6.3 6.3 0 1 0 -12.6 0M1339.5 183.7a6.3 6.3 0 1 0 12.6 0a6.3 6.3 0 1 0 -12.6 0M1342.4 183.7a6.3 6.3 0 1 0 12.6 0a6.3 6.3 0 1 0 -12.6 0M1345.4 183.7a6.3 6.3 0 1 0 12.6 0a6.3 6.3 0 1 0 -12.6 0M1348.3 183.7a6.3 6.3 0 1 0 12.6 0a6.3 6.3 0 1 0 -12.6 0M1351.3 183.7a6.3 6.3 0 1 0 12.6 0a6.3 6.3 0 1 0 -12.6 0M1354.2 183.7a6.3 6.3 0 1 0 12.6 0a6.3 6.3 0 1 0 -12.6 0M1357.2 183.7a6.3 6.3 0 1 0 12.6 0a6.3 6.3 0 1 0 -12.6 0M1360.1 183.7a6.3 6.3 0 1 0 12.6 0a6.3 6.3 0 1 0 -12.6 0M1396.7 183.7a6.3 6.3 0 1 0 12.6 0a6.3 6.3 0 1 0 -12.6 0M1399.7 183.7a6.3 6.3 0 1 0 12.6 0a6.3 6.3 0 1 0 -12.6 0M1408.7 183.7a6.3 6.3 0 1 0 12.6 0a6.3 6.3 0 1 0 -12.6 0M1412.2 183.7a6.3 6.3 0 1 0 12.6 0a6.3 6.3 0 1 0 -12.6 0M1425.3 183.7a6.3 6.3 0 1 0 12.6 0a6.3 6.3 0 1 0 -12.6 0M958.2 251.1a6.3 6.3 0 1 0 12.6 0a6.3 6.3 0 1 0 -12.6 0M1009.7 251.1a6.3 6.3 0 1 0 12.6 0a6.3 6.3 0 1 0 -12.6 0M1013.9 251.1a6.3 6.3 0 1 0 12.6 0a6.3 6.3 0 1 0 -12.6 0M1047 251.1a6.3 6.3 0 1 0 12.6 0a6.3 6.3 0 1 0 -12.6 0M1050.1 251.1a6.3 6.3 0 1 0 12.6 0a6.3 6.3 0 1 0 -12.6 0M1053.1 251.1a6.3 6.3 0 1 0 12.6 0a6.3 6.3 0 1 0 -12.6 0M1056.2 251.1a6.3 6.3 0 1 0 12.6 0a6.3 6.3 0 1 0 -12.6 0M1059.2 251.1a6.3 6.3 0 1 0 12.6 0a6.3 6.3 0 1 0 -12.6 0M1062.3 251.1a6.3 6.3 0 1 0 12.6 0a6.3 6.3 0 1 0 -12.6 0M1065.3 251.1a6.3 6.3 0 1 0 12.6 0a6.3 6.3 0 1 0 -12.6 0M1068.4 251.1a6.3 6.3 0 1 0 12.6 0a6.3 6.3 0 1 0 -12.6 0M1086.5 251.1a6.3 6.3 0 1 0 12.6 0a6.3 6.3 0 1 0 -12.6 0M1358 251.1a6.3 6.3 0 1 0 12.6 0a6.3 6.3 0 1 0 -12.6 0M1360.5 251.1a6.3 6.3 0 1 0 12.6 0a6.3 6.3 0 1 0 -12.6 0M1362.9 251.1a6.3 6.3 0 1 0 12.6 0a6.3 6.3 0 1 0 -12.6 0M1365.4 251.1a6.3 6.3 0 1 0 12.6 0a6.3 6.3 0 1 0 -12.6 0M1367.9 251.1a6.3 6.3 0 1 0 12.6 0a6.3 6.3 0 1 0 -12.6 0M1370.3 251.1a6.3 6.3 0 1 0 12.6 0a6.3 6.3 0 1 0 -12.6 0M1372.8 251.1a6.3 6.3 0 1 0 12.6 0a6.3 6.3 0 1 0 -12.6 0M1375.2 251.1a6.3 6.3 0 1 0 12.6 0a6.3 6.3 0 1 0 -12.6 0M1377.7 251.1a6.3 6.3 0 1 0 12.6 0a6.3 6.3 0 1 0 -12.6 0M1380.2 251.1a6.3 6.3 0 1 0 12.6 0a6.3 6.3 0 1 0 -12.6 0M1382.6 251.1a6.3 6.3 0 1 0 12.6 0a6.3 6.3 0 1 0 -12.6 0M1385.1 251.1a6.3 6.3 0 1 0 12.6 0a6.3 6.3 0 1 0 -12.6 0M1387.6 251.1a6.3 6.3 0 1 0 12.6 0a6.3 6.3 0 1 0 -12.6 0M1390 251.1a6.3 6.3 0 1 0 12.6 0a6.3 6.3 0 1 0 -12.6 0M1392.5 251.1a6.3 6.3 0 1 0 12.6 0a6.3 6.3 0 1 0 -12.6 0M1395 251.1a6.3 6.3 0 1 0 12.6 0a6.3 6.3 0 1 0 -12.6 0M1397.4 251.1a6.3 6.3 0 1 0 12.6 0a6.3 6.3 0 1 0 -12.6 0M1399.9 251.1a6.3 6.3 0 1 0 12.6 0a6.3 6.3 0 1 0 -12.6 0M1402.3 251.1a6.3 6.3 0 1 0 12.6 0a6.3 6.3 0 1 0 -12.6 0M1404.8 251.1a6.3 6.3 0 1 0 12.6 0a6.3 6.3 0 1 0 -12.6 0M1407.3 251.1a6.3 6.3 0 1 0 12.6 0a6.3 6.3 0 1 0 -12.6 0M1409.7 251.1a6.3 6.3 0 1 0 12.6 0a6.3 6.3 0 1 0 -12.6 0M1412.2 251.1a6.3 6.3 0 1 0 12.6 0a6.3 6.3 0 1 0 -12.6 0M1414.7 251.1a6.3 6.3 0 1 0 12.6 0a6.3 6.3 0 1 0 -12.6 0M1417.1 251.1a6.3 6.3 0 1 0 12.6 0a6.3 6.3 0 1 0 -12.6 0M1419.6 251.1a6.3 6.3 0 1 0 12.6 0a6.3 6.3 0 1 0 -12.6 0M1422 251.1a6.3 6.3 0 1 0 12.6 0a6.3 6.3 0 1 0 -12.6 0M1424.5 251.1a6.3 6.3 0 1 0 12.6 0a6.3 6.3 0 1 0 -12.6 0M1427 251.1a6.3 6.3 0 1 0 12.6 0a6.3 6.3 0 1 0 -12.6 0M1429.4 251.1a6.3 6.3 0 1 0 12.6 0a6.3 6.3 0 1 0 -12.6 0M1431.9 251.1a6.3 6.3 0 1 0 12.6 0a6.3 6.3 0 1 0 -12.6 0M940.6 453.4a6.3 6.3 0 1 0 12.6 0a6.3 6.3 0 1 0 -12.6 0M1016.2 453.4a6.3 6.3 0 1 0 12.6 0a6.3 6.3 0 1 0 -12.6 0M1051.7 453.4a6.3 6.3 0 1 0 12.6 0a6.3 6.3 0 1 0 -12.6 0M1054.7 453.4a6.3 6.3 0 1 0 12.6 0a6.3 6.3 0 1 0 -12.6 0M1072.3 453.4a6.3 6.3 0 1 0 12.6 0a6.3 6.3 0 1 0 -12.6 0M1075.7 453.4a6.3 6.3 0 1 0 12.6 0a6.3 6.3 0 1 0 -12.6 0M1079.7 453.4a6.3 6.3 0 1 0 12.6 0a6.3 6.3 0 1 0 -12.6 0M1084.5 453.4a6.3 6.3 0 1 0 12.6 0a6.3 6.3 0 1 0 -12.6 0M1087.7 453.4a6.3 6.3 0 1 0 12.6 0a6.3 6.3 0 1 0 -12.6 0M1091.7 453.4a6.3 6.3 0 1 0 12.6 0a6.3 6.3 0 1 0 -12.6 0M1096.6 453.4a6.3 6.3 0 1 0 12.6 0a6.3 6.3 0 1 0 -12.6 0M916.3 588.2a6.3 6.3 0 1 0 12.6 0a6.3 6.3 0 1 0 -12.6 0M919.2 588.2a6.3 6.3 0 1 0 12.6 0a6.3 6.3 0 1 0 -12.6 0M922.1 588.2a6.3 6.3 0 1 0 12.6 0a6.3 6.3 0 1 0 -12.6 0M925 588.2a6.3 6.3 0 1 0 12.6 0a6.3 6.3 0 1 0 -12.6 0M927.9 588.2a6.3 6.3 0 1 0 12.6 0a6.3 6.3 0 1 0 -12.6 0M930.8 588.2a6.3 6.3 0 1 0 12.6 0a6.3 6.3 0 1 0 -12.6 0M933.7 588.2a6.3 6.3 0 1 0 12.6 0a6.3 6.3 0 1 0 -12.6 0M943.1 588.2a6.3 6.3 0 1 0 12.6 0a6.3 6.3 0 1 0 -12.6 0M945.2 588.2a6.3 6.3 0 1 0 12.6 0a6.3 6.3 0 1 0 -12.6 0M1070.3 588.2a6.3 6.3 0 1 0 12.6 0a6.3 6.3 0 1 0 -12.6 0M1073.7 588.2a6.3 6.3 0 1 0 12.6 0a6.3 6.3 0 1 0 -12.6 0M1078.4 588.2a6.3 6.3 0 1 0 12.6 0a6.3 6.3 0 1 0 -12.6 0M1083.5 588.2a6.3 6.3 0 1 0 12.6 0a6.3 6.3 0 1 0 -12.6 0M1101.2 588.2a6.3 6.3 0 1 0 12.6 0a6.3 6.3 0 1 0 -12.6 0M1104.7 588.2a6.3 6.3 0 1 0 12.6 0a6.3 6.3 0 1 0 -12.6 0M1209.1 588.2a6.3 6.3 0 1 0 12.6 0a6.3 6.3 0 1 0 -12.6 0M1327.4 588.2a6.3 6.3 0 1 0 12.6 0a6.3 6.3 0 1 0 -12.6 0M1345 588.2a6.3 6.3 0 1 0 12.6 0a6.3 6.3 0 1 0 -12.6 0M1348.7 588.2a6.3 6.3 0 1 0 12.6 0a6.3 6.3 0 1 0 -12.6 0M1354.1 588.2a6.3 6.3 0 1 0 12.6 0a6.3 6.3 0 1 0 -12.6 0M931.9 655.6a6.3 6.3 0 1 0 12.6 0a6.3 6.3 0 1 0 -12.6 0M937.2 655.6a6.3 6.3 0 1 0 12.6 0a6.3 6.3 0 1 0 -12.6 0M942.5 655.6a6.3 6.3 0 1 0 12.6 0a6.3 6.3 0 1 0 -12.6 0M947.4 655.6a6.3 6.3 0 1 0 12.6 0a6.3 6.3 0 1 0 -12.6 0M952.3 655.6a6.3 6.3 0 1 0 12.6 0a6.3 6.3 0 1 0 -12.6 0M958.4 655.6a6.3 6.3 0 1 0 12.6 0a6.3 6.3 0 1 0 -12.6 0M964.5 655.6a6.3 6.3 0 1 0 12.6 0a6.3 6.3 0 1 0 -12.6 0M969.7 655.6a6.3 6.3 0 1 0 12.6 0a6.3 6.3 0 1 0 -12.6 0M972.7 655.6a6.3 6.3 0 1 0 12.6 0a6.3 6.3 0 1 0 -12.6 0M975.7 655.6a6.3 6.3 0 1 0 12.6 0a6.3 6.3 0 1 0 -12.6 0M978.7 655.6a6.3 6.3 0 1 0 12.6 0a6.3 6.3 0 1 0 -12.6 0M981.7 655.6a6.3 6.3 0 1 0 12.6 0a6.3 6.3 0 1 0 -12.6 0M984.7 655.6a6.3 6.3 0 1 0 12.6 0a6.3 6.3 0 1 0 -12.6 0M987.7 655.6a6.3 6.3 0 1 0 12.6 0a6.3 6.3 0 1 0 -12.6 0M990.7 655.6a6.3 6.3 0 1 0 12.6 0a6.3 6.3 0 1 0 -12.6 0M993.7 655.6a6.3 6.3 0 1 0 12.6 0a6.3 6.3 0 1 0 -12.6 0M996.7 655.6a6.3 6.3 0 1 0 12.6 0a6.3 6.3 0 1 0 -12.6 0M999.7 655.6a6.3 6.3 0 1 0 12.6 0a6.3 6.3 0 1 0 -12.6 0M1002.7 655.6a6.3 6.3 0 1 0 12.6 0a6.3 6.3 0 1 0 -12.6 0M1016.7 655.6a6.3 6.3 0 1 0 12.6 0a6.3 6.3 0 1 0 -12.6 0M1020 655.6a6.3 6.3 0 1 0 12.6 0a6.3 6.3 0 1 0 -12.6 0M1038.6 655.6a6.3 6.3 0 1 0 12.6 0a6.3 6.3 0 1 0 -12.6 0M1078.5 655.6a6.3 6.3 0 1 0 12.6 0a6.3 6.3 0 1 0 -12.6 0M1101.3 655.6a6.3 6.3 0 1 0 12.6 0a6.3 6.3 0 1 0 -12.6 0M1104.7 655.6a6.3 6.3 0 1 0 12.6 0a6.3 6.3 0 1 0 -12.6 0M1113.5 655.6a6.3 6.3 0 1 0 12.6 0a6.3 6.3 0 1 0 -12.6 0M1116.5 655.6a6.3 6.3 0 1 0 12.6 0a6.3 6.3 0 1 0 -12.6 0M1119.5 655.6a6.3 6.3 0 1 0 12.6 0a6.3 6.3 0 1 0 -12.6 0M1122.5 655.6a6.3 6.3 0 1 0 12.6 0a6.3 6.3 0 1 0 -12.6 0M1125.6 655.6a6.3 6.3 0 1 0 12.6 0a6.3 6.3 0 1 0 -12.6 0M1128.6 655.6a6.3 6.3 0 1 0 12.6 0a6.3 6.3 0 1 0 -12.6 0M1131.6 655.6a6.3 6.3 0 1 0 12.6 0a6.3 6.3 0 1 0 -12.6 0M1134.6 655.6a6.3 6.3 0 1 0 12.6 0a6.3 6.3 0 1 0 -12.6 0M1137.6 655.6a6.3 6.3 0 1 0 12.6 0a6.3 6.3 0 1 0 -12.6 0M1140.6 655.6a6.3 6.3 0 1 0 12.6 0a6.3 6.3 0 1 0 -12.6 0M1143.6 655.6a6.3 6.3 0 1 0 12.6 0a6.3 6.3 0 1 0 -12.6 0M1146.6 655.6a6.3 6.3 0 1 0 12.6 0a6.3 6.3 0 1 0 -12.6 0M1149.7 655.6a6.3 6.3 0 1 0 12.6 0a6.3 6.3 0 1 0 -12.6 0M1152.7 655.6a6.3 6.3 0 1 0 12.6 0a6.3 6.3 0 1 0 -12.6 0M1155.7 655.6a6.3 6.3 0 1 0 12.6 0a6.3 6.3 0 1 0 -12.6 0M1158.7 655.6a6.3 6.3 0 1 0 12.6 0a6.3 6.3 0 1 0 -12.6 0M1167 655.6a6.3 6.3 0 1 0 12.6 0a6.3 6.3 0 1 0 -12.6 0M1175.2 655.6a6.3 6.3 0 1 0 12.6 0a6.3 6.3 0 1 0 -12.6 0M1178.3 655.6a6.3 6.3 0 1 0 12.6 0a6.3 6.3 0 1 0 -12.6 0M1181.5 655.6a6.3 6.3 0 1 0 12.6 0a6.3 6.3 0 1 0 -12.6 0M1184.6 655.6a6.3 6.3 0 1 0 12.6 0a6.3 6.3 0 1 0 -12.6 0M1187.7 655.6a6.3 6.3 0 1 0 12.6 0a6.3 6.3 0 1 0 -12.6 0M1190.8 655.6a6.3 6.3 0 1 0 12.6 0a6.3 6.3 0 1 0 -12.6 0M1194 655.6a6.3 6.3 0 1 0 12.6 0a6.3 6.3 0 1 0 -12.6 0M1197.1 655.6a6.3 6.3 0 1 0 12.6 0a6.3 6.3 0 1 0 -12.6 0M1200.2 655.6a6.3 6.3 0 1 0 12.6 0a6.3 6.3 0 1 0 -12.6 0M1203.3 655.6a6.3 6.3 0 1 0 12.6 0a6.3 6.3 0 1 0 -12.6 0M1206.5 655.6a6.3 6.3 0 1 0 12.6 0a6.3 6.3 0 1 0 -12.6 0M1209.6 655.6a6.3 6.3 0 1 0 12.6 0a6.3 6.3 0 1 0 -12.6 0M1212.7 655.6a6.3 6.3 0 1 0 12.6 0a6.3 6.3 0 1 0 -12.6 0M1215.7 655.6a6.3 6.3 0 1 0 12.6 0a6.3 6.3 0 1 0 -12.6 0M1225.7 655.6a6.3 6.3 0 1 0 12.6 0a6.3 6.3 0 1 0 -12.6 0M1233.9 655.6a6.3 6.3 0 1 0 12.6 0a6.3 6.3 0 1 0 -12.6 0M1242.1 655.6a6.3 6.3 0 1 0 12.6 0a6.3 6.3 0 1 0 -12.6 0M1245.1 655.6a6.3 6.3 0 1 0 12.6 0a6.3 6.3 0 1 0 -12.6 0M1248 655.6a6.3 6.3 0 1 0 12.6 0a6.3 6.3 0 1 0 -12.6 0M1251 655.6a6.3 6.3 0 1 0 12.6 0a6.3 6.3 0 1 0 -12.6 0M1253.9 655.6a6.3 6.3 0 1 0 12.6 0a6.3 6.3 0 1 0 -12.6 0M1256.9 655.6a6.3 6.3 0 1 0 12.6 0a6.3 6.3 0 1 0 -12.6 0M1259.9 655.6a6.3 6.3 0 1 0 12.6 0a6.3 6.3 0 1 0 -12.6 0M1262.8 655.6a6.3 6.3 0 1 0 12.6 0a6.3 6.3 0 1 0 -12.6 0M1265.8 655.6a6.3 6.3 0 1 0 12.6 0a6.3 6.3 0 1 0 -12.6 0M1268.7 655.6a6.3 6.3 0 1 0 12.6 0a6.3 6.3 0 1 0 -12.6 0M1271.7 655.6a6.3 6.3 0 1 0 12.6 0a6.3 6.3 0 1 0 -12.6 0M1274.6 655.6a6.3 6.3 0 1 0 12.6 0a6.3 6.3 0 1 0 -12.6 0M1277.6 655.6a6.3 6.3 0 1 0 12.6 0a6.3 6.3 0 1 0 -12.6 0M1280.6 655.6a6.3 6.3 0 1 0 12.6 0a6.3 6.3 0 1 0 -12.6 0M1283.5 655.6a6.3 6.3 0 1 0 12.6 0a6.3 6.3 0 1 0 -12.6 0M1286.5 655.6a6.3 6.3 0 1 0 12.6 0a6.3 6.3 0 1 0 -12.6 0M1289.4 655.6a6.3 6.3 0 1 0 12.6 0a6.3 6.3 0 1 0 -12.6 0M1292.4 655.6a6.3 6.3 0 1 0 12.6 0a6.3 6.3 0 1 0 -12.6 0M1295.4 655.6a6.3 6.3 0 1 0 12.6 0a6.3 6.3 0 1 0 -12.6 0M1298.3 655.6a6.3 6.3 0 1 0 12.6 0a6.3 6.3 0 1 0 -12.6 0M1301.3 655.6a6.3 6.3 0 1 0 12.6 0a6.3 6.3 0 1 0 -12.6 0M1304.2 655.6a6.3 6.3 0 1 0 12.6 0a6.3 6.3 0 1 0 -12.6 0M1307.2 655.6a6.3 6.3 0 1 0 12.6 0a6.3 6.3 0 1 0 -12.6 0M1310.1 655.6a6.3 6.3 0 1 0 12.6 0a6.3 6.3 0 1 0 -12.6 0M1313.1 655.6a6.3 6.3 0 1 0 12.6 0a6.3 6.3 0 1 0 -12.6 0M1316.1 655.6a6.3 6.3 0 1 0 12.6 0a6.3 6.3 0 1 0 -12.6 0M1319 655.6a6.3 6.3 0 1 0 12.6 0a6.3 6.3 0 1 0 -12.6 0M1322 655.6a6.3 6.3 0 1 0 12.6 0a6.3 6.3 0 1 0 -12.6 0M1324.9 655.6a6.3 6.3 0 1 0 12.6 0a6.3 6.3 0 1 0 -12.6 0M1327.9 655.6a6.3 6.3 0 1 0 12.6 0a6.3 6.3 0 1 0 -12.6 0"/>
<path fill="none" stroke="#EDB120" stroke-width="4.0" d="M920.7 35.3a6.3 6.3 0 1 0 12.6 0a6.3 6.3 0 1 0 -12.6 0M923.7 35.3a6.3 6.3 0 1 0 12.6 0a6.3 6.3 0 1 0 -12.6 0M925.7 35.3a6.3 6.3 0 1 0 12.6 0a6.3 6.3 0 1 0 -12.6 0M1332.7 35.3a6.3 6.3 0 1 0 12.6 0a6.3 6.3 0 1 0 -12.6 0M1337.7 35.3a6.3 6.3 0 1 0 12.6 0a6.3 6.3 0 1 0 -12.6 0M1342.7 35.3a6.3 6.3 0 1 0 12.6 0a6.3 6.3 0 1 0 -12.6 0M914.7 102.7a6.3 6.3 0 1 0 12.6 0a6.3 6.3 0 1 0 -12.6 0M917.7 102.7a6.3 6.3 0 1 0 12.6 0a6.3 6.3 0 1 0 -12.6 0M921.7 102.7a6.3 6.3 0 1 0 12.6 0a6.3 6.3 0 1 0 -12.6 0M927.7 102.7a6.3 6.3 0 1 0 12.6 0a6.3 6.3 0 1 0 -12.6 0M931.7 102.7a6.3 6.3 0 1 0 12.6 0a6.3 6.3 0 1 0 -12.6 0M940.1 102.7a6.3 6.3 0 1 0 12.6 0a6.3 6.3 0 1 0 -12.6 0M942.2 102.7a6.3 6.3 0 1 0 12.6 0a6.3 6.3 0 1 0 -12.6 0M977.9 102.7a6.3 6.3 0 1 0 12.6 0a6.3 6.3 0 1 0 -12.6 0M998.7 102.7a6.3 6.3 0 1 0 12.6 0a6.3 6.3 0 1 0 -12.6 0M1025.3 102.7a6.3 6.3 0 1 0 12.6 0a6.3 6.3 0 1 0 -12.6 0M1041.7 102.7a6.3 6.3 0 1 0 12.6 0a6.3 6.3 0 1 0 -12.6 0M1044.7 102.7a6.3 6.3 0 1 0 12.6 0a6.3 6.3 0 1 0 -12.6 0M1054.1 102.7a6.3 6.3 0 1 0 12.6 0a6.3 6.3 0 1 0 -12.6 0M1075.1 102.7a6.3 6.3 0 1 0 12.6 0a6.3 6.3 0 1 0 -12.6 0M1076.7 102.7a6.3 6.3 0 1 0 12.6 0a6.3 6.3 0 1 0 -12.6 0M1083.7 102.7a6.3 6.3 0 1 0 12.6 0a6.3 6.3 0 1 0 -12.6 0M1088.3 102.7a6.3 6.3 0 1 0 12.6 0a6.3 6.3 0 1 0 -12.6 0M1090.7 102.7a6.3 6.3 0 1 0 12.6 0a6.3 6.3 0 1 0 -12.6 0M1093.5 102.7a6.3 6.3 0 1 0 12.6 0a6.3 6.3 0 1 0 -12.6 0M1096.3 102.7a6.3 6.3 0 1 0 12.6 0a6.3 6.3 0 1 0 -12.6 0M1099.1 102.7a6.3 6.3 0 1 0 12.6 0a6.3 6.3 0 1 0 -12.6 0M1101.9 102.7a6.3 6.3 0 1 0 12.6 0a6.3 6.3 0 1 0 -12.6 0M1104.7 102.7a6.3 6.3 0 1 0 12.6 0a6.3 6.3 0 1 0 -12.6 0M1121.4 102.7a6.3 6.3 0 1 0 12.6 0a6.3 6.3 0 1 0 -12.6 0M1151.7 102.7a6.3 6.3 0 1 0 12.6 0a6.3 6.3 0 1 0 -12.6 0M1155.2 102.7a6.3 6.3 0 1 0 12.6 0a6.3 6.3 0 1 0 -12.6 0M1186.7 102.7a6.3 6.3 0 1 0 12.6 0a6.3 6.3 0 1 0 -12.6 0M1190.7 102.7a6.3 6.3 0 1 0 12.6 0a6.3 6.3 0 1 0 -12.6 0M1194.7 102.7a6.3 6.3 0 1 0 12.6 0a6.3 6.3 0 1 0 -12.6 0M1200.7 102.7a6.3 6.3 0 1 0 12.6 0a6.3 6.3 0 1 0 -12.6 0M1208.7 102.7a6.3 6.3 0 1 0 12.6 0a6.3 6.3 0 1 0 -12.6 0M1216.7 102.7a6.3 6.3 0 1 0 12.6 0a6.3 6.3 0 1 0 -12.6 0M1222.7 102.7a6.3 6.3 0 1 0 12.6 0a6.3 6.3 0 1 0 -12.6 0M1229.7 102.7a6.3 6.3 0 1 0 12.6 0a6.3 6.3 0 1 0 -12.6 0M1233.7 102.7a6.3 6.3 0 1 0 12.6 0a6.3 6.3 0 1 0 -12.6 0M1237.7 102.7a6.3 6.3 0 1 0 12.6 0a6.3 6.3 0 1 0 -12.6 0M1243.7 102.7a6.3 6.3 0 1 0 12.6 0a6.3 6.3 0 1 0 -12.6 0M1250.7 102.7a6.3 6.3 0 1 0 12.6 0a6.3 6.3 0 1 0 -12.6 0M1257.7 102.7a6.3 6.3 0 1 0 12.6 0a6.3 6.3 0 1 0 -12.6 0M1283.7 102.7a6.3 6.3 0 1 0 12.6 0a6.3 6.3 0 1 0 -12.6 0M1287.7 102.7a6.3 6.3 0 1 0 12.6 0a6.3 6.3 0 1 0 -12.6 0M1290.7 102.7a6.3 6.3 0 1 0 12.6 0a6.3 6.3 0 1 0 -12.6 0M1294.5 102.7a6.3 6.3 0 1 0 12.6 0a6.3 6.3 0 1 0 -12.6 0M1312.2 102.7a6.3 6.3 0 1 0 12.6 0a6.3 6.3 0 1 0 -12.6 0M1314.7 102.7a6.3 6.3 0 1 0 12.6 0a6.3 6.3 0 1 0 -12.6 0M1345.7 102.7a6.3 6.3 0 1 0 12.6 0a6.3 6.3 0 1 0 -12.6 0M1353.7 102.7a6.3 6.3 0 1 0 12.6 0a6.3 6.3 0 1 0 -12.6 0M1361.1 102.7a6.3 6.3 0 1 0 12.6 0a6.3 6.3 0 1 0 -12.6 0M1367.7 102.7a6.3 6.3 0 1 0 12.6 0a6.3 6.3 0 1 0 -12.6 0M1372.7 102.7a6.3 6.3 0 1 0 12.6 0a6.3 6.3 0 1 0 -12.6 0M1378.2 102.7a6.3 6.3 0 1 0 12.6 0a6.3 6.3 0 1 0 -12.6 0M1383.7 102.7a6.3 6.3 0 1 0 12.6 0a6.3 6.3 0 1 0 -12.6 0M1389.7 102.7a6.3 6.3 0 1 0 12.6 0a6.3 6.3 0 1 0 -12.6 0M1395.7 102.7a6.3 6.3 0 1 0 12.6 0a6.3 6.3 0 1 0 -12.6 0M1401.7 102.7a6.3 6.3 0 1 0 12.6 0a6.3 6.3 0 1 0 -12.6 0M914.7 170.1a6.3 6.3 0 1 0 12.6 0a6.3 6.3 0 1 0 -12.6 0M918.9 170.1a6.3 6.3 0 1 0 12.6 0a6.3 6.3 0 1 0 -12.6 0M923.1 170.1a6.3 6.3 0 1 0 12.6 0a6.3 6.3 0 1 0 -12.6 0M927.3 170.1a6.3 6.3 0 1 0 12.6 0a6.3 6.3 0 1 0 -12.6 0M931.5 170.1a6.3 6.3 0 1 0 12.6 0a6.3 6.3 0 1 0 -12.6 0M935.7 170.1a6.3 6.3 0 1 0 12.6 0a6.3 6.3 0 1 0 -12.6 0M940 170.1a6.3 6.3 0 1 0 12.6 0a6.3 6.3 0 1 0 -12.6 0M944.2 170.1a6.3 6.3 0 1 0 12.6 0a6.3 6.3 0 1 0 -12.6 0M948.4 170.1a6.3 6.3 0 1 0 12.6 0a6.3 6.3 0 1 0 -12.6 0M952.6 170.1a6.3 6.3 0 1 0 12.6 0a6.3 6.3 0 1 0 -12.6 0M956.8 170.1a6.3 6.3 0 1 0 12.6 0a6.3 6.3 0 1 0 -12.6 0M961 170.1a6.3 6.3 0 1 0 12.6 0a6.3 6.3 0 1 0 -12.6 0M965.2 170.1a6.3 6.3 0 1 0 12.6 0a6.3 6.3 0 1 0 -12.6 0M969.4 170.1a6.3 6.3 0 1 0 12.6 0a6.3 6.3 0 1 0 -12.6 0M973.6 170.1a6.3 6.3 0 1 0 12.6 0a6.3 6.3 0 1 0 -12.6 0M977.8 170.1a6.3 6.3 0 1 0 12.6 0a6.3 6.3 0 1 0 -12.6 0M982 170.1a6.3 6.3 0 1 0 12.6 0a6.3 6.3 0 1 0 -12.6 0M986.2 170.1a6.3 6.3 0 1 0 12.6 0a6.3 6.3 0 1 0 -12.6 0M990.5 170.1a6.3 6.3 0 1 0 12.6 0a6.3 6.3 0 1 0 -12.6 0M994.7 170.1a6.3 6.3 0 1 0 12.6 0a6.3 6.3 0 1 0 -12.6 0M998.9 170.1a6.3 6.3 0 1 0 12.6 0a6.3 6.3 0 1 0 -12.6 0M1003.1 170.1a6.3 6.3 0 1 0 12.6 0a6.3 6.3 0 1 0 -12.6 0M1007.3 170.1a6.3 6.3 0 1 0 12.6 0a6.3 6.3 0 1 0 -12.6 0M1011.5 170.1a6.3 6.3 0 1 0 12.6 0a6.3 6.3 0 1 0 -12.6 0M1015.7 170.1a6.3 6.3 0 1 0 12.6 0a6.3 6.3 0 1 0 -12.6 0M1030.5 170.1a6.3 6.3 0 1 0 12.6 0a6.3 6.3 0 1 0 -12.6 0M1045 170.1a6.3 6.3 0 1 0 12.6 0a6.3 6.3 0 1 0 -12.6 0M1048 170.1a6.3 6.3 0 1 0 12.6 0a6.3 6.3 0 1 0 -12.6 0M1051.1 170.1a6.3 6.3 0 1 0 12.6 0a6.3 6.3 0 1 0 -12.6 0M1054.2 170.1a6.3 6.3 0 1 0 12.6 0a6.3 6.3 0 1 0 -12.6 0M1057.2 170.1a6.3 6.3 0 1 0 12.6 0a6.3 6.3 0 1 0 -12.6 0M1060.2 170.1a6.3 6.3 0 1 0 12.6 0a6.3 6.3 0 1 0 -12.6 0M1063.3 170.1a6.3 6.3 0 1 0 12.6 0a6.3 6.3 0 1 0 -12.6 0M1066.4 170.1a6.3 6.3 0 1 0 12.6 0a6.3 6.3 0 1 0 -12.6 0M1069.4 170.1a6.3 6.3 0 1 0 12.6 0a6.3 6.3 0 1 0 -12.6 0M1072.5 170.1a6.3 6.3 0 1 0 12.6 0a6.3 6.3 0 1 0 -12.6 0M1075.5 170.1a6.3 6.3 0 1 0 12.6 0a6.3 6.3 0 1 0 -12.6 0M1078.5 170.1a6.3 6.3 0 1 0 12.6 0a6.3 6.3 0 1 0 -12.6 0M1081.6 170.1a6.3 6.3 0 1 0 12.6 0a6.3 6.3 0 1 0 -12.6 0M1084.7 170.1a6.3 6.3 0 1 0 12.6 0a6.3 6.3 0 1 0 -12.6 0M1087.7 170.1a6.3 6.3 0 1 0 12.6 0a6.3 6.3 0 1 0 -12.6 0M1094.7 170.1a6.3 6.3 0 1 0 12.6 0a6.3 6.3 0 1 0 -12.6 0M1107.8 170.1a6.3 6.3 0 1 0 12.6 0a6.3 6.3 0 1 0 -12.6 0M1120.1 170.1a6.3 6.3 0 1 0 12.6 0a6.3 6.3 0 1 0 -12.6 0M1135.5 170.1a6.3 6.3 0 1 0 12.6 0a6.3 6.3 0 1 0 -12.6 0M1151.7 170.1a6.3 6.3 0 1 0 12.6 0a6.3 6.3 0 1 0 -12.6 0M1155 170.1a6.3 6.3 0 1 0 12.6 0a6.3 6.3 0 1 0 -12.6 0M1158.4 170.1a6.3 6.3 0 1 0 12.6 0a6.3 6.3 0 1 0 -12.6 0M1161.7 170.1a6.3 6.3 0 1 0 12.6 0a6.3 6.3 0 1 0 -12.6 0M1165 170.1a6.3 6.3 0 1 0 12.6 0a6.3 6.3 0 1 0 -12.6 0M1182.8 170.1a6.3 6.3 0 1 0 12.6 0a6.3 6.3 0 1 0 -12.6 0M1197.3 170.1a6.3 6.3 0 1 0 12.6 0a6.3 6.3 0 1 0 -12.6 0M1200.4 170.1a6.3 6.3 0 1 0 12.6 0a6.3 6.3 0 1 0 -12.6 0M1203.4 170.1a6.3 6.3 0 1 0 12.6 0a6.3 6.3 0 1 0 -12.6 0M1206.5 170.1a6.3 6.3 0 1 0 12.6 0a6.3 6.3 0 1 0 -12.6 0M1209.5 170.1a6.3 6.3 0 1 0 12.6 0a6.3 6.3 0 1 0 -12.6 0M1212.6 170.1a6.3 6.3 0 1 0 12.6 0a6.3 6.3 0 1 0 -12.6 0M1215.6 170.1a6.3 6.3 0 1 0 12.6 0a6.3 6.3 0 1 0 -12.6 0M1218.7 170.1a6.3 6.3 0 1 0 12.6 0a6.3 6.3 0 1 0 -12.6 0M1236.4 170.1a6.3 6.3 0 1 0 12.6 0a6.3 6.3 0 1 0 -12.6 0M1239.4 170.1a6.3 6.3 0 1 0 12.6 0a6.3 6.3 0 1 0 -12.6 0M1242.4 170.1a6.3 6.3 0 1 0 12.6 0a6.3 6.3 0 1 0 -12.6 0M1245.4 170.1a6.3 6.3 0 1 0 12.6 0a6.3 6.3 0 1 0 -12.6 0M1248.5 170.1a6.3 6.3 0 1 0 12.6 0a6.3 6.3 0 1 0 -12.6 0M1251.5 170.1a6.3 6.3 0 1 0 12.6 0a6.3 6.3 0 1 0 -12.6 0M1254.5 170.1a6.3 6.3 0 1 0 12.6 0a6.3 6.3 0 1 0 -12.6 0M1257.5 170.1a6.3 6.3 0 1 0 12.6 0a6.3 6.3 0 1 0 -12.6 0M1260.5 170.1a6.3 6.3 0 1 0 12.6 0a6.3 6.3 0 1 0 -12.6 0M1263.5 170.1a6.3 6.3 0 1 0 12.6 0a6.3 6.3 0 1 0 -12.6 0M1266.6 170.1a6.3 6.3 0 1 0 12.6 0a6.3 6.3 0 1 0 -12.6 0M1269.6 170.1a6.3 6.3 0 1 0 12.6 0a6.3 6.3 0 1 0 -12.6 0M1272.6 170.1a6.3 6.3 0 1 0 12.6 0a6.3 6.3 0 1 0 -12.6 0M1275.6 170.1a6.3 6.3 0 1 0 12.6 0a6.3 6.3 0 1 0 -12.6 0M1278.6 170.1a6.3 6.3 0 1 0 12.6 0a6.3 6.3 0 1 0 -12.6 0M1281.6 170.1a6.3 6.3 0 1 0 12.6 0a6.3 6.3 0 1 0 -12.6 0M1284.7 170.1a6.3 6.3 0 1 0 12.6 0a6.3 6.3 0 1 0 -12.6 0M1287.7 170.1a6.3 6.3 0 1 0 12.6 0a6.3 6.3 0 1 0 -12.6 0M1290.7 170.1a6.3 6.3 0 1 0 12.6 0a6.3 6.3 0 1 0 -12.6 0M1293.7 170.1a6.3 6.3 0 1 0 12.6 0a6.3 6.3 0 1 0 -12.6 0M1296.7 170.1a6.3 6.3 0 1 0 12.6 0a6.3 6.3 0 1 0 -12.6 0M1299.7 170.1a6.3 6.3 0 1 0 12.6 0a6.3 6.3 0 1 0 -12.6 0M1302.7 170.1a6.3 6.3 0 1 0 12.6 0a6.3 6.3 0 1 0 -12.6 0M1305.8 170.1a6.3 6.3 0 1 0 12.6 0a6.3 6.3 0 1 0 -12.6 0M1308.8 170.1a6.3 6.3 0 1 0 12.6 0a6.3 6.3 0 1 0 -12.6 0M1311.8 170.1a6.3 6.3 0 1 0 12.6 0a6.3 6.3 0 1 0 -12.6 0M1314.8 170.1a6.3 6.3 0 1 0 12.6 0a6.3 6.3 0 1 0 -12.6 0M1317.8 170.1a6.3 6.3 0 1 0 12.6 0a6.3 6.3 0 1 0 -12.6 0M1320.8 170.1a6.3 6.3 0 1 0 12.6 0a6.3 6.3 0 1 0 -12.6 0M1323.9 170.1a6.3 6.3 0 1 0 12.6 0a6.3 6.3 0 1 0 -12.6 0M1326.9 170.1a6.3 6.3 0 1 0 12.6 0a6.3 6.3 0 1 0 -12.6 0M1329.9 170.1a6.3 6.3 0 1 0 12.6 0a6.3 6.3 0 1 0 -12.6 0M1332.9 170.1a6.3 6.3 0 1 0 12.6 0a6.3 6.3 0 1 0 -12.6 0M1335.9 170.1a6.3 6.3 0 1 0 12.6 0a6.3 6.3 0 1 0 -12.6 0M1338.9 170.1a6.3 6.3 0 1 0 12.6 0a6.3 6.3 0 1 0 -12.6 0M1342 170.1a6.3 6.3 0 1 0 12.6 0a6.3 6.3 0 1 0 -12.6 0M1345 170.1a6.3 6.3 0 1 0 12.6 0a6.3 6.3 0 1 0 -12.6 0M1348 170.1a6.3 6.3 0 1 0 12.6 0a6.3 6.3 0 1 0 -12.6 0M1351 170.1a6.3 6.3 0 1 0 12.6 0a6.3 6.3 0 1 0 -12.6 0M1354 170.1a6.3 6.3 0 1 0 12.6 0a6.3 6.3 0 1 0 -12.6 0M1357 170.1a6.3 6.3 0 1 0 12.6 0a6.3 6.3 0 1 0 -12.6 0M1360 170.1a6.3 6.3 0 1 0 12.6 0a6.3 6.3 0 1 0 -12.6 0M1363.1 170.1a6.3 6.3 0 1 0 12.6 0a6.3 6.3 0 1 0 -12.6 0M1366.1 170.1a6.3 6.3 0 1 0 12.6 0a6.3 6.3 0 1 0 -12.6 0M1369.1 170.1a6.3 6.3 0 1 0 12.6 0a6.3 6.3 0 1 0 -12.6 0M1372.1 170.1a6.3 6.3 0 1 0 12.6 0a6.3 6.3 0 1 0 -12.6 0M1375.1 170.1a6.3 6.3 0 1 0 12.6 0a6.3 6.3 0 1 0 -12.6 0M1378.1 170.1a6.3 6.3 0 1 0 12.6 0a6.3 6.3 0 1 0 -12.6 0M1381.2 170.1a6.3 6.3 0 1 0 12.6 0a6.3 6.3 0 1 0 -12.6 0M1384.2 170.1a6.3 6.3 0 1 0 12.6 0a6.3 6.3 0 1 0 -12.6 0M1387.2 170.1a6.3 6.3 0 1 0 12.6 0a6.3 6.3 0 1 0 -12.6 0M1390.2 170.1a6.3 6.3 0 1 0 12.6 0a6.3 6.3 0 1 0 -12.6 0M1393.2 170.1a6.3 6.3 0 1 0 12.6 0a6.3 6.3 0 1 0 -12.6 0M1396.2 170.1a6.3 6.3 0 1 0 12.6 0a6.3 6.3 0 1 0 -12.6 0M1399.3 170.1a6.3 6.3 0 1 0 12.6 0a6.3 6.3 0 1 0 -12.6 0M1402.3 170.1a6.3 6.3 0 1 0 12.6 0a6.3 6.3 0 1 0 -12.6 0M1405.3 170.1a6.3 6.3 0 1 0 12.6 0a6.3 6.3 0 1 0 -12.6 0M1408.3 170.1a6.3 6.3 0 1 0 12.6 0a6.3 6.3 0 1 0 -12.6 0M1431 170.1a6.3 6.3 0 1 0 12.6 0a6.3 6.3 0 1 0 -12.6 0M931.9 237.5a6.3 6.3 0 1 0 12.6 0a6.3 6.3 0 1 0 -12.6 0M934.9 237.5a6.3 6.3 0 1 0 12.6 0a6.3 6.3 0 1 0 -12.6 0M938 237.5a6.3 6.3 0 1 0 12.6 0a6.3 6.3 0 1 0 -12.6 0M941 237.5a6.3 6.3 0 1 0 12.6 0a6.3 6.3 0 1 0 -12.6 0M944 237.5a6.3 6.3 0 1 0 12.6 0a6.3 6.3 0 1 0 -12.6 0M947.1 237.5a6.3 6.3 0 1 0 12.6 0a6.3 6.3 0 1 0 -12.6 0M950.1 237.5a6.3 6.3 0 1 0 12.6 0a6.3 6.3 0 1 0 -12.6 0M953.1 237.5a6.3 6.3 0 1 0 12.6 0a6.3 6.3 0 1 0 -12.6 0M956.2 237.5a6.3 6.3 0 1 0 12.6 0a6.3 6.3 0 1 0 -12.6 0M959.2 237.5a6.3 6.3 0 1 0 12.6 0a6.3 6.3 0 1 0 -12.6 0M962.2 237.5a6.3 6.3 0 1 0 12.6 0a6.3 6.3 0 1 0 -12.6 0M965.3 237.5a6.3 6.3 0 1 0 12.6 0a6.3 6.3 0 1 0 -12.6 0M968.3 237.5a6.3 6.3 0 1 0 12.6 0a6.3 6.3 0 1 0 -12.6 0M971.3 237.5a6.3 6.3 0 1 0 12.6 0a6.3 6.3 0 1 0 -12.6 0M974.4 237.5a6.3 6.3 0 1 0 12.6 0a6.3 6.3 0 1 0 -12.6 0M977.4 237.5a6.3 6.3 0 1 0 12.6 0a6.3 6.3 0 1 0 -12.6 0M980.4 237.5a6.3 6.3 0 1 0 12.6 0a6.3 6.3 0 1 0 -12.6 0M983.5 237.5a6.3 6.3 0 1 0 12.6 0a6.3 6.3 0 1 0 -12.6 0M986.5 237.5a6.3 6.3 0 1 0 12.6 0a6.3 6.3 0 1 0 -12.6 0M989.6 237.5a6.3 6.3 0 1 0 12.6 0a6.3 6.3 0 1 0 -12.6 0M992.6 237.5a6.3 6.3 0 1 0 12.6 0a6.3 6.3 0 1 0 -12.6 0M995.6 237.5a6.3 6.3 0 1 0 12.6 0a6.3 6.3 0 1 0 -12.6 0M998.7 237.5a6.3 6.3 0 1 0 12.6 0a6.3 6.3 0 1 0 -12.6 0M1001.7 237.5a6.3 6.3 0 1 0 12.6 0a6.3 6.3 0 1 0 -12.6 0M1004.7 237.5a6.3 6.3 0 1 0 12.6 0a6.3 6.3 0 1 0 -12.6 0M1007.8 237.5a6.3 6.3 0 1 0 12.6 0a6.3 6.3 0 1 0 -12.6 0M1010.8 237.5a6.3 6.3 0 1 0 12.6 0a6.3 6.3 0 1 0 -12.6 0M1013.8 237.5a6.3 6.3 0 1 0 12.6 0a6.3 6.3 0 1 0 -12.6 0M1016.9 237.5a6.3 6.3 0 1 0 12.6 0a6.3 6.3 0 1 0 -12.6 0M1019.9 237.5a6.3 6.3 0 1 0 12.6 0a6.3 6.3 0 1 0 -12.6 0M1022.9 237.5a6.3 6.3 0 1 0 12.6 0a6.3 6.3 0 1 0 -12.6 0M1026 237.5a6.3 6.3 0 1 0 12.6 0a6.3 6.3 0 1 0 -12.6 0M1029 237.5a6.3 6.3 0 1 0 12.6 0a6.3 6.3 0 1 0 -12.6 0M1032 237.5a6.3 6.3 0 1 0 12.6 0a6.3 6.3 0 1 0 -12.6 0M1035.1 237.5a6.3 6.3 0 1 0 12.6 0a6.3 6.3 0 1 0 -12.6 0M1038.1 237.5a6.3 6.3 0 1 0 12.6 0a6.3 6.3 0 1 0 -12.6 0M1093.5 237.5a6.3 6.3 0 1 0 12.6 0a6.3 6.3 0 1 0 -12.6 0M1096.5 237.5a6.3 6.3 0 1 0 12.6 0a6.3 6.3 0 1 0 -12.6 0M1099.5 237.5a6.3 6.3 0 1 0 12.6 0a6.3 6.3 0 1 0 -12.6 0M1102.5 237.5a6.3 6.3 0 1 0 12.6 0a6.3 6.3 0 1 0 -12.6 0M1105.5 237.5a6.3 6.3 0 1 0 12.6 0a6.3 6.3 0 1 0 -12.6 0M1108.6 237.5a6.3 6.3 0 1 0 12.6 0a6.3 6.3 0 1 0 -12.6 0M1111.6 237.5a6.3 6.3 0 1 0 12.6 0a6.3 6.3 0 1 0 -12.6 0M1114.6 237.5a6.3 6.3 0 1 0 12.6 0a6.3 6.3 0 1 0 -12.6 0M1117.6 237.5a6.3 6.3 0 1 0 12.6 0a6.3 6.3 0 1 0 -12.6 0M1120.6 237.5a6.3 6.3 0 1 0 12.6 0a6.3 6.3 0 1 0 -12.6 0M1123.6 237.5a6.3 6.3 0 1 0 12.6 0a6.3 6.3 0 1 0 -12.6 0M1126.6 237.5a6.3 6.3 0 1 0 12.6 0a6.3 6.3 0 1 0 -12.6 0M1129.6 237.5a6.3 6.3 0 1 0 12.6 0a6.3 6.3 0 1 0 -12.6 0M1132.6 237.5a6.3 6.3 0 1 0 12.6 0a6.3 6.3 0 1 0 -12.6 0M1135.6 237.5a6.3 6.3 0 1 0 12.6 0a6.3 6.3 0 1 0 -12.6 0M1138.7 237.5a6.3 6.3 0 1 0 12.6 0a6.3 6.3 0 1 0 -12.6 0M1141.7 237.5a6.3 6.3 0 1 0 12.6 0a6.3 6.3 0 1 0 -12.6 0M1144.7 237.5a6.3 6.3 0 1 0 12.6 0a6.3 6.3 0 1 0 -12.6 0M1147.7 237.5a6.3 6.3 0 1 0 12.6 0a6.3 6.3 0 1 0 -12.6 0M1150.7 237.5a6.3 6.3 0 1 0 12.6 0a6.3 6.3 0 1 0 -12.6 0M1153.7 237.5a6.3 6.3 0 1 0 12.6 0a6.3 6.3 0 1 0 -12.6 0M1156.7 237.5a6.3 6.3 0 1 0 12.6 0a6.3 6.3 0 1 0 -12.6 0M1159.7 237.5a6.3 6.3 0 1 0 12.6 0a6.3 6.3 0 1 0 -12.6 0M1162.7 237.5a6.3 6.3 0 1 0 12.6 0a6.3 6.3 0 1 0 -12.6 0M1165.8 237.5a6.3 6.3 0 1 0 12.6 0a6.3 6.3 0 1 0 -12.6 0M1168.8 237.5a6.3 6.3 0 1 0 12.6 0a6.3 6.3 0 1 0 -12.6 0M1171.8 237.5a6.3 6.3 0 1 0 12.6 0a6.3 6.3 0 1 0 -12.6 0M1174.8 237.5a6.3 6.3 0 1 0 12.6 0a6.3 6.3 0 1 0 -12.6 0M1177.8 237.5a6.3 6.3 0 1 0 12.6 0a6.3 6.3 0 1 0 -12.6 0M1180.8 237.5a6.3 6.3 0 1 0 12.6 0a6.3 6.3 0 1 0 -12.6 0M1183.8 237.5a6.3 6.3 0 1 0 12.6 0a6.3 6.3 0 1 0 -12.6 0M1186.8 237.5a6.3 6.3 0 1 0 12.6 0a6.3 6.3 0 1 0 -12.6 0M1189.8 237.5a6.3 6.3 0 1 0 12.6 0a6.3 6.3 0 1 0 -12.6 0M1192.9 237.5a6.3 6.3 0 1 0 12.6 0a6.3 6.3 0 1 0 -12.6 0M1195.9 237.5a6.3 6.3 0 1 0 12.6 0a6.3 6.3 0 1 0 -12.6 0M1198.9 237.5a6.3 6.3 0 1 0 12.6 0a6.3 6.3 0 1 0 -12.6 0M1201.9 237.5a6.3 6.3 0 1 0 12.6 0a6.3 6.3 0 1 0 -12.6 0M1204.9 237.5a6.3 6.3 0 1 0 12.6 0a6.3 6.3 0 1 0 -12.6 0M1207.9 237.5a6.3 6.3 0 1 0 12.6 0a6.3 6.3 0 1 0 -12.6 0M1210.9 237.5a6.3 6.3 0 1 0 12.6 0a6.3 6.3 0 1 0 -12.6 0M1213.9 237.5a6.3 6.3 0 1 0 12.6 0a6.3 6.3 0 1 0 -12.6 0M1216.9 237.5a6.3 6.3 0 1 0 12.6 0a6.3 6.3 0 1 0 -12.6 0M1219.9 237.5a6.3 6.3 0 1 0 12.6 0a6.3 6.3 0 1 0 -12.6 0M1223 237.5a6.3 6.3 0 1 0 12.6 0a6.3 6.3 0 1 0 -12.6 0M1226 237.5a6.3 6.3 0 1 0 12.6 0a6.3 6.3 0 1 0 -12.6 0M1229 237.5a6.3 6.3 0 1 0 12.6 0a6.3 6.3 0 1 0 -12.6 0M1232 237.5a6.3 6.3 0 1 0 12.6 0a6.3 6.3 0 1 0 -12.6 0M1235 237.5a6.3 6.3 0 1 0 12.6 0a6.3 6.3 0 1 0 -12.6 0M1262.1 237.5a6.3 6.3 0 1 0 12.6 0a6.3 6.3 0 1 0 -12.6 0M1265.2 237.5a6.3 6.3 0 1 0 12.6 0a6.3 6.3 0 1 0 -12.6 0M1276.7 237.5a6.3 6.3 0 1 0 12.6 0a6.3 6.3 0 1 0 -12.6 0M1280.4 237.5a6.3 6.3 0 1 0 12.6 0a6.3 6.3 0 1 0 -12.6 0M1302.2 237.5a6.3 6.3 0 1 0 12.6 0a6.3 6.3 0 1 0 -12.6 0M1320.7 237.5a6.3 6.3 0 1 0 12.6 0a6.3 6.3 0 1 0 -12.6 0M1323.8 237.5a6.3 6.3 0 1 0 12.6 0a6.3 6.3 0 1 0 -12.6 0M1326.8 237.5a6.3 6.3 0 1 0 12.6 0a6.3 6.3 0 1 0 -12.6 0M1329.9 237.5a6.3 6.3 0 1 0 12.6 0a6.3 6.3 0 1 0 -12.6 0M1354.1 237.5a6.3 6.3 0 1 0 12.6 0a6.3 6.3 0 1 0 -12.6 0M1376.7 237.5a6.3 6.3 0 1 0 12.6 0a6.3 6.3 0 1 0 -12.6 0M1403.5 237.5a6.3 6.3 0 1 0 12.6 0a6.3 6.3 0 1 0 -12.6 0M1406.7 237.5a6.3 6.3 0 1 0 12.6 0a6.3 6.3 0 1 0 -12.6 0M1411.7 237.5a6.3 6.3 0 1 0 12.6 0a6.3 6.3 0 1 0 -12.6 0M1415.7 237.5a6.3 6.3 0 1 0 12.6 0a6.3 6.3 0 1 0 -12.6 0M1420.7 237.5a6.3 6.3 0 1 0 12.6 0a6.3 6.3 0 1 0 -12.6 0M1424.7 237.5a6.3 6.3 0 1 0 12.6 0a6.3 6.3 0 1 0 -12.6 0M1427.9 237.5a6.3 6.3 0 1 0 12.6 0a6.3 6.3 0 1 0 -12.6 0M924.7 304.9a6.3 6.3 0 1 0 12.6 0a6.3 6.3 0 1 0 -12.6 0M927.7 304.9a6.3 6.3 0 1 0 12.6 0a6.3 6.3 0 1 0 -12.6 0M930.7 304.9a6.3 6.3 0 1 0 12.6 0a6.3 6.3 0 1 0 -12.6 0M933.2 304.9a6.3 6.3 0 1 0 12.6 0a6.3 6.3 0 1 0 -12.6 0M1003.7 304.9a6.3 6.3 0 1 0 12.6 0a6.3 6.3 0 1 0 -12.6 0M1008.7 304.9a6.3 6.3 0 1 0 12.6 0a6.3 6.3 0 1 0 -12.6 0M1014.7 304.9a6.3 6.3 0 1 0 12.6 0a6.3 6.3 0 1 0 -12.6 0M1049.7 304.9a6.3 6.3 0 1 0 12.6 0a6.3 6.3 0 1 0 -12.6 0M1097 304.9a6.3 6.3 0 1 0 12.6 0a6.3 6.3 0 1 0 -12.6 0M1341.9 304.9a6.3 6.3 0 1 0 12.6 0a6.3 6.3 0 1 0 -12.6 0M1345 304.9a6.3 6.3 0 1 0 12.6 0a6.3 6.3 0 1 0 -12.6 0M1348 304.9a6.3 6.3 0 1 0 12.6 0a6.3 6.3 0 1 0 -12.6 0M1351.1 304.9a6.3 6.3 0 1 0 12.6 0a6.3 6.3 0 1 0 -12.6 0M1354.2 304.9a6.3 6.3 0 1 0 12.6 0a6.3 6.3 0 1 0 -12.6 0M1371.2 304.9a6.3 6.3 0 1 0 12.6 0a6.3 6.3 0 1 0 -12.6 0M1386.3 304.9a6.3 6.3 0 1 0 12.6 0a6.3 6.3 0 1 0 -12.6 0M1389.2 304.9a6.3 6.3 0 1 0 12.6 0a6.3 6.3 0 1 0 -12.6 0M1394.7 304.9a6.3 6.3 0 1 0 12.6 0a6.3 6.3 0 1 0 -12.6 0M1398.7 304.9a6.3 6.3 0 1 0 12.6 0a6.3 6.3 0 1 0 -12.6 0M1404.6 304.9a6.3 6.3 0 1 0 12.6 0a6.3 6.3 0 1 0 -12.6 0M1409.7 304.9a6.3 6.3 0 1 0 12.6 0a6.3 6.3 0 1 0 -12.6 0M1415.7 304.9a6.3 6.3 0 1 0 12.6 0a6.3 6.3 0 1 0 -12.6 0M1418.7 304.9a6.3 6.3 0 1 0 12.6 0a6.3 6.3 0 1 0 -12.6 0M1423.9 304.9a6.3 6.3 0 1 0 12.6 0a6.3 6.3 0 1 0 -12.6 0M940.6 372.3a6.3 6.3 0 1 0 12.6 0a6.3 6.3 0 1 0 -12.6 0M1014.9 372.3a6.3 6.3 0 1 0 12.6 0a6.3 6.3 0 1 0 -12.6 0M1017.4 372.3a6.3 6.3 0 1 0 12.6 0a6.3 6.3 0 1 0 -12.6 0M1020 372.3a6.3 6.3 0 1 0 12.6 0a6.3 6.3 0 1 0 -12.6 0M1359.9 372.3a6.3 6.3 0 1 0 12.6 0a6.3 6.3 0 1 0 -12.6 0M1371.7 372.3a6.3 6.3 0 1 0 12.6 0a6.3 6.3 0 1 0 -12.6 0M1425.5 372.3a6.3 6.3 0 1 0 12.6 0a6.3 6.3 0 1 0 -12.6 0M997.6 574.6a6.3 6.3 0 1 0 12.6 0a6.3 6.3 0 1 0 -12.6 0M1007.7 574.6a6.3 6.3 0 1 0 12.6 0a6.3 6.3 0 1 0 -12.6 0M1010.7 574.6a6.3 6.3 0 1 0 12.6 0a6.3 6.3 0 1 0 -12.6 0M1032.4 574.6a6.3 6.3 0 1 0 12.6 0a6.3 6.3 0 1 0 -12.6 0M1330.7 574.6a6.3 6.3 0 1 0 12.6 0a6.3 6.3 0 1 0 -12.6 0M1334.7 574.6a6.3 6.3 0 1 0 12.6 0a6.3 6.3 0 1 0 -12.6 0M1339.7 574.6a6.3 6.3 0 1 0 12.6 0a6.3 6.3 0 1 0 -12.6 0M1343.7 574.6a6.3 6.3 0 1 0 12.6 0a6.3 6.3 0 1 0 -12.6 0M920.5 642a6.3 6.3 0 1 0 12.6 0a6.3 6.3 0 1 0 -12.6 0M934.4 642a6.3 6.3 0 1 0 12.6 0a6.3 6.3 0 1 0 -12.6 0M1015.7 642a6.3 6.3 0 1 0 12.6 0a6.3 6.3 0 1 0 -12.6 0M1018.2 642a6.3 6.3 0 1 0 12.6 0a6.3 6.3 0 1 0 -12.6 0M1020 642a6.3 6.3 0 1 0 12.6 0a6.3 6.3 0 1 0 -12.6 0M1077.7 642a6.3 6.3 0 1 0 12.6 0a6.3 6.3 0 1 0 -12.6 0M1337 642a6.3 6.3 0 1 0 12.6 0a6.3 6.3 0 1 0 -12.6 0"/>
<rect x="1402.7" y="45.9" width="106.1" height="79.2" fill="#fff" stroke="#262626" stroke-width="4"/>
<circle cx="1442.6" cy="61.6" r="6.0" fill="none" stroke="#0072BD" stroke-width="3.7"/>
<text x="1479.7" y="68.2" font-size="18.5" font-family="'Liberation Sans', Arial, sans-serif" font-weight="bold" stroke-width="0.6" stroke-linejoin="round" fill="#000" stroke="#000">A</text>
<circle cx="1442.6" cy="85.8" r="6.0" fill="none" stroke="#D95319" stroke-width="3.7"/>
<text x="1479.7" y="92.4" font-size="18.5" font-family="'Liberation Sans', Arial, sans-serif" font-weight="bold" stroke-width="0.6" stroke-linejoin="round" fill="#000" stroke="#000">IC</text>
<circle cx="1442.6" cy="110" r="6.0" fill="none" stroke="#EDB120" stroke-width="3.7"/>
<text x="1479.7" y="116.6" font-size="18.5" font-family="'Liberation Sans', Arial, sans-serif" font-weight="bold" stroke-width="0.6" stroke-linejoin="round" fill="#000" stroke="#000">MI</text>
<text x="909.8" y="69.6" font-size="21.3" letter-spacing="-0.15" text-anchor="end" font-family="'Liberation Sans', Arial, sans-serif" font-weight="bold" stroke-width="0.6" stroke-linejoin="round" fill="#262626" stroke="#262626">P sheet</text>
<text x="909.8" y="137" font-size="21.3" letter-spacing="-0.15" text-anchor="end" font-family="'Liberation Sans', Arial, sans-serif" font-weight="bold" stroke-width="0.6" stroke-linejoin="round" fill="#262626" stroke="#262626">room</text>
<text x="909.8" y="204.4" font-size="21.3" letter-spacing="-0.15" text-anchor="end" font-family="'Liberation Sans', Arial, sans-serif" font-weight="bold" stroke-width="0.6" stroke-linejoin="round" fill="#262626" stroke="#262626">body P</text>
<text x="909.8" y="271.8" font-size="21.3" letter-spacing="-0.15" text-anchor="end" font-family="'Liberation Sans', Arial, sans-serif" font-weight="bold" stroke-width="0.6" stroke-linejoin="round" fill="#262626" stroke="#262626">face P</text>
<text x="909.8" y="339.2" font-size="21.3" letter-spacing="-0.15" text-anchor="end" font-family="'Liberation Sans', Arial, sans-serif" font-weight="bold" stroke-width="0.6" stroke-linejoin="round" fill="#262626" stroke="#262626">body MI</text>
<text x="909.8" y="406.6" font-size="21.3" letter-spacing="-0.15" text-anchor="end" font-family="'Liberation Sans', Arial, sans-serif" font-weight="bold" stroke-width="0.6" stroke-linejoin="round" fill="#262626" stroke="#262626">face MI</text>
<text x="909.8" y="474.1" font-size="21.3" letter-spacing="-0.15" text-anchor="end" font-family="'Liberation Sans', Arial, sans-serif" font-weight="bold" stroke-width="0.6" stroke-linejoin="round" fill="#262626" stroke="#262626">body IC</text>
<text x="909.8" y="541.5" font-size="21.3" letter-spacing="-0.15" text-anchor="end" font-family="'Liberation Sans', Arial, sans-serif" font-weight="bold" stroke-width="0.6" stroke-linejoin="round" fill="#262626" stroke="#262626">face IC</text>
<text x="909.8" y="608.9" font-size="21.3" letter-spacing="-0.15" text-anchor="end" font-family="'Liberation Sans', Arial, sans-serif" font-weight="bold" stroke-width="0.6" stroke-linejoin="round" fill="#262626" stroke="#262626">body A</text>
<text x="909.8" y="676.3" font-size="21.3" letter-spacing="-0.15" text-anchor="end" font-family="'Liberation Sans', Arial, sans-serif" font-weight="bold" stroke-width="0.6" stroke-linejoin="round" fill="#262626" stroke="#262626">face A</text>
<text x="919.1" y="731.2" font-size="21.5" text-anchor="middle" font-family="'Liberation Sans', Arial, sans-serif" font-weight="bold" stroke-width="0.6" stroke-linejoin="round" fill="#262626" stroke="#262626">0</text>
<text x="1020" y="731.2" font-size="21.5" text-anchor="middle" font-family="'Liberation Sans', Arial, sans-serif" font-weight="bold" stroke-width="0.6" stroke-linejoin="round" fill="#262626" stroke="#262626">1</text>
<text x="1121" y="731.2" font-size="21.5" text-anchor="middle" font-family="'Liberation Sans', Arial, sans-serif" font-weight="bold" stroke-width="0.6" stroke-linejoin="round" fill="#262626" stroke="#262626">2</text>
<text x="1221.9" y="731.2" font-size="21.5" text-anchor="middle" font-family="'Liberation Sans', Arial, sans-serif" font-weight="bold" stroke-width="0.6" stroke-linejoin="round" fill="#262626" stroke="#262626">3</text>
<text x="1322.8" y="731.2" font-size="21.5" text-anchor="middle" font-family="'Liberation Sans', Arial, sans-serif" font-weight="bold" stroke-width="0.6" stroke-linejoin="round" fill="#262626" stroke="#262626">4</text>
<text x="1423.8" y="731.2" font-size="21.5" text-anchor="middle" font-family="'Liberation Sans', Arial, sans-serif" font-weight="bold" stroke-width="0.6" stroke-linejoin="round" fill="#262626" stroke="#262626">5</text>
<text x="1524.7" y="731.2" font-size="21.5" text-anchor="middle" font-family="'Liberation Sans', Arial, sans-serif" font-weight="bold" stroke-width="0.6" stroke-linejoin="round" fill="#262626" stroke="#262626">6</text>
<text x="1221.9" y="757.8" font-size="23.3" text-anchor="middle" font-family="'Liberation Sans', Arial, sans-serif" font-weight="bold" stroke-width="0.6" stroke-linejoin="round" fill="#262626" stroke="#262626">Training time [min]</text>
<text x="1221.9" y="22.1" font-size="23.2" text-anchor="middle" font-family="'Liberation Sans', Arial, sans-serif" font-weight="bold" stroke-width="0.6" stroke-linejoin="round" fill="#000" stroke="#000">Team 7</text>
<text transform="translate(820 366.2) rotate(-90)" font-size="23.5" text-anchor="middle" font-family="'Liberation Sans', Arial, sans-serif" font-weight="bold" stroke-width="0.6" stroke-linejoin="round" fill="#262626" stroke="#262626">AOI</text>
</g>
</svg>
</body></html>
